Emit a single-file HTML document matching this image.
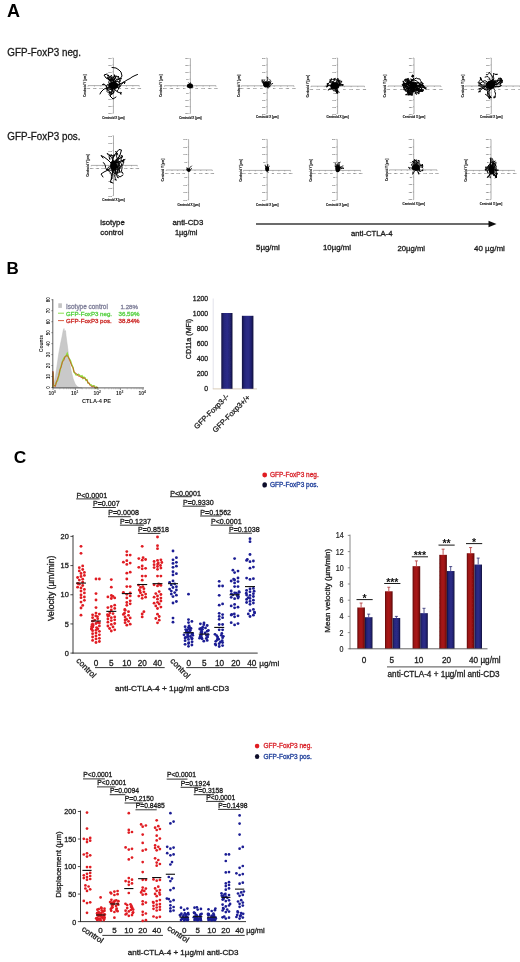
<!DOCTYPE html>
<html><head><meta charset="utf-8"><title>Figure</title>
<style>
html,body{margin:0;padding:0;background:#fff;}
body{width:520px;height:962px;overflow:hidden;font-family:"Liberation Sans",sans-serif;}
svg{display:block;font-family:"Liberation Sans",sans-serif;}
</style></head><body>
<svg width="520" height="962" viewBox="0 0 520 962">
<defs><filter id="soft" x="0" y="0" width="520" height="962" filterUnits="userSpaceOnUse"><feGaussianBlur stdDeviation="0.4"/></filter></defs>
<rect width="520" height="962" fill="#ffffff"/>
<g fill="#1a1a1a" filter="url(#soft)">
<text x="7.10" y="17.10" font-size="18" fill="#000" font-weight="bold">A</text>
<text x="6.40" y="274.20" font-size="17" fill="#000" font-weight="bold">B</text>
<text x="13.80" y="462.90" font-size="17.3" fill="#000" font-weight="bold">C</text>
<text transform="translate(7.3,56.0) scale(0.955,1)" font-size="10.3" stroke="#1a1a1a" stroke-width="0.3">GFP-FoxP3 neg.</text>
<text transform="translate(7.3,139.5) scale(0.955,1)" font-size="10.3" stroke="#1a1a1a" stroke-width="0.3">GFP-FoxP3 pos.</text>
<line x1="113.40" y1="58.00" x2="113.40" y2="113.30" stroke="#777" stroke-width="0.6"/>
<line x1="88.00" y1="85.60" x2="139.30" y2="85.60" stroke="#777" stroke-width="0.6"/>
<line x1="112.40" y1="58.00" x2="113.40" y2="58.00" stroke="#777" stroke-width="0.5"/>
<text x="111.80" y="58.80" font-size="2.2" text-anchor="end" fill="#666" font-weight="bold">200</text>
<line x1="112.40" y1="64.91" x2="113.40" y2="64.91" stroke="#777" stroke-width="0.5"/>
<text x="111.80" y="65.71" font-size="2.2" text-anchor="end" fill="#666" font-weight="bold">150</text>
<line x1="112.40" y1="71.83" x2="113.40" y2="71.83" stroke="#777" stroke-width="0.5"/>
<text x="111.80" y="72.62" font-size="2.2" text-anchor="end" fill="#666" font-weight="bold">100</text>
<line x1="112.40" y1="78.74" x2="113.40" y2="78.74" stroke="#777" stroke-width="0.5"/>
<text x="111.80" y="79.54" font-size="2.2" text-anchor="end" fill="#666" font-weight="bold">50</text>
<line x1="112.40" y1="92.56" x2="113.40" y2="92.56" stroke="#777" stroke-width="0.5"/>
<text x="111.80" y="93.36" font-size="2.2" text-anchor="end" fill="#666" font-weight="bold">-50</text>
<line x1="112.40" y1="99.47" x2="113.40" y2="99.47" stroke="#777" stroke-width="0.5"/>
<text x="111.80" y="100.27" font-size="2.2" text-anchor="end" fill="#666" font-weight="bold">-100</text>
<line x1="112.40" y1="106.39" x2="113.40" y2="106.39" stroke="#777" stroke-width="0.5"/>
<text x="111.80" y="107.19" font-size="2.2" text-anchor="end" fill="#666" font-weight="bold">-150</text>
<line x1="112.40" y1="113.30" x2="113.40" y2="113.30" stroke="#777" stroke-width="0.5"/>
<text x="111.80" y="114.10" font-size="2.2" text-anchor="end" fill="#666" font-weight="bold">-200</text>
<line x1="88.00" y1="85.60" x2="88.00" y2="86.60" stroke="#777" stroke-width="0.5"/>
<text x="88.00" y="89.20" font-size="2.2" text-anchor="middle" fill="#666" font-weight="bold">-200</text>
<line x1="94.41" y1="85.60" x2="94.41" y2="86.60" stroke="#777" stroke-width="0.5"/>
<text x="94.41" y="89.20" font-size="2.2" text-anchor="middle" fill="#666" font-weight="bold">-150</text>
<line x1="100.83" y1="85.60" x2="100.83" y2="86.60" stroke="#777" stroke-width="0.5"/>
<text x="100.83" y="89.20" font-size="2.2" text-anchor="middle" fill="#666" font-weight="bold">-100</text>
<line x1="107.24" y1="85.60" x2="107.24" y2="86.60" stroke="#777" stroke-width="0.5"/>
<text x="107.24" y="89.20" font-size="2.2" text-anchor="middle" fill="#666" font-weight="bold">-50</text>
<line x1="120.06" y1="85.60" x2="120.06" y2="86.60" stroke="#777" stroke-width="0.5"/>
<text x="120.06" y="89.20" font-size="2.2" text-anchor="middle" fill="#666" font-weight="bold">50</text>
<line x1="126.48" y1="85.60" x2="126.48" y2="86.60" stroke="#777" stroke-width="0.5"/>
<text x="126.48" y="89.20" font-size="2.2" text-anchor="middle" fill="#666" font-weight="bold">100</text>
<line x1="132.89" y1="85.60" x2="132.89" y2="86.60" stroke="#777" stroke-width="0.5"/>
<text x="132.89" y="89.20" font-size="2.2" text-anchor="middle" fill="#666" font-weight="bold">150</text>
<line x1="139.30" y1="85.60" x2="139.30" y2="86.60" stroke="#777" stroke-width="0.5"/>
<text x="139.30" y="89.20" font-size="2.2" text-anchor="middle" fill="#666" font-weight="bold">200</text>
<text x="85.70" y="85.60" font-size="3.0" text-anchor="middle" fill="#111" font-weight="bold" transform="rotate(-90 85.70 85.60)" stroke="#111" stroke-width="0.12">Centroid Y [µm]</text>
<text x="113.40" y="119.00" font-size="3.0" text-anchor="middle" fill="#111" font-weight="bold" stroke="#111" stroke-width="0.12">Centroid X [µm]</text>
<ellipse cx="113.4" cy="85.6" rx="5.2" ry="3.8" fill="#000"/>
<path d="M113.4 85.6L114.3 84.6L114.9 83.5L114.6 82.2L113.6 81.4L112.7 80.4L111.9 79.4L111.4 78.2L110.4 77.4L109.6 76.4L110.9 76.5L111.3 75.2L111.9 76.4L112.3 77.6L112.0 78.9 M113.4 85.6L113.6 86.9L114.8 87.3L116.1 87.5L117.4 87.5L118.7 87.2L119.9 87.0L120.5 85.9L121.1 84.7L121.8 83.6L123.0 83.1L123.6 81.9L124.8 82.6L124.4 83.8L124.9 82.6 M113.4 85.6L113.4 86.9L113.0 88.1L112.4 89.3L111.4 90.1L110.8 88.9L109.5 88.7L108.4 88.0L107.2 87.6L106.6 86.4L105.5 85.7L104.9 84.5L103.6 84.2L102.4 84.5L103.6 84.3 M113.4 85.6L112.2 86.1L112.9 87.2L113.7 88.2L114.9 88.8L114.8 90.1L116.1 90.4L116.8 91.5L118.0 92.1L119.2 92.6L120.5 92.4L121.7 92.9L120.4 93.2L120.9 94.4L120.3 93.3 M113.4 85.6L113.3 86.9L112.6 88.0L111.7 89.0L112.5 90.0L112.2 91.2L111.5 92.4L110.2 92.3L109.0 91.9L107.8 92.4L107.0 91.4L107.2 90.1L107.2 88.8L108.0 87.7L108.8 86.7 M113.4 85.6L113.8 86.8L114.3 88.0L114.5 89.3L113.9 90.5L113.7 91.7L113.8 93.0L112.5 93.4L111.2 93.3L110.2 94.0L109.5 92.9L109.5 91.6L108.9 90.4L107.7 90.0L106.6 89.3 M113.4 85.6L113.5 86.9L114.3 88.0L115.5 87.6L115.8 86.4L115.1 85.3L114.4 84.2L113.5 83.2L112.3 82.7L111.1 83.0L111.1 81.7L110.1 80.8L109.0 80.1L108.7 78.8L108.5 77.6 M113.4 85.6L112.2 85.2L111.0 84.6L109.7 84.3L108.5 84.1L107.3 84.7L106.6 85.8L106.2 87.0L106.6 88.3L107.4 89.3L108.7 89.1L110.0 89.3L111.2 89.4L112.3 88.6L111.4 87.6 M113.4 85.6L113.2 86.9L112.8 88.1L112.7 89.4L111.8 90.4L111.3 91.6L110.1 92.2L109.4 93.3L109.1 94.6L109.9 95.6L110.9 94.8L112.0 94.1L113.1 93.4L113.5 92.1L114.2 91.1 M113.4 85.6L112.7 84.5L112.4 83.2L113.0 82.0L113.4 80.8L113.4 79.5L113.1 78.3L113.5 77.0L114.4 76.0L114.4 74.7L114.6 76.0L115.3 77.1L115.0 78.3L114.1 79.2L113.7 80.5 M113.4 85.6L112.5 84.7L112.2 83.4L112.5 82.2L113.7 82.0L115.0 82.1L116.3 81.7L117.4 81.1L118.4 81.9L119.7 81.8L120.3 80.7L120.7 79.5L121.5 78.4L120.2 78.4L118.9 78.5 M113.4 85.6L113.0 84.4L112.0 83.6L111.3 82.5L111.0 81.2L110.4 80.0L111.7 79.6L112.9 79.3L113.4 80.5L114.6 80.3L114.4 79.0L115.1 77.9L116.1 77.1L117.0 76.2L117.8 77.2 M113.4 85.6L112.3 84.9L111.2 84.2L110.0 83.9L108.9 83.0L108.9 81.7L109.3 80.5L109.4 79.2L110.7 78.9L111.2 80.1L111.1 81.4L111.8 82.5L112.9 82.0L113.9 82.8L115.2 82.7 M113.4 85.6L114.5 84.9L115.7 84.4L117.0 84.2L118.2 84.7L119.5 84.6L120.4 83.6L119.6 82.6L119.9 81.3L119.5 80.1L118.6 79.1L117.8 78.1L118.6 77.1L117.9 76.0L118.7 77.0 M113.4 85.6L113.9 84.4L113.9 83.1L114.4 81.9L113.2 81.3L112.4 80.3L111.1 80.8L110.1 80.0L109.1 79.1L108.2 78.2L107.2 77.4L107.7 78.6L108.9 79.1L110.1 79.5L111.0 78.5 M113.4 85.6L113.8 84.4L114.6 83.4L115.6 82.4L116.6 81.7L117.8 81.2L118.6 82.3L119.6 83.2L119.7 84.4L119.3 85.7L119.3 87.0L118.5 88.0L118.5 89.3L117.5 90.2L117.2 91.5 M113.4 85.6L113.8 84.4L113.9 83.1L114.4 81.9L113.7 80.8L112.6 80.1L111.4 79.6L110.3 78.9L109.4 78.0L109.3 76.7L108.2 76.1L108.9 75.0L108.1 76.0L107.8 74.7L107.8 76.0 M113.4 85.6L114.4 84.8L115.5 84.1L115.4 82.8L115.0 81.5L115.5 80.3L116.3 79.3L115.6 78.2L115.6 76.9L116.5 75.9L115.2 76.0L114.3 77.0L113.5 78.0L112.2 78.2L111.3 77.2 M114 85L116 80L120 79L122 76L121 72L119 70L116 68L112 67.5 M114 85L120 84L124 82L127 80L130 78.5L132 77L135 75.5L137.5 74.5 M114 85L108 88L104 89L101 92L100 94 M114 85L112 92L110 96L113 99L116 97 M110 80L106 78L104 75L107 74" fill="none" stroke="#000" stroke-width="1.0" stroke-linejoin="round" stroke-linecap="round"/>
<line x1="190.40" y1="58.50" x2="190.40" y2="113.50" stroke="#777" stroke-width="0.6"/>
<line x1="164.50" y1="85.70" x2="216.00" y2="85.70" stroke="#777" stroke-width="0.6"/>
<line x1="189.40" y1="58.50" x2="190.40" y2="58.50" stroke="#777" stroke-width="0.5"/>
<text x="188.80" y="59.30" font-size="2.2" text-anchor="end" fill="#666" font-weight="bold">200</text>
<line x1="189.40" y1="65.38" x2="190.40" y2="65.38" stroke="#777" stroke-width="0.5"/>
<text x="188.80" y="66.17" font-size="2.2" text-anchor="end" fill="#666" font-weight="bold">150</text>
<line x1="189.40" y1="72.25" x2="190.40" y2="72.25" stroke="#777" stroke-width="0.5"/>
<text x="188.80" y="73.05" font-size="2.2" text-anchor="end" fill="#666" font-weight="bold">100</text>
<line x1="189.40" y1="79.12" x2="190.40" y2="79.12" stroke="#777" stroke-width="0.5"/>
<text x="188.80" y="79.92" font-size="2.2" text-anchor="end" fill="#666" font-weight="bold">50</text>
<line x1="189.40" y1="92.88" x2="190.40" y2="92.88" stroke="#777" stroke-width="0.5"/>
<text x="188.80" y="93.67" font-size="2.2" text-anchor="end" fill="#666" font-weight="bold">-50</text>
<line x1="189.40" y1="99.75" x2="190.40" y2="99.75" stroke="#777" stroke-width="0.5"/>
<text x="188.80" y="100.55" font-size="2.2" text-anchor="end" fill="#666" font-weight="bold">-100</text>
<line x1="189.40" y1="106.62" x2="190.40" y2="106.62" stroke="#777" stroke-width="0.5"/>
<text x="188.80" y="107.42" font-size="2.2" text-anchor="end" fill="#666" font-weight="bold">-150</text>
<line x1="189.40" y1="113.50" x2="190.40" y2="113.50" stroke="#777" stroke-width="0.5"/>
<text x="188.80" y="114.30" font-size="2.2" text-anchor="end" fill="#666" font-weight="bold">-200</text>
<line x1="164.50" y1="85.70" x2="164.50" y2="86.70" stroke="#777" stroke-width="0.5"/>
<text x="164.50" y="89.30" font-size="2.2" text-anchor="middle" fill="#666" font-weight="bold">-200</text>
<line x1="170.94" y1="85.70" x2="170.94" y2="86.70" stroke="#777" stroke-width="0.5"/>
<text x="170.94" y="89.30" font-size="2.2" text-anchor="middle" fill="#666" font-weight="bold">-150</text>
<line x1="177.38" y1="85.70" x2="177.38" y2="86.70" stroke="#777" stroke-width="0.5"/>
<text x="177.38" y="89.30" font-size="2.2" text-anchor="middle" fill="#666" font-weight="bold">-100</text>
<line x1="183.81" y1="85.70" x2="183.81" y2="86.70" stroke="#777" stroke-width="0.5"/>
<text x="183.81" y="89.30" font-size="2.2" text-anchor="middle" fill="#666" font-weight="bold">-50</text>
<line x1="196.69" y1="85.70" x2="196.69" y2="86.70" stroke="#777" stroke-width="0.5"/>
<text x="196.69" y="89.30" font-size="2.2" text-anchor="middle" fill="#666" font-weight="bold">50</text>
<line x1="203.12" y1="85.70" x2="203.12" y2="86.70" stroke="#777" stroke-width="0.5"/>
<text x="203.12" y="89.30" font-size="2.2" text-anchor="middle" fill="#666" font-weight="bold">100</text>
<line x1="209.56" y1="85.70" x2="209.56" y2="86.70" stroke="#777" stroke-width="0.5"/>
<text x="209.56" y="89.30" font-size="2.2" text-anchor="middle" fill="#666" font-weight="bold">150</text>
<line x1="216.00" y1="85.70" x2="216.00" y2="86.70" stroke="#777" stroke-width="0.5"/>
<text x="216.00" y="89.30" font-size="2.2" text-anchor="middle" fill="#666" font-weight="bold">200</text>
<text x="162.20" y="85.70" font-size="3.0" text-anchor="middle" fill="#111" font-weight="bold" transform="rotate(-90 162.20 85.70)" stroke="#111" stroke-width="0.12">Centroid Y [µm]</text>
<text x="190.40" y="118.70" font-size="3.0" text-anchor="middle" fill="#111" font-weight="bold" stroke="#111" stroke-width="0.12">Centroid X [µm]</text>
<ellipse cx="190.0" cy="85.7" rx="3.0" ry="2.3" fill="#000"/>
<path d="M190.0 85.7L190.6 86.0L191.1 86.5L191.4 87.2L191.6 87.8L192.3 87.8 M190.0 85.7L189.7 86.3L189.3 86.9L189.3 87.6L189.7 88.2L190.2 88.7 M190.0 85.7L189.9 86.4L189.5 87.0L188.9 86.8L188.2 87.0L187.5 86.9 M190.0 85.7L190.5 86.2L191.2 86.4L191.3 87.1L191.5 87.8L192.2 87.5 M190.0 85.7L189.8 85.0L189.9 84.4L189.8 83.7L189.2 83.3L188.7 82.8 M190.0 85.7L189.8 85.0L190.4 84.8L190.8 84.2L190.7 83.5L190.5 82.8 M190.0 85.7L189.4 85.4L188.7 85.6L188.0 85.5L187.4 85.8L187.3 86.5 M190.0 85.7L190.7 85.5L191.4 85.6L191.9 86.0L192.4 86.5L193.0 86.8 " fill="none" stroke="#000" stroke-width="0.9" stroke-linejoin="round" stroke-linecap="round"/>
<line x1="267.20" y1="58.00" x2="267.20" y2="113.70" stroke="#777" stroke-width="0.6"/>
<line x1="241.30" y1="85.80" x2="294.00" y2="85.80" stroke="#777" stroke-width="0.6"/>
<line x1="266.20" y1="58.00" x2="267.20" y2="58.00" stroke="#777" stroke-width="0.5"/>
<text x="265.60" y="58.80" font-size="2.2" text-anchor="end" fill="#666" font-weight="bold">200</text>
<line x1="266.20" y1="64.96" x2="267.20" y2="64.96" stroke="#777" stroke-width="0.5"/>
<text x="265.60" y="65.76" font-size="2.2" text-anchor="end" fill="#666" font-weight="bold">150</text>
<line x1="266.20" y1="71.92" x2="267.20" y2="71.92" stroke="#777" stroke-width="0.5"/>
<text x="265.60" y="72.72" font-size="2.2" text-anchor="end" fill="#666" font-weight="bold">100</text>
<line x1="266.20" y1="78.89" x2="267.20" y2="78.89" stroke="#777" stroke-width="0.5"/>
<text x="265.60" y="79.69" font-size="2.2" text-anchor="end" fill="#666" font-weight="bold">50</text>
<line x1="266.20" y1="92.81" x2="267.20" y2="92.81" stroke="#777" stroke-width="0.5"/>
<text x="265.60" y="93.61" font-size="2.2" text-anchor="end" fill="#666" font-weight="bold">-50</text>
<line x1="266.20" y1="99.78" x2="267.20" y2="99.78" stroke="#777" stroke-width="0.5"/>
<text x="265.60" y="100.58" font-size="2.2" text-anchor="end" fill="#666" font-weight="bold">-100</text>
<line x1="266.20" y1="106.74" x2="267.20" y2="106.74" stroke="#777" stroke-width="0.5"/>
<text x="265.60" y="107.54" font-size="2.2" text-anchor="end" fill="#666" font-weight="bold">-150</text>
<line x1="266.20" y1="113.70" x2="267.20" y2="113.70" stroke="#777" stroke-width="0.5"/>
<text x="265.60" y="114.50" font-size="2.2" text-anchor="end" fill="#666" font-weight="bold">-200</text>
<line x1="241.30" y1="85.80" x2="241.30" y2="86.80" stroke="#777" stroke-width="0.5"/>
<text x="241.30" y="89.40" font-size="2.2" text-anchor="middle" fill="#666" font-weight="bold">-200</text>
<line x1="247.89" y1="85.80" x2="247.89" y2="86.80" stroke="#777" stroke-width="0.5"/>
<text x="247.89" y="89.40" font-size="2.2" text-anchor="middle" fill="#666" font-weight="bold">-150</text>
<line x1="254.48" y1="85.80" x2="254.48" y2="86.80" stroke="#777" stroke-width="0.5"/>
<text x="254.48" y="89.40" font-size="2.2" text-anchor="middle" fill="#666" font-weight="bold">-100</text>
<line x1="261.06" y1="85.80" x2="261.06" y2="86.80" stroke="#777" stroke-width="0.5"/>
<text x="261.06" y="89.40" font-size="2.2" text-anchor="middle" fill="#666" font-weight="bold">-50</text>
<line x1="274.24" y1="85.80" x2="274.24" y2="86.80" stroke="#777" stroke-width="0.5"/>
<text x="274.24" y="89.40" font-size="2.2" text-anchor="middle" fill="#666" font-weight="bold">50</text>
<line x1="280.82" y1="85.80" x2="280.82" y2="86.80" stroke="#777" stroke-width="0.5"/>
<text x="280.82" y="89.40" font-size="2.2" text-anchor="middle" fill="#666" font-weight="bold">100</text>
<line x1="287.41" y1="85.80" x2="287.41" y2="86.80" stroke="#777" stroke-width="0.5"/>
<text x="287.41" y="89.40" font-size="2.2" text-anchor="middle" fill="#666" font-weight="bold">150</text>
<line x1="294.00" y1="85.80" x2="294.00" y2="86.80" stroke="#777" stroke-width="0.5"/>
<text x="294.00" y="89.40" font-size="2.2" text-anchor="middle" fill="#666" font-weight="bold">200</text>
<text x="239.60" y="85.80" font-size="3.0" text-anchor="middle" fill="#111" font-weight="bold" transform="rotate(-90 239.60 85.80)" stroke="#111" stroke-width="0.12">Centroid Y [µm]</text>
<text x="267.20" y="118.40" font-size="3.0" text-anchor="middle" fill="#111" font-weight="bold" stroke="#111" stroke-width="0.12">Centroid X [µm]</text>
<ellipse cx="266.4" cy="84.4" rx="3.2" ry="2.8" fill="#000"/>
<path d="M266.4 84.4L267.4 84.4L267.6 83.3L268.6 83.1L269.4 82.5L270.3 82.0L271.1 81.4L270.4 80.7L269.9 79.7 M266.4 84.4L267.0 85.2L267.7 85.8L268.7 85.9L269.7 86.1L270.4 85.4L270.9 84.4L271.8 83.9L272.7 83.5 M266.4 84.4L265.9 85.2L266.1 86.2L265.6 87.0L264.6 86.7L264.0 85.9L264.2 84.8L264.4 83.8L264.7 82.8 M266.4 84.4L266.0 85.3L265.1 85.8L264.6 84.9L264.0 84.1L263.0 83.7L263.7 82.9L263.3 81.9L262.6 81.1 M266.4 84.4L265.4 84.5L264.6 85.0L264.1 84.1L263.3 83.4L262.5 82.8L262.1 81.9L262.0 80.8L262.2 79.8 M266.4 84.4L266.1 85.3L265.1 85.4L264.5 84.5L264.0 83.6L263.3 82.9L263.0 81.9L263.1 80.9L262.4 80.1 M266.4 84.4L266.2 85.3L265.9 86.2L265.2 85.5L265.2 84.4L266.1 84.1L267.1 84.0L268.1 83.9L269.1 83.8 M266.4 84.4L265.4 84.3L264.7 83.5L264.3 82.6L263.8 81.6L264.2 80.6L265.0 81.2L265.5 82.0L264.8 82.7 M266.4 84.4L266.9 83.5L267.1 82.5L266.8 81.5L267.2 80.5L267.7 79.6L267.8 78.5L267.8 77.5L266.9 77.2 M266.4 84.4L267.2 84.9L267.7 85.7L267.7 86.7L267.2 87.5L268.0 88.1L268.9 87.6L269.0 86.5L270.0 86.6 M266.4 84.4L266.7 83.4L267.5 82.8L268.4 82.2L269.4 82.0L270.2 82.4L270.3 83.4L269.9 84.2L269.5 85.1 M266.4 84.4L267.4 84.4L268.4 84.4L269.3 83.9L270.3 83.7L270.5 82.7L269.9 81.8L268.9 81.7L267.9 81.3 " fill="none" stroke="#000" stroke-width="0.9" stroke-linejoin="round" stroke-linecap="round"/>
<line x1="337.60" y1="58.00" x2="337.60" y2="113.70" stroke="#777" stroke-width="0.6"/>
<line x1="311.00" y1="86.20" x2="364.50" y2="86.20" stroke="#777" stroke-width="0.6"/>
<line x1="336.60" y1="58.00" x2="337.60" y2="58.00" stroke="#777" stroke-width="0.5"/>
<text x="336.00" y="58.80" font-size="2.2" text-anchor="end" fill="#666" font-weight="bold">200</text>
<line x1="336.60" y1="64.96" x2="337.60" y2="64.96" stroke="#777" stroke-width="0.5"/>
<text x="336.00" y="65.76" font-size="2.2" text-anchor="end" fill="#666" font-weight="bold">150</text>
<line x1="336.60" y1="71.92" x2="337.60" y2="71.92" stroke="#777" stroke-width="0.5"/>
<text x="336.00" y="72.72" font-size="2.2" text-anchor="end" fill="#666" font-weight="bold">100</text>
<line x1="336.60" y1="78.89" x2="337.60" y2="78.89" stroke="#777" stroke-width="0.5"/>
<text x="336.00" y="79.69" font-size="2.2" text-anchor="end" fill="#666" font-weight="bold">50</text>
<line x1="336.60" y1="92.81" x2="337.60" y2="92.81" stroke="#777" stroke-width="0.5"/>
<text x="336.00" y="93.61" font-size="2.2" text-anchor="end" fill="#666" font-weight="bold">-50</text>
<line x1="336.60" y1="99.78" x2="337.60" y2="99.78" stroke="#777" stroke-width="0.5"/>
<text x="336.00" y="100.58" font-size="2.2" text-anchor="end" fill="#666" font-weight="bold">-100</text>
<line x1="336.60" y1="106.74" x2="337.60" y2="106.74" stroke="#777" stroke-width="0.5"/>
<text x="336.00" y="107.54" font-size="2.2" text-anchor="end" fill="#666" font-weight="bold">-150</text>
<line x1="336.60" y1="113.70" x2="337.60" y2="113.70" stroke="#777" stroke-width="0.5"/>
<text x="336.00" y="114.50" font-size="2.2" text-anchor="end" fill="#666" font-weight="bold">-200</text>
<line x1="311.00" y1="86.20" x2="311.00" y2="87.20" stroke="#777" stroke-width="0.5"/>
<text x="311.00" y="89.80" font-size="2.2" text-anchor="middle" fill="#666" font-weight="bold">-200</text>
<line x1="317.69" y1="86.20" x2="317.69" y2="87.20" stroke="#777" stroke-width="0.5"/>
<text x="317.69" y="89.80" font-size="2.2" text-anchor="middle" fill="#666" font-weight="bold">-150</text>
<line x1="324.38" y1="86.20" x2="324.38" y2="87.20" stroke="#777" stroke-width="0.5"/>
<text x="324.38" y="89.80" font-size="2.2" text-anchor="middle" fill="#666" font-weight="bold">-100</text>
<line x1="331.06" y1="86.20" x2="331.06" y2="87.20" stroke="#777" stroke-width="0.5"/>
<text x="331.06" y="89.80" font-size="2.2" text-anchor="middle" fill="#666" font-weight="bold">-50</text>
<line x1="344.44" y1="86.20" x2="344.44" y2="87.20" stroke="#777" stroke-width="0.5"/>
<text x="344.44" y="89.80" font-size="2.2" text-anchor="middle" fill="#666" font-weight="bold">50</text>
<line x1="351.12" y1="86.20" x2="351.12" y2="87.20" stroke="#777" stroke-width="0.5"/>
<text x="351.12" y="89.80" font-size="2.2" text-anchor="middle" fill="#666" font-weight="bold">100</text>
<line x1="357.81" y1="86.20" x2="357.81" y2="87.20" stroke="#777" stroke-width="0.5"/>
<text x="357.81" y="89.80" font-size="2.2" text-anchor="middle" fill="#666" font-weight="bold">150</text>
<line x1="364.50" y1="86.20" x2="364.50" y2="87.20" stroke="#777" stroke-width="0.5"/>
<text x="364.50" y="89.80" font-size="2.2" text-anchor="middle" fill="#666" font-weight="bold">200</text>
<text x="309.00" y="86.20" font-size="3.0" text-anchor="middle" fill="#111" font-weight="bold" transform="rotate(-90 309.00 86.20)" stroke="#111" stroke-width="0.12">Centroid Y [µm]</text>
<text x="337.60" y="118.40" font-size="3.0" text-anchor="middle" fill="#111" font-weight="bold" stroke="#111" stroke-width="0.12">Centroid X [µm]</text>
<ellipse cx="334.8" cy="85.9" rx="4.6" ry="3.6" fill="#000"/>
<path d="M334.8 85.9L335.7 86.6L336.8 86.4L337.8 86.1L338.9 85.9L339.8 85.3L339.9 84.1L340.1 83.0L339.4 82.0L338.9 81.0L337.8 80.5L337.0 79.6L335.9 80.0 M334.8 85.9L335.4 85.0L335.7 83.9L336.4 83.0L337.5 83.0L338.6 83.4L339.6 83.0L340.7 83.1L341.2 82.1L342.1 81.4L340.9 81.2L341.5 82.1L340.7 81.2 M334.8 85.9L335.9 86.1L335.3 87.1L335.2 88.3L335.4 89.4L336.0 90.3L337.1 90.6L336.7 91.7L337.1 92.8L338.2 92.8L337.1 93.4L337.5 92.3L337.9 91.2 M334.8 85.9L335.9 86.1L337.0 85.9L337.9 85.3L338.8 84.6L339.9 84.6L340.7 84.0L341.8 84.2L342.3 85.2L342.1 84.1L342.5 85.1L343.6 84.9L342.4 85.3 M334.8 85.9L335.5 86.8L335.2 87.9L335.6 88.9L336.3 89.8L336.2 91.0L336.5 92.1L336.4 93.2L336.6 92.1L335.5 91.5L335.0 90.4L334.1 91.1L333.1 90.4 M334.8 85.9L333.6 86.2L332.6 86.7L332.2 87.8L333.2 88.2L333.7 87.3L334.7 86.7L335.7 86.4L336.1 85.3L335.2 84.5L334.5 83.6L333.5 82.9L332.7 82.0 M334.8 85.9L334.5 87.0L333.4 87.5L332.2 87.8L331.3 88.6L330.2 89.0L329.1 89.4L328.4 90.3L328.7 89.2L329.7 88.8L330.8 89.0L331.9 88.9L331.9 87.8 M334.8 85.9L333.6 86.1L332.5 86.4L331.5 85.7L330.3 85.5L329.1 85.3L328.0 85.5L326.8 85.3L327.8 84.9L328.0 83.8L326.8 83.9L327.9 83.9L328.8 83.3 M334.8 85.9L334.5 87.0L335.5 87.4L336.5 88.0L337.0 89.0L337.7 89.8L337.5 91.0L337.3 92.1L336.9 93.2L337.3 92.1L337.3 91.0L337.2 89.8L336.3 89.1 M334.8 85.9L333.6 86.0L332.4 86.3L331.3 85.8L332.0 84.9L332.0 83.7L331.3 82.8L331.0 81.6L329.8 81.7L329.2 82.7L328.4 83.6L327.3 84.0L328.2 84.7 M334.8 85.9L333.9 85.2L333.6 84.0L334.3 83.2L335.2 82.5L336.2 82.1L336.9 81.2L336.8 80.1L337.6 79.4L337.8 78.2L338.1 79.4L338.1 80.5L338.5 81.6 M334.8 85.9L334.8 84.8L333.8 84.0L333.5 82.9L332.6 82.1L331.5 81.8L330.8 82.7L329.7 82.5L329.7 81.3L330.5 80.6L330.9 79.5L331.4 78.5L331.6 79.6 M334.8 85.9L334.3 84.8L334.6 83.7L333.4 84.0L332.5 84.7L332.0 83.6L332.9 83.0L334.0 83.2L335.1 83.0L334.7 84.1L335.7 84.4L336.3 85.4L336.6 86.5 M334.8 85.9L334.0 85.0L332.9 84.7L331.8 85.3L330.6 85.3L329.4 85.2L328.2 85.3L327.0 85.2L327.7 86.1L327.1 87.1L327.1 86.0L326.9 87.1L325.9 86.4 M334.8 85.9L334.3 84.9L333.9 83.8L333.3 82.7L332.7 81.7L331.7 81.1L330.6 80.5L329.5 80.0L330.6 80.0L331.7 79.7L332.7 79.4L333.8 79.7L334.0 78.6 M334.8 85.9L333.7 85.5L332.8 84.7L332.5 83.6L332.3 82.4L333.1 81.7L334.1 81.2L334.2 80.0L334.5 79.0L335.5 78.4L334.3 78.8L335.2 79.4L334.5 80.3 M334.8 85.9L334.0 85.1L332.8 85.4L332.3 86.4L333.0 87.3L334.1 87.3L334.8 88.2L335.0 89.3L335.3 90.4L336.2 91.1L337.3 91.3L338.3 91.7L339.3 92.2 M334.8 85.9L334.7 84.8L335.2 83.8L336.1 83.1L337.1 83.6L338.0 84.2L338.8 85.0L339.9 85.2L340.0 84.0L339.2 83.1L338.3 82.4L338.2 81.2L337.9 80.1 M334.8 85.9L333.6 85.7L332.4 85.8L331.3 86.2L331.0 85.1L332.0 84.8L332.2 85.9L331.7 87.0L331.2 88.0L332.0 88.8L332.9 89.5L333.9 88.9L334.7 88.1 M334.8 85.9L335.9 85.6L336.7 86.3L337.7 85.8L338.8 85.4L339.5 84.6L339.7 83.4L339.5 82.3L339.6 81.2L338.6 80.6L338.7 79.5L339.1 80.6L340.2 80.4 M334.8 85.9L335.8 85.5L336.7 84.8L337.8 84.5L338.9 84.3L339.9 84.1L339.9 85.2L340.9 85.9L341.6 85.1L342.7 84.8L341.5 84.6L340.4 84.1L339.4 83.5 M334.8 85.9L335.7 85.3L336.5 84.5L336.7 83.4L336.5 82.2L336.9 81.2L337.8 80.6L338.8 81.0L338.0 81.8L337.9 83.0L337.1 83.8L337.4 84.9L338.1 85.8 " fill="none" stroke="#000" stroke-width="0.9" stroke-linejoin="round" stroke-linecap="round"/>
<line x1="414.00" y1="58.00" x2="414.00" y2="113.70" stroke="#777" stroke-width="0.6"/>
<line x1="388.00" y1="86.00" x2="441.00" y2="86.00" stroke="#777" stroke-width="0.6"/>
<line x1="413.00" y1="58.00" x2="414.00" y2="58.00" stroke="#777" stroke-width="0.5"/>
<text x="412.40" y="58.80" font-size="2.2" text-anchor="end" fill="#666" font-weight="bold">200</text>
<line x1="413.00" y1="64.96" x2="414.00" y2="64.96" stroke="#777" stroke-width="0.5"/>
<text x="412.40" y="65.76" font-size="2.2" text-anchor="end" fill="#666" font-weight="bold">150</text>
<line x1="413.00" y1="71.92" x2="414.00" y2="71.92" stroke="#777" stroke-width="0.5"/>
<text x="412.40" y="72.72" font-size="2.2" text-anchor="end" fill="#666" font-weight="bold">100</text>
<line x1="413.00" y1="78.89" x2="414.00" y2="78.89" stroke="#777" stroke-width="0.5"/>
<text x="412.40" y="79.69" font-size="2.2" text-anchor="end" fill="#666" font-weight="bold">50</text>
<line x1="413.00" y1="92.81" x2="414.00" y2="92.81" stroke="#777" stroke-width="0.5"/>
<text x="412.40" y="93.61" font-size="2.2" text-anchor="end" fill="#666" font-weight="bold">-50</text>
<line x1="413.00" y1="99.78" x2="414.00" y2="99.78" stroke="#777" stroke-width="0.5"/>
<text x="412.40" y="100.58" font-size="2.2" text-anchor="end" fill="#666" font-weight="bold">-100</text>
<line x1="413.00" y1="106.74" x2="414.00" y2="106.74" stroke="#777" stroke-width="0.5"/>
<text x="412.40" y="107.54" font-size="2.2" text-anchor="end" fill="#666" font-weight="bold">-150</text>
<line x1="413.00" y1="113.70" x2="414.00" y2="113.70" stroke="#777" stroke-width="0.5"/>
<text x="412.40" y="114.50" font-size="2.2" text-anchor="end" fill="#666" font-weight="bold">-200</text>
<line x1="388.00" y1="86.00" x2="388.00" y2="87.00" stroke="#777" stroke-width="0.5"/>
<text x="388.00" y="89.60" font-size="2.2" text-anchor="middle" fill="#666" font-weight="bold">-200</text>
<line x1="394.62" y1="86.00" x2="394.62" y2="87.00" stroke="#777" stroke-width="0.5"/>
<text x="394.62" y="89.60" font-size="2.2" text-anchor="middle" fill="#666" font-weight="bold">-150</text>
<line x1="401.25" y1="86.00" x2="401.25" y2="87.00" stroke="#777" stroke-width="0.5"/>
<text x="401.25" y="89.60" font-size="2.2" text-anchor="middle" fill="#666" font-weight="bold">-100</text>
<line x1="407.88" y1="86.00" x2="407.88" y2="87.00" stroke="#777" stroke-width="0.5"/>
<text x="407.88" y="89.60" font-size="2.2" text-anchor="middle" fill="#666" font-weight="bold">-50</text>
<line x1="421.12" y1="86.00" x2="421.12" y2="87.00" stroke="#777" stroke-width="0.5"/>
<text x="421.12" y="89.60" font-size="2.2" text-anchor="middle" fill="#666" font-weight="bold">50</text>
<line x1="427.75" y1="86.00" x2="427.75" y2="87.00" stroke="#777" stroke-width="0.5"/>
<text x="427.75" y="89.60" font-size="2.2" text-anchor="middle" fill="#666" font-weight="bold">100</text>
<line x1="434.38" y1="86.00" x2="434.38" y2="87.00" stroke="#777" stroke-width="0.5"/>
<text x="434.38" y="89.60" font-size="2.2" text-anchor="middle" fill="#666" font-weight="bold">150</text>
<line x1="441.00" y1="86.00" x2="441.00" y2="87.00" stroke="#777" stroke-width="0.5"/>
<text x="441.00" y="89.60" font-size="2.2" text-anchor="middle" fill="#666" font-weight="bold">200</text>
<text x="386.00" y="86.00" font-size="3.0" text-anchor="middle" fill="#111" font-weight="bold" transform="rotate(-90 386.00 86.00)" stroke="#111" stroke-width="0.12">Centroid Y [µm]</text>
<text x="414.00" y="118.40" font-size="3.0" text-anchor="middle" fill="#111" font-weight="bold" stroke="#111" stroke-width="0.12">Centroid X [µm]</text>
<ellipse cx="413.7" cy="85.5" rx="3.6" ry="3.2" fill="#000"/>
<path d="M413.7 85.5L415.6 85.9L417.5 86.1L419.4 86.2L421.2 85.6L423.0 85.1L421.1 85.2L419.3 84.7L419.2 82.9L417.5 81.9L416.2 80.6L414.4 80.2L412.5 79.8L410.8 79.0 M413.7 85.5L415.5 84.9L417.3 85.5L419.0 86.3L419.8 84.6L421.7 84.4L423.4 83.7L421.7 84.4L423.0 83.2L421.2 82.5L419.7 83.5L417.8 83.0L416.1 83.7L414.7 82.4 M413.7 85.5L415.1 84.3L413.9 83.0L412.1 82.2L410.2 81.9L411.3 80.5L413.2 80.2L414.7 79.1L416.2 78.0L417.9 78.8L419.8 78.9L420.5 80.6L421.5 82.1L420.9 83.8 M413.7 85.5L413.0 87.2L411.1 87.3L410.2 85.7L410.7 84.0L410.1 82.3L408.9 83.7L407.0 84.2L406.3 85.9L405.3 87.4L403.6 88.3L404.1 86.6L402.4 85.7L404.3 85.1 M413.7 85.5L414.6 87.1L416.0 88.3L416.5 90.0L418.2 90.9L419.3 92.4L418.7 94.1L418.4 92.3L419.5 90.8L421.3 90.4L422.6 91.7L421.7 90.1L423.5 90.8L423.1 89.1 M413.7 85.5L413.9 87.3L413.9 89.1L412.4 90.2L412.4 92.0L411.7 93.7L412.3 95.4L411.9 93.6L411.9 91.8L413.4 90.7L415.3 90.6L416.3 89.1L418.2 89.4L418.8 87.7 M413.7 85.5L413.6 87.3L413.3 89.1L412.8 90.8L411.5 92.0L409.5 92.2L409.2 93.9L407.3 94.0L405.5 94.7L407.5 94.8L409.3 95.1L407.8 94.1L408.1 92.3L407.9 90.5 M413.7 85.5L413.9 87.3L413.7 89.1L415.1 90.4L417.0 90.6L418.8 90.0L420.6 89.5L422.2 90.4L420.6 89.5L419.2 88.3L417.6 89.3L415.7 89.5L413.9 90.0L413.4 91.7 M413.7 85.5L414.4 87.2L414.2 88.9L413.5 90.6L411.6 91.0L410.4 89.6L410.8 87.8L410.7 86.1L408.8 85.5L408.0 83.9L407.5 82.2L406.3 80.8L405.3 79.2L405.3 81.0 M413.7 85.5L413.6 87.3L413.2 89.0L411.4 89.6L409.6 90.1L409.7 91.9L407.9 92.6L409.2 94.0L410.9 93.3L411.0 91.5L411.3 89.7L412.8 88.6L410.9 88.4L409.3 89.4 M413.7 85.5L412.0 84.7L410.1 84.9L409.8 86.7L409.7 88.5L407.8 88.5L406.0 89.3L404.9 90.7L406.7 91.2L407.6 92.8L407.6 91.0L407.1 89.3L407.9 87.6L406.4 86.5 M413.7 85.5L414.2 87.2L412.5 88.1L411.5 89.6L409.8 90.5L410.0 92.3L411.2 93.7L411.1 95.5L410.2 93.9L411.6 95.0L412.5 93.4L413.1 91.7L415.0 91.2L416.1 92.7 M413.7 85.5L411.9 84.9L410.0 85.1L409.8 83.3L408.4 82.1L407.0 80.9L406.7 79.1L408.5 78.4L408.8 80.2L408.5 81.9L410.3 82.5L412.1 83.1L411.4 84.7L413.0 85.7 M413.7 85.5L413.5 87.3L412.8 88.9L414.6 89.6L416.2 88.6L418.0 89.0L419.4 90.3L418.6 88.7L420.1 87.6L420.5 85.8L422.1 84.9L423.9 85.5L422.0 85.6L422.5 87.4 M413.7 85.5L412.0 84.6L410.8 83.2L409.4 82.0L407.9 83.2L408.4 84.9L409.6 86.3L411.5 86.7L410.4 88.1L408.7 89.0L406.9 88.3L405.4 89.4L405.8 91.2L407.5 90.3 M413.7 85.5L413.1 87.2L413.1 89.0L411.9 90.4L411.5 92.1L410.1 93.4L409.4 95.0L409.8 93.3L408.7 91.8L408.2 90.1L408.8 88.4L408.0 86.7L408.4 85.0L409.0 83.3 M413.7 85.5L411.9 86.2L410.3 87.2L408.4 87.2L406.5 87.3L404.8 88.1L403.2 87.0L404.7 88.2L403.7 89.7L405.6 89.5L406.5 88.0L405.3 86.5L404.4 84.9L405.8 86.2 M413.7 85.5L412.0 86.3L410.1 86.1L408.6 85.0L406.7 84.6L405.0 83.7L403.4 82.8L403.9 84.5L402.0 84.2L403.2 85.6L404.5 84.2L403.5 82.7L402.9 81.0L404.2 82.3 M413.7 85.5L412.0 86.3L410.7 87.6L411.2 89.4L409.6 90.4L408.0 89.4L408.4 91.1L408.8 92.9L410.3 91.7L411.1 90.1L411.6 88.4L413.1 87.2L411.9 85.8L410.5 84.6 M413.7 85.5L412.4 84.2L410.7 83.4L408.8 83.0L407.0 82.2L406.2 83.8L404.4 83.0L405.2 84.7L406.5 86.0L408.2 86.8L410.0 87.4L412.0 87.3L413.7 88.1L413.7 89.9 M413.7 85.5L413.9 83.7L413.7 81.9L411.8 82.2L412.3 83.9L410.9 82.6L412.8 82.2L413.9 83.6L414.5 85.3L416.4 84.9L415.0 83.7L413.4 84.8L412.5 83.2L410.8 82.4 M413.7 85.5L411.8 85.2L409.9 84.8L409.1 83.2L407.5 82.2L407.0 80.4L407.1 78.7L408.1 80.2L409.4 81.5L409.2 83.2L407.4 83.8L405.5 83.3L403.6 83.7L405.5 84.2 M413.7 85.5L412.1 84.5L411.9 82.7L410.9 81.2L412.1 79.8L413.7 78.9L412.8 77.3L411.8 75.8L413.7 76.2L412.3 75.0L413.9 75.9L412.3 76.8L413.0 75.2L411.6 76.4 M413.7 85.5L412.3 84.2L411.4 82.7L409.5 82.3L408.4 80.8L407.1 79.5L405.3 79.0L404.2 80.5L405.7 81.5L407.2 82.7L409.1 82.7L410.9 82.0L412.0 80.6L413.7 79.8 M413.7 85.5L413.0 83.8L414.6 82.9L416.4 82.4L418.3 82.3L419.8 83.5L418.8 85.0L418.1 86.7L417.5 88.4L419.0 89.5L420.6 90.5L422.3 91.3L420.4 91.5L418.7 90.6 M413.7 85.5L413.9 83.7L414.8 85.3L415.8 86.9L415.0 88.5L413.4 89.5L415.3 89.4L417.2 89.9L419.0 89.4L417.2 88.7L416.5 87.1L414.9 86.0L413.8 84.6L413.4 82.8 M413.7 85.5L415.3 86.5L417.2 86.9L418.9 86.0L420.5 86.9L422.4 87.1L424.2 86.3L423.3 88.0L424.6 86.6L424.5 88.4L426.1 87.4L425.8 89.1L424.6 87.7L425.7 89.2 M413.7 85.5L412.6 84.0L412.3 82.3L410.4 81.9L409.8 80.2L407.9 80.1L407.5 81.9L407.0 83.6L407.4 85.3L405.9 86.4L404.0 86.2L404.0 84.4L405.4 85.6L406.4 84.1 M413.7 85.5L414.6 87.1L415.8 88.5L417.7 88.7L419.3 87.8L421.2 87.3L421.7 89.0L422.9 90.4L421.5 89.2L421.1 87.4L420.4 85.8L418.5 85.8L416.7 85.1L417.0 83.3 M413.7 85.5L415.6 85.0L417.0 86.2L417.7 87.9L418.4 89.5L419.0 91.3L417.4 92.3L415.7 91.6L415.1 93.3L416.7 94.4L417.1 92.6L418.5 91.4L420.4 91.5L421.5 90.0 " fill="none" stroke="#000" stroke-width="1.0" stroke-linejoin="round" stroke-linecap="round"/>
<line x1="491.30" y1="58.00" x2="491.30" y2="113.70" stroke="#777" stroke-width="0.6"/>
<line x1="465.00" y1="86.00" x2="520.00" y2="86.00" stroke="#777" stroke-width="0.6"/>
<line x1="490.30" y1="58.00" x2="491.30" y2="58.00" stroke="#777" stroke-width="0.5"/>
<text x="489.70" y="58.80" font-size="2.2" text-anchor="end" fill="#666" font-weight="bold">200</text>
<line x1="490.30" y1="64.96" x2="491.30" y2="64.96" stroke="#777" stroke-width="0.5"/>
<text x="489.70" y="65.76" font-size="2.2" text-anchor="end" fill="#666" font-weight="bold">150</text>
<line x1="490.30" y1="71.92" x2="491.30" y2="71.92" stroke="#777" stroke-width="0.5"/>
<text x="489.70" y="72.72" font-size="2.2" text-anchor="end" fill="#666" font-weight="bold">100</text>
<line x1="490.30" y1="78.89" x2="491.30" y2="78.89" stroke="#777" stroke-width="0.5"/>
<text x="489.70" y="79.69" font-size="2.2" text-anchor="end" fill="#666" font-weight="bold">50</text>
<line x1="490.30" y1="92.81" x2="491.30" y2="92.81" stroke="#777" stroke-width="0.5"/>
<text x="489.70" y="93.61" font-size="2.2" text-anchor="end" fill="#666" font-weight="bold">-50</text>
<line x1="490.30" y1="99.78" x2="491.30" y2="99.78" stroke="#777" stroke-width="0.5"/>
<text x="489.70" y="100.58" font-size="2.2" text-anchor="end" fill="#666" font-weight="bold">-100</text>
<line x1="490.30" y1="106.74" x2="491.30" y2="106.74" stroke="#777" stroke-width="0.5"/>
<text x="489.70" y="107.54" font-size="2.2" text-anchor="end" fill="#666" font-weight="bold">-150</text>
<line x1="490.30" y1="113.70" x2="491.30" y2="113.70" stroke="#777" stroke-width="0.5"/>
<text x="489.70" y="114.50" font-size="2.2" text-anchor="end" fill="#666" font-weight="bold">-200</text>
<line x1="465.00" y1="86.00" x2="465.00" y2="87.00" stroke="#777" stroke-width="0.5"/>
<text x="465.00" y="89.60" font-size="2.2" text-anchor="middle" fill="#666" font-weight="bold">-200</text>
<line x1="471.88" y1="86.00" x2="471.88" y2="87.00" stroke="#777" stroke-width="0.5"/>
<text x="471.88" y="89.60" font-size="2.2" text-anchor="middle" fill="#666" font-weight="bold">-150</text>
<line x1="478.75" y1="86.00" x2="478.75" y2="87.00" stroke="#777" stroke-width="0.5"/>
<text x="478.75" y="89.60" font-size="2.2" text-anchor="middle" fill="#666" font-weight="bold">-100</text>
<line x1="485.62" y1="86.00" x2="485.62" y2="87.00" stroke="#777" stroke-width="0.5"/>
<text x="485.62" y="89.60" font-size="2.2" text-anchor="middle" fill="#666" font-weight="bold">-50</text>
<line x1="499.38" y1="86.00" x2="499.38" y2="87.00" stroke="#777" stroke-width="0.5"/>
<text x="499.38" y="89.60" font-size="2.2" text-anchor="middle" fill="#666" font-weight="bold">50</text>
<line x1="506.25" y1="86.00" x2="506.25" y2="87.00" stroke="#777" stroke-width="0.5"/>
<text x="506.25" y="89.60" font-size="2.2" text-anchor="middle" fill="#666" font-weight="bold">100</text>
<line x1="513.12" y1="86.00" x2="513.12" y2="87.00" stroke="#777" stroke-width="0.5"/>
<text x="513.12" y="89.60" font-size="2.2" text-anchor="middle" fill="#666" font-weight="bold">150</text>
<line x1="520.00" y1="86.00" x2="520.00" y2="87.00" stroke="#777" stroke-width="0.5"/>
<text x="520.00" y="89.60" font-size="2.2" text-anchor="middle" fill="#666" font-weight="bold">200</text>
<text x="463.50" y="86.00" font-size="3.0" text-anchor="middle" fill="#111" font-weight="bold" transform="rotate(-90 463.50 86.00)" stroke="#111" stroke-width="0.12">Centroid Y [µm]</text>
<text x="491.30" y="118.40" font-size="3.0" text-anchor="middle" fill="#111" font-weight="bold" stroke="#111" stroke-width="0.12">Centroid X [µm]</text>
<ellipse cx="490.5" cy="85.0" rx="4.6" ry="4.4" fill="#000"/>
<path d="M490.5 85.0L491.9 84.6L493.4 84.6L494.8 84.6L496.3 84.6L496.6 83.2L497.0 81.8L498.1 80.9L499.5 80.4L500.8 79.8L502.0 79.1L500.7 79.7L500.5 81.2L499.8 82.5 M490.5 85.0L491.9 85.0L493.3 85.5L494.1 84.3L494.7 83.0L494.2 81.6L493.0 80.8L491.6 81.0L490.3 80.2L489.5 79.0L489.0 77.7L488.0 76.6L486.5 76.7L485.1 77.1 M490.5 85.0L491.8 85.7L492.9 86.6L493.6 87.8L494.1 89.2L495.0 90.3L494.7 91.7L495.4 93.0L495.5 94.4L495.2 95.8L495.2 97.3L493.9 96.6L493.9 98.1L495.1 97.3 M490.5 85.0L491.0 86.3L491.5 87.7L491.0 89.1L490.0 90.2L488.8 91.0L487.6 91.8L488.1 93.2L488.6 94.5L489.7 95.5L490.4 96.7L491.4 97.8L490.0 97.3L490.8 96.1 M490.5 85.0L491.9 84.8L492.8 83.6L493.3 82.2L494.1 81.1L495.4 80.3L495.4 81.7L495.5 83.2L494.7 84.4L493.3 84.8L491.9 84.7L490.4 84.8L489.0 85.0L487.6 85.4 M490.5 85.0L491.3 86.2L492.7 86.5L494.1 86.9L495.6 87.0L496.7 86.1L498.1 86.5L499.5 86.2L500.7 85.4L500.1 84.1L500.9 82.9L501.6 81.6L502.1 80.2L502.1 81.7 M490.5 85.0L490.1 86.4L489.9 87.8L489.4 89.2L489.1 90.6L489.1 92.1L489.1 93.5L489.3 94.9L489.1 96.4L490.3 97.2L488.9 97.5L489.9 98.5L488.8 97.6L489.5 98.8 M490.5 85.0L489.2 85.6L487.9 86.3L487.0 87.5L485.9 88.3L485.1 89.6L483.9 88.9L483.1 87.6L483.3 86.2L484.8 86.0L485.9 86.9L487.1 87.7L488.1 88.7L489.1 89.8 M490.5 85.0L490.7 86.4L490.2 87.8L489.0 88.6L488.0 89.6L486.6 90.0L485.2 89.6L483.9 88.9L482.8 88.0L481.4 88.2L480.1 88.9L478.7 88.8L480.1 88.8L481.0 87.7 M490.5 85.0L489.2 85.5L488.0 86.4L487.0 87.5L487.4 88.9L487.1 90.3L487.5 91.7L487.6 93.1L487.6 94.6L488.1 95.9L488.7 97.3L487.7 96.2L486.8 95.1L485.5 94.4 M490.5 85.0L489.2 85.5L487.7 85.2L486.4 85.7L485.1 86.5L483.7 86.8L482.4 86.3L481.7 85.0L480.7 83.9L479.9 82.7L479.0 81.6L479.8 80.4L480.6 79.2L480.3 77.7 M490.5 85.0L489.1 84.7L487.6 84.5L486.3 85.1L485.5 86.3L485.0 87.6L483.6 88.1L482.3 88.7L481.2 89.6L480.2 90.7L480.1 92.1L479.3 90.9L478.9 92.3L479.5 91.0 M490.5 85.0L490.5 83.6L489.4 82.6L488.0 82.8L486.8 82.0L485.8 80.9L484.4 80.7L483.1 81.4L481.9 82.2L480.7 83.0L479.3 83.3L478.0 82.5L479.0 83.6L480.3 84.2 M490.5 85.0L489.9 83.7L490.7 82.5L491.7 81.4L492.0 80.0L493.3 79.4L494.0 80.7L494.7 82.0L496.1 81.6L496.7 80.3L498.1 80.3L499.6 80.1L500.9 80.6L502.1 81.5 M490.5 85.0L490.6 83.6L490.8 82.1L491.4 80.8L492.8 80.6L493.8 81.7L494.0 83.1L494.3 84.5L494.7 85.9L495.9 86.8L497.4 86.8L498.8 86.8L500.2 86.3L501.4 85.5 M490.5 85.0L489.3 84.2L488.0 83.5L487.0 84.6L485.6 85.0L484.2 85.0L482.7 85.0L481.3 84.9L479.8 85.0L478.4 85.2L479.7 85.9L481.1 86.3L482.2 87.3L483.1 88.4 M490.5 85.0L490.8 83.6L489.4 83.3L488.1 82.5L487.1 83.5L485.7 83.0L484.3 83.2L483.8 81.9L482.5 81.2L481.6 80.1L481.1 78.7L480.6 77.4L480.9 78.8L481.2 80.2 M490.5 85.0L490.6 83.6L491.1 82.2L491.4 80.8L492.5 79.8L492.9 78.4L492.6 77.0L491.8 75.8L491.2 74.5L490.1 73.6L489.3 72.3L488.7 73.7L487.7 74.7L486.3 74.7 M490.5 85.0L491.8 84.3L493.2 84.6L494.7 84.3L496.0 84.9L497.3 84.3L498.1 83.0L499.4 82.6L500.3 81.4L501.3 80.4L502.7 80.3L501.3 80.3L500.1 81.2L499.2 82.3 M490.5 85.0L491.2 83.7L492.6 83.6L494.0 83.2L495.4 82.7L496.7 82.0L497.5 80.9L498.1 79.6L498.6 78.2L500.1 78.4L501.5 78.7L500.3 77.9L501.1 79.1L499.7 79.2 M490.5 85.0L490.7 83.6L491.8 82.6L492.6 81.4L493.4 80.2L493.8 78.8L493.6 77.4L493.2 76.0L493.6 74.6L493.6 73.2L494.6 74.2L496.0 74.4L497.5 74.3L496.0 74.5 M490.5 85.0L491.8 84.4L493.3 84.7L494.5 84.0L495.9 84.5L497.3 84.2L498.7 83.9L500.2 84.0L501.2 83.0L502.5 82.3L501.0 82.2L499.6 82.1L498.3 82.7L497.6 84.0 " fill="none" stroke="#000" stroke-width="1.0" stroke-linejoin="round" stroke-linecap="round"/>
<line x1="113.50" y1="135.70" x2="113.50" y2="195.70" stroke="#777" stroke-width="0.6"/>
<line x1="91.20" y1="165.40" x2="137.30" y2="165.40" stroke="#777" stroke-width="0.6"/>
<line x1="112.50" y1="135.70" x2="113.50" y2="135.70" stroke="#777" stroke-width="0.5"/>
<text x="111.90" y="136.50" font-size="2.2" text-anchor="end" fill="#666" font-weight="bold">200</text>
<line x1="112.50" y1="143.20" x2="113.50" y2="143.20" stroke="#777" stroke-width="0.5"/>
<text x="111.90" y="144.00" font-size="2.2" text-anchor="end" fill="#666" font-weight="bold">150</text>
<line x1="112.50" y1="150.70" x2="113.50" y2="150.70" stroke="#777" stroke-width="0.5"/>
<text x="111.90" y="151.50" font-size="2.2" text-anchor="end" fill="#666" font-weight="bold">100</text>
<line x1="112.50" y1="158.20" x2="113.50" y2="158.20" stroke="#777" stroke-width="0.5"/>
<text x="111.90" y="159.00" font-size="2.2" text-anchor="end" fill="#666" font-weight="bold">50</text>
<line x1="112.50" y1="173.20" x2="113.50" y2="173.20" stroke="#777" stroke-width="0.5"/>
<text x="111.90" y="174.00" font-size="2.2" text-anchor="end" fill="#666" font-weight="bold">-50</text>
<line x1="112.50" y1="180.70" x2="113.50" y2="180.70" stroke="#777" stroke-width="0.5"/>
<text x="111.90" y="181.50" font-size="2.2" text-anchor="end" fill="#666" font-weight="bold">-100</text>
<line x1="112.50" y1="188.20" x2="113.50" y2="188.20" stroke="#777" stroke-width="0.5"/>
<text x="111.90" y="189.00" font-size="2.2" text-anchor="end" fill="#666" font-weight="bold">-150</text>
<line x1="112.50" y1="195.70" x2="113.50" y2="195.70" stroke="#777" stroke-width="0.5"/>
<text x="111.90" y="196.50" font-size="2.2" text-anchor="end" fill="#666" font-weight="bold">-200</text>
<line x1="91.20" y1="165.40" x2="91.20" y2="166.40" stroke="#777" stroke-width="0.5"/>
<text x="91.20" y="169.00" font-size="2.2" text-anchor="middle" fill="#666" font-weight="bold">-200</text>
<line x1="96.96" y1="165.40" x2="96.96" y2="166.40" stroke="#777" stroke-width="0.5"/>
<text x="96.96" y="169.00" font-size="2.2" text-anchor="middle" fill="#666" font-weight="bold">-150</text>
<line x1="102.73" y1="165.40" x2="102.73" y2="166.40" stroke="#777" stroke-width="0.5"/>
<text x="102.73" y="169.00" font-size="2.2" text-anchor="middle" fill="#666" font-weight="bold">-100</text>
<line x1="108.49" y1="165.40" x2="108.49" y2="166.40" stroke="#777" stroke-width="0.5"/>
<text x="108.49" y="169.00" font-size="2.2" text-anchor="middle" fill="#666" font-weight="bold">-50</text>
<line x1="120.01" y1="165.40" x2="120.01" y2="166.40" stroke="#777" stroke-width="0.5"/>
<text x="120.01" y="169.00" font-size="2.2" text-anchor="middle" fill="#666" font-weight="bold">50</text>
<line x1="125.78" y1="165.40" x2="125.78" y2="166.40" stroke="#777" stroke-width="0.5"/>
<text x="125.78" y="169.00" font-size="2.2" text-anchor="middle" fill="#666" font-weight="bold">100</text>
<line x1="131.54" y1="165.40" x2="131.54" y2="166.40" stroke="#777" stroke-width="0.5"/>
<text x="131.54" y="169.00" font-size="2.2" text-anchor="middle" fill="#666" font-weight="bold">150</text>
<line x1="137.30" y1="165.40" x2="137.30" y2="166.40" stroke="#777" stroke-width="0.5"/>
<text x="137.30" y="169.00" font-size="2.2" text-anchor="middle" fill="#666" font-weight="bold">200</text>
<text x="88.70" y="165.40" font-size="3.0" text-anchor="middle" fill="#111" font-weight="bold" transform="rotate(-90 88.70 165.40)" stroke="#111" stroke-width="0.12">Centroid Y [µm]</text>
<text x="113.50" y="201.20" font-size="3.0" text-anchor="middle" fill="#111" font-weight="bold" stroke="#111" stroke-width="0.12">Centroid X [µm]</text>
<ellipse cx="113.5" cy="165.4" rx="3.4" ry="5.2" fill="#000"/>
<path d="M113.5 165.4L114.3 164.4L115.4 163.8L116.6 163.8L117.0 165.2L116.9 166.7L117.8 167.7L118.2 169.1L117.8 170.5L117.7 172.0L117.0 173.2L116.7 171.8L115.7 171.0L116.1 169.6L116.8 168.5L117.0 167.0L116.7 165.5 M113.5 165.4L114.7 165.2L115.5 164.1L115.9 162.7L115.2 161.5L115.4 160.0L116.5 159.3L116.7 160.8L117.2 162.1L117.8 163.4L118.6 164.5L119.0 165.9L119.4 167.3L119.1 168.8L119.1 170.3L120.1 171.1L119.9 172.6 M113.5 165.4L114.7 165.3L115.8 164.8L116.8 165.6L117.5 166.8L118.0 168.2L118.8 169.2L119.5 170.4L119.4 171.9L118.5 172.9L117.5 173.6L116.4 173.8L115.8 175.1L116.6 176.1L117.6 176.8L118.3 178.1L117.5 176.9 M113.5 165.4L113.5 166.9L113.5 168.4L113.8 169.8L113.4 171.2L112.3 171.4L111.3 170.6L110.2 170.1L109.0 170.2L107.9 170.0L106.7 170.0L106.1 168.8L105.5 167.4L105.4 165.9L104.8 164.6L104.3 163.3L103.2 162.7 M113.5 165.4L114.4 166.4L115.5 166.6L116.7 166.9L117.8 167.0L119.0 167.3L120.2 167.3L121.1 166.4L122.0 165.4L123.0 164.7L123.3 163.3L123.9 162.0L123.3 160.7L123.6 159.3L124.0 160.7L122.8 160.8L122.2 162.1 M113.5 165.4L113.6 166.9L114.5 167.9L115.3 168.9L116.5 169.2L117.4 170.0L118.6 169.8L119.6 169.0L120.2 167.7L120.8 166.4L119.8 165.8L119.2 164.5L118.5 163.3L117.9 162.0L118.3 160.6L118.7 159.2L119.4 158.0 M113.5 165.4L112.9 166.7L114.0 166.7L115.0 167.6L116.1 167.5L117.3 167.4L118.1 166.3L119.1 165.6L119.2 164.1L119.6 162.8L120.7 162.3L121.4 161.1L121.1 159.7L121.3 158.2L121.9 156.9L122.2 155.5L121.1 155.8 M113.5 165.4L112.7 166.5L112.7 168.0L112.2 169.4L112.6 170.8L112.2 172.2L113.3 172.5L113.9 171.3L115.0 170.5L115.8 169.5L115.1 168.3L115.9 167.3L117.0 166.8L118.2 166.7L117.8 165.2L118.1 163.8L118.3 162.3 M113.5 165.4L112.6 164.4L112.5 162.9L112.8 161.5L112.9 160.0L112.8 158.5L113.0 157.0L113.3 155.6L114.1 154.5L114.2 156.0L113.0 156.1L112.0 155.3L110.8 155.2L109.7 155.2L109.1 156.6L109.4 158.0L109.8 159.4 M113.5 165.4L112.3 165.4L111.2 165.7L110.4 166.8L109.2 166.9L108.2 167.5L107.3 168.5L107.7 170.0L108.7 170.5L109.3 171.8L110.4 172.3L111.1 173.6L111.4 175.0L111.4 176.5L111.4 178.0L111.3 179.5L112.0 178.3 M113.5 165.4L112.4 165.9L111.5 166.9L111.3 168.3L111.8 169.7L112.3 171.1L113.3 171.8L114.1 172.9L115.1 173.8L116.2 173.5L117.0 172.4L117.9 171.5L117.7 170.0L117.7 168.5L117.5 167.0L116.3 166.9L115.6 168.1 M113.5 165.4L114.2 164.2L115.4 164.6L116.5 164.8L116.7 166.3L116.3 167.7L115.8 169.0L115.4 170.4L115.3 171.9L114.7 173.2L114.1 174.4L114.5 175.8L115.1 177.1L115.2 178.6L115.1 180.1L115.8 178.9L116.1 180.4 M113.5 165.4L114.2 164.2L115.4 164.2L115.2 162.7L115.7 161.4L116.3 160.2L116.9 158.8L117.8 157.9L118.7 158.7L119.9 158.5L120.9 157.8L122.1 157.6L122.5 156.2L121.8 157.4L120.6 157.3L119.5 156.7L119.2 155.3 M113.5 165.4L114.5 164.5L114.7 163.1L115.5 162.0L116.5 161.2L117.6 160.8L117.9 159.4L117.2 158.2L116.7 156.8L116.2 155.5L116.5 154.0L116.3 152.5L115.7 151.3L116.5 152.4L117.5 153.2L117.6 154.7L116.7 155.5 M113.5 165.4L113.6 163.9L112.9 162.7L112.7 161.2L112.4 159.8L112.8 158.4L112.0 157.3L110.8 157.0L110.2 155.7L109.2 154.9L108.3 153.9L107.2 153.5L108.0 154.6L108.9 155.5L110.1 155.6L111.0 154.7L112.0 155.6 M113.5 165.4L114.4 164.4L115.2 163.3L116.0 162.3L117.2 162.1L118.4 162.2L119.5 162.6L120.6 162.9L121.6 163.8L121.6 165.3L122.0 166.8L122.0 168.2L121.7 169.7L121.5 171.2L122.0 172.5L122.9 173.5L122.2 172.3 M114 166L117 160L120 155L121.5 150L119 149.5L116 153L113 158 M114 166L108 160L104 157L101 155.5L103 158 M113 166L108 170L104 172L101 174L103 177 M114 166L116 174L120 177L123 175 M113 168L112 178L110 182L113 183 M115 163L121 161L125 159.5" fill="none" stroke="#000" stroke-width="1.0" stroke-linejoin="round" stroke-linecap="round"/>
<line x1="188.60" y1="139.50" x2="188.60" y2="200.00" stroke="#777" stroke-width="0.6"/>
<line x1="166.20" y1="170.00" x2="212.30" y2="170.00" stroke="#777" stroke-width="0.6"/>
<line x1="187.60" y1="139.50" x2="188.60" y2="139.50" stroke="#777" stroke-width="0.5"/>
<text x="187.00" y="140.30" font-size="2.2" text-anchor="end" fill="#666" font-weight="bold">200</text>
<line x1="187.60" y1="147.06" x2="188.60" y2="147.06" stroke="#777" stroke-width="0.5"/>
<text x="187.00" y="147.86" font-size="2.2" text-anchor="end" fill="#666" font-weight="bold">150</text>
<line x1="187.60" y1="154.62" x2="188.60" y2="154.62" stroke="#777" stroke-width="0.5"/>
<text x="187.00" y="155.43" font-size="2.2" text-anchor="end" fill="#666" font-weight="bold">100</text>
<line x1="187.60" y1="162.19" x2="188.60" y2="162.19" stroke="#777" stroke-width="0.5"/>
<text x="187.00" y="162.99" font-size="2.2" text-anchor="end" fill="#666" font-weight="bold">50</text>
<line x1="187.60" y1="177.31" x2="188.60" y2="177.31" stroke="#777" stroke-width="0.5"/>
<text x="187.00" y="178.11" font-size="2.2" text-anchor="end" fill="#666" font-weight="bold">-50</text>
<line x1="187.60" y1="184.88" x2="188.60" y2="184.88" stroke="#777" stroke-width="0.5"/>
<text x="187.00" y="185.68" font-size="2.2" text-anchor="end" fill="#666" font-weight="bold">-100</text>
<line x1="187.60" y1="192.44" x2="188.60" y2="192.44" stroke="#777" stroke-width="0.5"/>
<text x="187.00" y="193.24" font-size="2.2" text-anchor="end" fill="#666" font-weight="bold">-150</text>
<line x1="187.60" y1="200.00" x2="188.60" y2="200.00" stroke="#777" stroke-width="0.5"/>
<text x="187.00" y="200.80" font-size="2.2" text-anchor="end" fill="#666" font-weight="bold">-200</text>
<line x1="166.20" y1="170.00" x2="166.20" y2="171.00" stroke="#777" stroke-width="0.5"/>
<text x="166.20" y="173.60" font-size="2.2" text-anchor="middle" fill="#666" font-weight="bold">-200</text>
<line x1="171.96" y1="170.00" x2="171.96" y2="171.00" stroke="#777" stroke-width="0.5"/>
<text x="171.96" y="173.60" font-size="2.2" text-anchor="middle" fill="#666" font-weight="bold">-150</text>
<line x1="177.72" y1="170.00" x2="177.72" y2="171.00" stroke="#777" stroke-width="0.5"/>
<text x="177.72" y="173.60" font-size="2.2" text-anchor="middle" fill="#666" font-weight="bold">-100</text>
<line x1="183.49" y1="170.00" x2="183.49" y2="171.00" stroke="#777" stroke-width="0.5"/>
<text x="183.49" y="173.60" font-size="2.2" text-anchor="middle" fill="#666" font-weight="bold">-50</text>
<line x1="195.01" y1="170.00" x2="195.01" y2="171.00" stroke="#777" stroke-width="0.5"/>
<text x="195.01" y="173.60" font-size="2.2" text-anchor="middle" fill="#666" font-weight="bold">50</text>
<line x1="200.78" y1="170.00" x2="200.78" y2="171.00" stroke="#777" stroke-width="0.5"/>
<text x="200.78" y="173.60" font-size="2.2" text-anchor="middle" fill="#666" font-weight="bold">100</text>
<line x1="206.54" y1="170.00" x2="206.54" y2="171.00" stroke="#777" stroke-width="0.5"/>
<text x="206.54" y="173.60" font-size="2.2" text-anchor="middle" fill="#666" font-weight="bold">150</text>
<line x1="212.30" y1="170.00" x2="212.30" y2="171.00" stroke="#777" stroke-width="0.5"/>
<text x="212.30" y="173.60" font-size="2.2" text-anchor="middle" fill="#666" font-weight="bold">200</text>
<text x="164.00" y="170.00" font-size="3.0" text-anchor="middle" fill="#111" font-weight="bold" transform="rotate(-90 164.00 170.00)" stroke="#111" stroke-width="0.12">Centroid Y [µm]</text>
<text x="188.60" y="206.40" font-size="3.0" text-anchor="middle" fill="#111" font-weight="bold" stroke="#111" stroke-width="0.12">Centroid X [µm]</text>
<ellipse cx="188.8" cy="170.2" rx="1.7" ry="1.7" fill="#000"/>
<path d="M188.8 170.2L188.8 169.5L188.5 168.9L188.0 168.9L187.5 168.7L187.0 168.8 M188.8 170.2L189.3 170.5L190.0 170.2L190.3 169.5L190.9 169.0L191.6 168.7 M188.8 170.2L188.5 170.5L188.9 170.9L188.4 170.7L188.1 170.1L188.3 169.4 M188.8 170.2L188.3 170.1L187.8 170.0L187.3 169.9L186.8 169.9L186.4 169.9 M188.8 170.2L188.5 169.6L188.3 169.0L187.8 168.7L187.3 168.3L187.0 167.7 M188.8 170.2L188.8 169.5L188.3 169.2L187.8 168.9L187.4 169.0L186.9 169.0 M188.5 170L190 167.5L191.5 166" fill="none" stroke="#000" stroke-width="0.9" stroke-linejoin="round" stroke-linecap="round"/>
<line x1="267.20" y1="139.40" x2="267.20" y2="200.00" stroke="#777" stroke-width="0.6"/>
<line x1="243.50" y1="170.40" x2="290.60" y2="170.40" stroke="#777" stroke-width="0.6"/>
<line x1="266.20" y1="139.40" x2="267.20" y2="139.40" stroke="#777" stroke-width="0.5"/>
<text x="265.60" y="140.20" font-size="2.2" text-anchor="end" fill="#666" font-weight="bold">200</text>
<line x1="266.20" y1="146.97" x2="267.20" y2="146.97" stroke="#777" stroke-width="0.5"/>
<text x="265.60" y="147.78" font-size="2.2" text-anchor="end" fill="#666" font-weight="bold">150</text>
<line x1="266.20" y1="154.55" x2="267.20" y2="154.55" stroke="#777" stroke-width="0.5"/>
<text x="265.60" y="155.35" font-size="2.2" text-anchor="end" fill="#666" font-weight="bold">100</text>
<line x1="266.20" y1="162.12" x2="267.20" y2="162.12" stroke="#777" stroke-width="0.5"/>
<text x="265.60" y="162.93" font-size="2.2" text-anchor="end" fill="#666" font-weight="bold">50</text>
<line x1="266.20" y1="177.28" x2="267.20" y2="177.28" stroke="#777" stroke-width="0.5"/>
<text x="265.60" y="178.08" font-size="2.2" text-anchor="end" fill="#666" font-weight="bold">-50</text>
<line x1="266.20" y1="184.85" x2="267.20" y2="184.85" stroke="#777" stroke-width="0.5"/>
<text x="265.60" y="185.65" font-size="2.2" text-anchor="end" fill="#666" font-weight="bold">-100</text>
<line x1="266.20" y1="192.43" x2="267.20" y2="192.43" stroke="#777" stroke-width="0.5"/>
<text x="265.60" y="193.23" font-size="2.2" text-anchor="end" fill="#666" font-weight="bold">-150</text>
<line x1="266.20" y1="200.00" x2="267.20" y2="200.00" stroke="#777" stroke-width="0.5"/>
<text x="265.60" y="200.80" font-size="2.2" text-anchor="end" fill="#666" font-weight="bold">-200</text>
<line x1="243.50" y1="170.40" x2="243.50" y2="171.40" stroke="#777" stroke-width="0.5"/>
<text x="243.50" y="174.00" font-size="2.2" text-anchor="middle" fill="#666" font-weight="bold">-200</text>
<line x1="249.39" y1="170.40" x2="249.39" y2="171.40" stroke="#777" stroke-width="0.5"/>
<text x="249.39" y="174.00" font-size="2.2" text-anchor="middle" fill="#666" font-weight="bold">-150</text>
<line x1="255.28" y1="170.40" x2="255.28" y2="171.40" stroke="#777" stroke-width="0.5"/>
<text x="255.28" y="174.00" font-size="2.2" text-anchor="middle" fill="#666" font-weight="bold">-100</text>
<line x1="261.16" y1="170.40" x2="261.16" y2="171.40" stroke="#777" stroke-width="0.5"/>
<text x="261.16" y="174.00" font-size="2.2" text-anchor="middle" fill="#666" font-weight="bold">-50</text>
<line x1="272.94" y1="170.40" x2="272.94" y2="171.40" stroke="#777" stroke-width="0.5"/>
<text x="272.94" y="174.00" font-size="2.2" text-anchor="middle" fill="#666" font-weight="bold">50</text>
<line x1="278.83" y1="170.40" x2="278.83" y2="171.40" stroke="#777" stroke-width="0.5"/>
<text x="278.83" y="174.00" font-size="2.2" text-anchor="middle" fill="#666" font-weight="bold">100</text>
<line x1="284.71" y1="170.40" x2="284.71" y2="171.40" stroke="#777" stroke-width="0.5"/>
<text x="284.71" y="174.00" font-size="2.2" text-anchor="middle" fill="#666" font-weight="bold">150</text>
<line x1="290.60" y1="170.40" x2="290.60" y2="171.40" stroke="#777" stroke-width="0.5"/>
<text x="290.60" y="174.00" font-size="2.2" text-anchor="middle" fill="#666" font-weight="bold">200</text>
<text x="241.80" y="170.40" font-size="3.0" text-anchor="middle" fill="#111" font-weight="bold" transform="rotate(-90 241.80 170.40)" stroke="#111" stroke-width="0.12">Centroid Y [µm]</text>
<text x="267.20" y="205.90" font-size="3.0" text-anchor="middle" fill="#111" font-weight="bold" stroke="#111" stroke-width="0.12">Centroid X [µm]</text>
<ellipse cx="267.2" cy="169.0" rx="2.0" ry="2.6" fill="#000"/>
<path d="M267.2 169.0L267.8 168.5L267.7 167.7L267.8 166.9L267.8 166.1L267.6 165.3L267.7 164.5 M267.2 169.0L267.7 169.4L268.4 169.1L268.6 168.3L268.5 167.5L268.8 166.8L269.4 166.3 M267.2 169.0L267.1 169.6L267.1 170.2L267.0 170.8L267.1 171.4L267.4 171.9L268.1 172.2 M267.2 169.0L266.6 169.2L266.0 169.5L265.7 168.8L265.9 168.0L265.8 167.2L265.7 166.4 M267.2 169.0L267.0 168.2L266.7 167.5L266.2 167.0L265.8 166.3L265.2 165.9L265.2 165.1 M267.2 169.0L266.8 168.3L266.4 167.7L266.3 166.9L267.0 166.6L267.3 165.9L268.0 165.4 M267.2 169.0L267.2 168.2L267.3 167.4L268.0 167.1L268.7 167.1L268.4 167.5L268.3 168.1 " fill="none" stroke="#000" stroke-width="0.9" stroke-linejoin="round" stroke-linecap="round"/>
<line x1="337.20" y1="139.40" x2="337.20" y2="200.00" stroke="#777" stroke-width="0.6"/>
<line x1="313.50" y1="170.40" x2="360.60" y2="170.40" stroke="#777" stroke-width="0.6"/>
<line x1="336.20" y1="139.40" x2="337.20" y2="139.40" stroke="#777" stroke-width="0.5"/>
<text x="335.60" y="140.20" font-size="2.2" text-anchor="end" fill="#666" font-weight="bold">200</text>
<line x1="336.20" y1="146.97" x2="337.20" y2="146.97" stroke="#777" stroke-width="0.5"/>
<text x="335.60" y="147.78" font-size="2.2" text-anchor="end" fill="#666" font-weight="bold">150</text>
<line x1="336.20" y1="154.55" x2="337.20" y2="154.55" stroke="#777" stroke-width="0.5"/>
<text x="335.60" y="155.35" font-size="2.2" text-anchor="end" fill="#666" font-weight="bold">100</text>
<line x1="336.20" y1="162.12" x2="337.20" y2="162.12" stroke="#777" stroke-width="0.5"/>
<text x="335.60" y="162.93" font-size="2.2" text-anchor="end" fill="#666" font-weight="bold">50</text>
<line x1="336.20" y1="177.28" x2="337.20" y2="177.28" stroke="#777" stroke-width="0.5"/>
<text x="335.60" y="178.08" font-size="2.2" text-anchor="end" fill="#666" font-weight="bold">-50</text>
<line x1="336.20" y1="184.85" x2="337.20" y2="184.85" stroke="#777" stroke-width="0.5"/>
<text x="335.60" y="185.65" font-size="2.2" text-anchor="end" fill="#666" font-weight="bold">-100</text>
<line x1="336.20" y1="192.43" x2="337.20" y2="192.43" stroke="#777" stroke-width="0.5"/>
<text x="335.60" y="193.23" font-size="2.2" text-anchor="end" fill="#666" font-weight="bold">-150</text>
<line x1="336.20" y1="200.00" x2="337.20" y2="200.00" stroke="#777" stroke-width="0.5"/>
<text x="335.60" y="200.80" font-size="2.2" text-anchor="end" fill="#666" font-weight="bold">-200</text>
<line x1="313.50" y1="170.40" x2="313.50" y2="171.40" stroke="#777" stroke-width="0.5"/>
<text x="313.50" y="174.00" font-size="2.2" text-anchor="middle" fill="#666" font-weight="bold">-200</text>
<line x1="319.39" y1="170.40" x2="319.39" y2="171.40" stroke="#777" stroke-width="0.5"/>
<text x="319.39" y="174.00" font-size="2.2" text-anchor="middle" fill="#666" font-weight="bold">-150</text>
<line x1="325.27" y1="170.40" x2="325.27" y2="171.40" stroke="#777" stroke-width="0.5"/>
<text x="325.27" y="174.00" font-size="2.2" text-anchor="middle" fill="#666" font-weight="bold">-100</text>
<line x1="331.16" y1="170.40" x2="331.16" y2="171.40" stroke="#777" stroke-width="0.5"/>
<text x="331.16" y="174.00" font-size="2.2" text-anchor="middle" fill="#666" font-weight="bold">-50</text>
<line x1="342.94" y1="170.40" x2="342.94" y2="171.40" stroke="#777" stroke-width="0.5"/>
<text x="342.94" y="174.00" font-size="2.2" text-anchor="middle" fill="#666" font-weight="bold">50</text>
<line x1="348.83" y1="170.40" x2="348.83" y2="171.40" stroke="#777" stroke-width="0.5"/>
<text x="348.83" y="174.00" font-size="2.2" text-anchor="middle" fill="#666" font-weight="bold">100</text>
<line x1="354.71" y1="170.40" x2="354.71" y2="171.40" stroke="#777" stroke-width="0.5"/>
<text x="354.71" y="174.00" font-size="2.2" text-anchor="middle" fill="#666" font-weight="bold">150</text>
<line x1="360.60" y1="170.40" x2="360.60" y2="171.40" stroke="#777" stroke-width="0.5"/>
<text x="360.60" y="174.00" font-size="2.2" text-anchor="middle" fill="#666" font-weight="bold">200</text>
<text x="311.80" y="170.40" font-size="3.0" text-anchor="middle" fill="#111" font-weight="bold" transform="rotate(-90 311.80 170.40)" stroke="#111" stroke-width="0.12">Centroid Y [µm]</text>
<text x="337.20" y="205.90" font-size="3.0" text-anchor="middle" fill="#111" font-weight="bold" stroke="#111" stroke-width="0.12">Centroid X [µm]</text>
<ellipse cx="337.7" cy="168.6" rx="2.4" ry="3.6" fill="#000"/>
<path d="M337.7 168.6L338.4 168.0L338.2 167.1L338.3 166.2L338.1 165.3L337.9 164.4L338.0 163.5L338.4 162.6L339.2 162.6 M337.7 168.6L338.5 168.3L339.3 167.9L340.0 167.4L340.8 167.5L341.4 168.0L342.2 167.8L342.9 168.1L343.6 168.4 M337.7 168.6L337.4 169.2L337.9 169.7L338.1 170.4L338.9 170.3L339.7 170.2L339.4 169.3L339.3 168.4L338.7 167.8 M337.7 168.6L338.3 169.1L338.8 169.6L339.6 169.6L340.4 169.3L341.0 168.7L341.9 168.5L342.7 168.2L343.5 168.2 M337.7 168.6L337.0 168.2L337.3 168.9L337.8 169.4L338.6 169.2L339.5 169.0L340.2 168.5L340.7 167.7L340.7 166.8 M337.7 168.6L336.9 168.5L336.5 167.7L336.1 166.9L336.3 166.0L336.0 165.2L335.4 164.5L335.3 163.6L335.7 162.8 M337.7 168.6L337.0 168.1L336.6 167.3L336.1 166.7L335.7 165.9L334.9 165.8L335.1 166.5L335.8 166.7L336.2 167.3 M337.7 168.6L338.1 167.8L338.6 167.0L339.3 166.5L339.1 165.6L338.6 164.8L338.0 164.3L337.5 164.7L336.7 164.6 M337.7 168.6L338.3 167.9L338.6 167.0L339.1 166.3L339.3 165.4L339.4 164.5L339.1 163.6L339.6 162.9L340.1 162.1 M337.7 168.6L338.5 168.3L339.0 168.8L339.9 168.7L340.6 168.1L340.8 167.2L341.5 166.8L342.2 166.1L343.0 165.9 " fill="none" stroke="#000" stroke-width="0.9" stroke-linejoin="round" stroke-linecap="round"/>
<line x1="413.70" y1="139.40" x2="413.70" y2="199.60" stroke="#777" stroke-width="0.6"/>
<line x1="389.40" y1="169.90" x2="437.00" y2="169.90" stroke="#777" stroke-width="0.6"/>
<line x1="412.70" y1="139.40" x2="413.70" y2="139.40" stroke="#777" stroke-width="0.5"/>
<text x="412.10" y="140.20" font-size="2.2" text-anchor="end" fill="#666" font-weight="bold">200</text>
<line x1="412.70" y1="146.93" x2="413.70" y2="146.93" stroke="#777" stroke-width="0.5"/>
<text x="412.10" y="147.73" font-size="2.2" text-anchor="end" fill="#666" font-weight="bold">150</text>
<line x1="412.70" y1="154.45" x2="413.70" y2="154.45" stroke="#777" stroke-width="0.5"/>
<text x="412.10" y="155.25" font-size="2.2" text-anchor="end" fill="#666" font-weight="bold">100</text>
<line x1="412.70" y1="161.97" x2="413.70" y2="161.97" stroke="#777" stroke-width="0.5"/>
<text x="412.10" y="162.78" font-size="2.2" text-anchor="end" fill="#666" font-weight="bold">50</text>
<line x1="412.70" y1="177.03" x2="413.70" y2="177.03" stroke="#777" stroke-width="0.5"/>
<text x="412.10" y="177.83" font-size="2.2" text-anchor="end" fill="#666" font-weight="bold">-50</text>
<line x1="412.70" y1="184.55" x2="413.70" y2="184.55" stroke="#777" stroke-width="0.5"/>
<text x="412.10" y="185.35" font-size="2.2" text-anchor="end" fill="#666" font-weight="bold">-100</text>
<line x1="412.70" y1="192.07" x2="413.70" y2="192.07" stroke="#777" stroke-width="0.5"/>
<text x="412.10" y="192.88" font-size="2.2" text-anchor="end" fill="#666" font-weight="bold">-150</text>
<line x1="412.70" y1="199.60" x2="413.70" y2="199.60" stroke="#777" stroke-width="0.5"/>
<text x="412.10" y="200.40" font-size="2.2" text-anchor="end" fill="#666" font-weight="bold">-200</text>
<line x1="389.40" y1="169.90" x2="389.40" y2="170.90" stroke="#777" stroke-width="0.5"/>
<text x="389.40" y="173.50" font-size="2.2" text-anchor="middle" fill="#666" font-weight="bold">-200</text>
<line x1="395.35" y1="169.90" x2="395.35" y2="170.90" stroke="#777" stroke-width="0.5"/>
<text x="395.35" y="173.50" font-size="2.2" text-anchor="middle" fill="#666" font-weight="bold">-150</text>
<line x1="401.30" y1="169.90" x2="401.30" y2="170.90" stroke="#777" stroke-width="0.5"/>
<text x="401.30" y="173.50" font-size="2.2" text-anchor="middle" fill="#666" font-weight="bold">-100</text>
<line x1="407.25" y1="169.90" x2="407.25" y2="170.90" stroke="#777" stroke-width="0.5"/>
<text x="407.25" y="173.50" font-size="2.2" text-anchor="middle" fill="#666" font-weight="bold">-50</text>
<line x1="419.15" y1="169.90" x2="419.15" y2="170.90" stroke="#777" stroke-width="0.5"/>
<text x="419.15" y="173.50" font-size="2.2" text-anchor="middle" fill="#666" font-weight="bold">50</text>
<line x1="425.10" y1="169.90" x2="425.10" y2="170.90" stroke="#777" stroke-width="0.5"/>
<text x="425.10" y="173.50" font-size="2.2" text-anchor="middle" fill="#666" font-weight="bold">100</text>
<line x1="431.05" y1="169.90" x2="431.05" y2="170.90" stroke="#777" stroke-width="0.5"/>
<text x="431.05" y="173.50" font-size="2.2" text-anchor="middle" fill="#666" font-weight="bold">150</text>
<line x1="437.00" y1="169.90" x2="437.00" y2="170.90" stroke="#777" stroke-width="0.5"/>
<text x="437.00" y="173.50" font-size="2.2" text-anchor="middle" fill="#666" font-weight="bold">200</text>
<text x="388.30" y="169.90" font-size="3.0" text-anchor="middle" fill="#111" font-weight="bold" transform="rotate(-90 388.30 169.90)" stroke="#111" stroke-width="0.12">Centroid Y [µm]</text>
<text x="413.70" y="205.00" font-size="3.0" text-anchor="middle" fill="#111" font-weight="bold" stroke="#111" stroke-width="0.12">Centroid X [µm]</text>
<ellipse cx="415.7" cy="167.7" rx="4.0" ry="3.0" fill="#000"/>
<path d="M415.7 167.7L416.6 167.0L416.5 165.9L417.0 164.8L417.2 163.7L417.4 162.6L418.5 162.3L419.5 161.7L419.2 162.6L419.7 163.5L420.1 164.5L420.8 165.2 M415.7 167.7L416.6 168.3L417.6 168.6L418.7 168.7L418.7 169.7L419.1 170.6L419.7 171.4L420.8 171.2L421.8 170.6L423.0 170.7L422.7 169.6L422.3 170.5 M415.7 167.7L416.4 166.8L417.4 167.2L418.4 166.5L419.5 166.3L420.4 166.9L421.5 166.7L422.4 167.2L422.8 168.2L422.1 167.4L422.7 166.4L422.2 167.2 M415.7 167.7L416.4 168.5L416.8 169.4L415.9 169.8L415.3 170.5L414.7 171.2L414.0 171.9L413.6 172.7L413.2 173.5L412.6 174.3L412.9 173.2L412.9 172.0 M415.7 167.7L416.0 168.6L416.7 169.4L417.9 169.3L418.6 168.5L419.6 167.8L419.6 166.7L420.1 165.6L421.1 165.1L422.3 165.1L422.5 164.0L422.4 164.9 M415.7 167.7L414.8 168.0L414.2 167.1L413.7 166.1L414.1 165.0L414.1 163.9L413.6 163.0L413.9 161.9L414.7 161.0L415.3 160.1L414.6 160.6L414.5 159.5 M415.7 167.7L414.9 168.2L414.9 169.2L414.2 168.5L413.2 168.4L412.3 168.6L411.4 168.1L410.4 167.9L409.4 167.7L408.5 167.3L409.2 168.1L409.7 169.0 M415.7 167.7L415.0 166.9L414.3 166.1L414.6 165.0L415.5 164.3L416.1 163.3L416.7 162.3L416.6 161.2L415.7 160.7L414.7 160.7L415.8 160.9L416.2 159.8 M415.7 167.7L416.2 168.6L415.4 169.1L415.9 170.0L416.7 170.7L417.8 170.7L417.7 171.7L418.1 172.6L418.8 173.3L418.8 174.3L418.4 173.3L418.6 172.1 M415.7 167.7L414.7 167.6L414.5 166.5L414.6 165.4L415.2 164.4L414.8 163.3L414.8 162.2L414.0 161.7L413.9 160.6L413.4 161.4L413.2 162.3L412.9 163.2 M415.7 167.7L415.1 166.8L415.6 165.7L416.6 165.2L417.6 165.5L418.5 166.1L418.4 167.0L418.7 168.0L419.5 168.6L419.3 169.6L419.6 170.5L420.2 171.4 M415.7 167.7L414.9 167.1L414.0 166.6L413.9 165.4L414.9 165.0L415.6 164.1L416.7 164.1L417.7 164.6L417.8 165.6L418.4 166.4L417.7 167.1L416.7 166.8 M415.7 167.7L416.7 167.1L417.5 166.3L418.7 166.4L418.8 165.2L419.9 165.0L421.0 165.3L422.1 165.5L423.0 166.0L422.4 165.1L422.6 166.1L421.9 165.4 M415.7 167.7L415.1 166.9L416.1 166.5L417.2 166.1L417.9 166.9L418.7 167.6L419.4 168.4L419.6 169.3L419.8 170.3L418.8 170.1L417.8 169.9L417.6 168.8 M415.7 167.7L415.0 166.9L414.0 166.8L413.1 166.4L412.3 165.8L411.4 165.3L411.6 164.2L412.7 164.2L413.7 164.7L414.6 163.9L415.7 164.2L416.8 164.2 M415.7 167.7L415.0 166.9L414.9 165.8L415.5 164.8L416.4 164.1L416.2 163.0L415.4 162.4L414.5 162.8L413.6 162.6L413.0 161.8L412.3 161.0L413.0 161.8 M415.7 167.7L416.2 166.6L416.7 165.6L416.9 164.5L417.1 163.4L417.3 162.3L418.1 161.4L418.8 160.5L417.8 160.3L418.5 161.1L418.7 160.0L419.0 161.0 M415.7 167.7L416.6 167.0L417.7 166.5L418.7 166.0L418.8 164.9L418.8 163.8L418.3 162.8L417.3 162.6L416.8 161.7L415.9 161.4L415.3 160.5L416.4 160.7 " fill="none" stroke="#000" stroke-width="0.9" stroke-linejoin="round" stroke-linecap="round"/>
<line x1="491.00" y1="139.40" x2="491.00" y2="199.60" stroke="#777" stroke-width="0.6"/>
<line x1="467.50" y1="170.40" x2="514.60" y2="170.40" stroke="#777" stroke-width="0.6"/>
<line x1="490.00" y1="139.40" x2="491.00" y2="139.40" stroke="#777" stroke-width="0.5"/>
<text x="489.40" y="140.20" font-size="2.2" text-anchor="end" fill="#666" font-weight="bold">200</text>
<line x1="490.00" y1="146.93" x2="491.00" y2="146.93" stroke="#777" stroke-width="0.5"/>
<text x="489.40" y="147.73" font-size="2.2" text-anchor="end" fill="#666" font-weight="bold">150</text>
<line x1="490.00" y1="154.45" x2="491.00" y2="154.45" stroke="#777" stroke-width="0.5"/>
<text x="489.40" y="155.25" font-size="2.2" text-anchor="end" fill="#666" font-weight="bold">100</text>
<line x1="490.00" y1="161.97" x2="491.00" y2="161.97" stroke="#777" stroke-width="0.5"/>
<text x="489.40" y="162.78" font-size="2.2" text-anchor="end" fill="#666" font-weight="bold">50</text>
<line x1="490.00" y1="177.03" x2="491.00" y2="177.03" stroke="#777" stroke-width="0.5"/>
<text x="489.40" y="177.83" font-size="2.2" text-anchor="end" fill="#666" font-weight="bold">-50</text>
<line x1="490.00" y1="184.55" x2="491.00" y2="184.55" stroke="#777" stroke-width="0.5"/>
<text x="489.40" y="185.35" font-size="2.2" text-anchor="end" fill="#666" font-weight="bold">-100</text>
<line x1="490.00" y1="192.07" x2="491.00" y2="192.07" stroke="#777" stroke-width="0.5"/>
<text x="489.40" y="192.88" font-size="2.2" text-anchor="end" fill="#666" font-weight="bold">-150</text>
<line x1="490.00" y1="199.60" x2="491.00" y2="199.60" stroke="#777" stroke-width="0.5"/>
<text x="489.40" y="200.40" font-size="2.2" text-anchor="end" fill="#666" font-weight="bold">-200</text>
<line x1="467.50" y1="170.40" x2="467.50" y2="171.40" stroke="#777" stroke-width="0.5"/>
<text x="467.50" y="174.00" font-size="2.2" text-anchor="middle" fill="#666" font-weight="bold">-200</text>
<line x1="473.39" y1="170.40" x2="473.39" y2="171.40" stroke="#777" stroke-width="0.5"/>
<text x="473.39" y="174.00" font-size="2.2" text-anchor="middle" fill="#666" font-weight="bold">-150</text>
<line x1="479.27" y1="170.40" x2="479.27" y2="171.40" stroke="#777" stroke-width="0.5"/>
<text x="479.27" y="174.00" font-size="2.2" text-anchor="middle" fill="#666" font-weight="bold">-100</text>
<line x1="485.16" y1="170.40" x2="485.16" y2="171.40" stroke="#777" stroke-width="0.5"/>
<text x="485.16" y="174.00" font-size="2.2" text-anchor="middle" fill="#666" font-weight="bold">-50</text>
<line x1="496.94" y1="170.40" x2="496.94" y2="171.40" stroke="#777" stroke-width="0.5"/>
<text x="496.94" y="174.00" font-size="2.2" text-anchor="middle" fill="#666" font-weight="bold">50</text>
<line x1="502.83" y1="170.40" x2="502.83" y2="171.40" stroke="#777" stroke-width="0.5"/>
<text x="502.83" y="174.00" font-size="2.2" text-anchor="middle" fill="#666" font-weight="bold">100</text>
<line x1="508.71" y1="170.40" x2="508.71" y2="171.40" stroke="#777" stroke-width="0.5"/>
<text x="508.71" y="174.00" font-size="2.2" text-anchor="middle" fill="#666" font-weight="bold">150</text>
<line x1="514.60" y1="170.40" x2="514.60" y2="171.40" stroke="#777" stroke-width="0.5"/>
<text x="514.60" y="174.00" font-size="2.2" text-anchor="middle" fill="#666" font-weight="bold">200</text>
<text x="466.60" y="170.40" font-size="3.0" text-anchor="middle" fill="#111" font-weight="bold" transform="rotate(-90 466.60 170.40)" stroke="#111" stroke-width="0.12">Centroid Y [µm]</text>
<text x="491.00" y="205.00" font-size="3.0" text-anchor="middle" fill="#111" font-weight="bold" stroke="#111" stroke-width="0.12">Centroid X [µm]</text>
<ellipse cx="491.6" cy="169.9" rx="2.8" ry="4.5" fill="#000"/>
<path d="M491.6 169.9L491.5 171.5L491.4 173.0L490.6 173.2L490.8 171.6L491.5 172.2L492.2 173.0L493.0 172.8L493.0 171.3L493.5 170.0L493.9 168.7L493.9 167.1L494.6 166.3L495.2 165.3 M491.6 169.9L492.2 170.9L492.1 172.5L492.8 173.2L493.4 174.1L494.2 174.3L494.7 175.5L495.3 176.3L496.0 177.2L495.5 176.0L495.1 174.6L494.3 174.1L493.5 174.1L493.6 175.6 M491.6 169.9L492.4 169.8L492.6 168.3L493.3 167.6L494.0 168.3L494.7 169.0L495.3 169.8L496.0 170.6L496.5 171.8L496.8 173.3L496.2 174.4L496.0 175.9L495.8 177.5L495.1 177.9 M491.6 169.9L492.2 170.9L492.7 172.1L493.1 173.4L493.8 172.7L494.6 172.4L495.1 171.2L495.4 169.7L495.2 168.1L495.1 166.6L495.5 165.2L495.8 163.7L496.1 162.3L495.4 162.9 M491.6 169.9L492.1 171.2L492.7 172.0L493.0 173.5L492.2 174.0L491.5 173.3L490.9 172.2L490.2 172.5L489.5 171.7L489.2 170.2L488.4 170.1L488.1 168.7L488.6 167.5L488.7 166.0 M491.6 169.9L490.8 170.1L490.1 169.5L489.5 168.4L488.9 167.5L488.1 168.0L487.4 168.5L486.6 168.6L485.8 168.7L485.9 170.3L485.3 169.6L486.0 168.9L485.6 170.3L486.0 168.9 M491.6 169.9L491.8 171.4L492.4 172.4L493.2 172.4L493.7 173.7L494.3 174.6L495.1 174.0L495.5 172.7L496.2 173.3L496.7 174.6L497.3 173.6L496.7 174.6L496.3 176.0L496.4 177.5 M491.6 169.9L491.0 170.8L490.3 171.7L490.4 170.1L489.9 168.9L490.5 167.9L491.0 166.6L490.9 165.0L490.5 163.6L490.9 162.2L491.1 160.7L490.8 159.3L490.8 157.7L490.1 158.6 M491.6 169.9L490.9 170.5L490.7 172.0L491.1 173.3L490.5 174.4L489.8 175.1L489.0 175.4L488.6 176.6L487.8 176.4L487.2 177.4L488.0 177.1L488.6 176.1L489.2 175.2L489.8 174.1 M491.6 169.9L490.9 169.1L490.9 167.5L491.3 166.2L491.0 164.7L490.3 164.3L489.5 164.6L488.7 165.0L488.3 166.3L487.8 167.5L487.0 167.2L486.2 167.6L485.5 168.1L485.9 166.7 M491.6 169.9L491.4 168.4L490.6 167.8L490.8 166.2L491.6 165.9L492.3 165.5L492.9 164.3L493.6 163.6L494.4 163.6L495.1 164.2L495.7 165.3L496.3 166.3L496.1 167.8L496.4 169.3 M491.6 169.9L491.5 168.3L492.0 167.0L492.6 166.1L493.3 166.8L493.8 168.0L494.5 167.4L494.2 166.0L493.6 164.9L493.1 163.7L492.9 162.2L492.8 160.6L492.6 159.1L491.9 158.3 M491.6 169.9L490.8 169.6L490.4 168.3L489.6 168.2L488.8 168.2L488.3 169.4L487.7 170.4L487.5 171.9L487.8 173.4L488.5 172.9L489.2 173.6L489.6 175.0L490.0 176.3L490.3 177.8 M491.6 169.9L491.0 168.8L490.7 167.4L490.2 166.2L489.5 166.8L490.1 167.6L490.9 167.3L491.5 166.3L492.3 166.4L493.0 166.9L493.4 165.5L494.0 164.4L493.7 162.9L494.2 161.6 M491.6 169.9L490.8 169.4L490.3 170.5L489.5 170.1L489.8 168.6L489.5 167.2L489.3 165.7L489.9 164.6L490.4 163.4L490.5 161.8L490.6 160.3L490.8 158.8L490.8 160.3L490.9 161.9 M491.6 169.9L491.5 168.3L490.9 167.2L490.8 165.7L490.2 164.7L490.1 163.1L490.8 162.7L491.6 162.7L492.4 162.4L493.0 163.5L493.7 163.4L494.5 163.0L495.0 164.2L495.3 165.7 M491.6 169.9L491.8 168.4L492.0 166.8L492.5 165.6L492.4 167.2L493.0 168.4L493.8 168.4L494.1 167.0L493.9 165.5L494.1 163.9L493.5 162.9L492.8 163.2L492.1 164.0L491.9 165.5 M491.6 169.9L491.2 168.5L491.5 167.0L492.3 166.6L492.5 165.1L492.5 163.5L493.0 162.3L493.8 162.1L494.5 161.7L495.3 161.1L494.5 161.4L493.7 161.1L492.9 161.2L492.3 162.1 M491.6 169.9L492.3 170.8L492.6 172.2L493.0 173.5L493.8 174.1L494.5 174.7L494.9 176.0L495.6 176.8L496.3 177.6L496.6 176.2L496.2 177.5L496.0 176.0L496.5 174.8L496.7 173.3 M491.6 169.9L492.4 169.7L492.4 168.2L492.3 166.6L491.5 166.2L490.8 165.6L490.0 165.3L489.3 164.9L488.5 165.5L488.0 166.6L487.2 166.9L487.0 168.4L486.8 169.9L487.1 171.4 M491 170L495 169.6L498.5 170.2L495 170.8Z" fill="none" stroke="#000" stroke-width="0.9" stroke-linejoin="round" stroke-linecap="round"/>
<text x="100.30" y="225.20" font-size="7.7" stroke="#1a1a1a" stroke-width="0.3">isotype</text>
<text x="100.30" y="234.70" font-size="7.7" stroke="#1a1a1a" stroke-width="0.3">control</text>
<text x="172.50" y="225.20" font-size="7.8" stroke="#1a1a1a" stroke-width="0.3">anti-CD3</text>
<text x="175.00" y="234.70" font-size="7.4" stroke="#1a1a1a" stroke-width="0.3">1µg/ml</text>
<line x1="256.00" y1="224.00" x2="490.00" y2="224.00" stroke="#3a3a3a" stroke-width="1.4"/>
<path d="M488.5 220.8L496.5 224L488.5 227.2Z" fill="#111"/>
<text x="351.00" y="236.00" font-size="7.7" stroke="#1a1a1a" stroke-width="0.3">anti-CTLA-4</text>
<text x="256.00" y="250.00" font-size="7.9" stroke="#1a1a1a" stroke-width="0.3">5µg/ml</text>
<text x="323.00" y="249.70" font-size="7.8" stroke="#1a1a1a" stroke-width="0.3">10µg/ml</text>
<text x="397.50" y="251.00" font-size="7.7" stroke="#1a1a1a" stroke-width="0.3">20µg/ml</text>
<text x="474.00" y="251.00" font-size="8.0" stroke="#1a1a1a" stroke-width="0.3">40 µg/ml</text>
<polygon points="53,388 53,373 53.4,372 54.0,384 55.2,378 56.7,368 58.7,354 60.7,343 62.2,336 63.2,330.5 64.0,328.5 64.7,332 65.5,330.5 66.2,337 67.4,346 69.2,360 71.2,371 73.2,379 75.2,384 77.2,386.5 79.2,387.5 82.2,388" fill="#c9c9c9" stroke="#bdbdbd" stroke-width="0.5"/>
<polyline points="52.9,387.2 52.9,372.5 53.4,385.8 55.3,385.4 56.4,382.1 57.5,380.7 58.8,375.7 60.0,370.0 61.2,366.0 62.5,361.4 63.8,358.3 65.0,356.7 66.1,356.0 67.2,353.5 68.8,358.2 70.3,360.4 72.0,365.4 73.0,367.4 74.0,372.2 75.0,373.1 76.0,374.9 77.2,375.0 78.5,374.4 79.8,375.6 81.0,376.5 82.0,375.9 83.0,378.3 84.0,377.2 85.0,377.7 86.0,380.3 87.0,379.8 88.0,383.0 89.0,383.1 90.0,384.6 91.2,385.0 92.5,386.3 93.5,385.9 94.5,386.0 95.5,388.0 96.8,387.1 98.0,388.0" fill="none" stroke="#8fd93a" stroke-width="1.5"/>
<polyline points="52.9,388.0 52.9,371.1 53.4,384.4 55.3,386.7 56.4,382.0 57.5,379.1 58.8,375.4 60.0,369.6 61.2,366.9 62.5,361.4 63.8,360.6 65.0,356.6 66.1,356.0 67.2,355.5 68.8,357.9 70.3,362.0 72.0,366.5 73.0,367.4 74.0,371.9 75.0,372.7 76.0,373.5 77.2,374.0 78.5,376.3 79.8,376.2 81.0,377.6 82.0,377.5 83.0,378.3 84.0,377.7 85.0,379.0 86.0,379.8 87.0,380.2 88.0,383.1 89.0,382.8 90.0,385.2 91.2,386.5 92.5,386.7 93.5,385.8 94.5,387.9 95.5,387.9 96.8,387.0 98.0,388.0" fill="none" stroke="#d4492a" stroke-width="0.8"/>
<line x1="52.80" y1="299.20" x2="52.80" y2="388.20" stroke="#333" stroke-width="0.8"/>
<line x1="52.40" y1="387.90" x2="144.00" y2="387.90" stroke="#333" stroke-width="0.8"/>
<line x1="51.30" y1="387.50" x2="52.80" y2="387.50" stroke="#333" stroke-width="0.5"/>
<text x="50.30" y="387.50" font-size="4.6" text-anchor="middle" fill="#222" font-weight="bold" transform="rotate(-90 50.30 387.50)">0</text>
<line x1="51.30" y1="376.53" x2="52.80" y2="376.53" stroke="#333" stroke-width="0.5"/>
<text x="50.30" y="376.53" font-size="4.6" text-anchor="middle" fill="#222" font-weight="bold" transform="rotate(-90 50.30 376.53)">10</text>
<line x1="51.30" y1="365.56" x2="52.80" y2="365.56" stroke="#333" stroke-width="0.5"/>
<text x="50.30" y="365.56" font-size="4.6" text-anchor="middle" fill="#222" font-weight="bold" transform="rotate(-90 50.30 365.56)">20</text>
<line x1="51.30" y1="354.59" x2="52.80" y2="354.59" stroke="#333" stroke-width="0.5"/>
<text x="50.30" y="354.59" font-size="4.6" text-anchor="middle" fill="#222" font-weight="bold" transform="rotate(-90 50.30 354.59)">30</text>
<line x1="51.30" y1="343.62" x2="52.80" y2="343.62" stroke="#333" stroke-width="0.5"/>
<text x="50.30" y="343.62" font-size="4.6" text-anchor="middle" fill="#222" font-weight="bold" transform="rotate(-90 50.30 343.62)">40</text>
<line x1="51.30" y1="332.65" x2="52.80" y2="332.65" stroke="#333" stroke-width="0.5"/>
<text x="50.30" y="332.65" font-size="4.6" text-anchor="middle" fill="#222" font-weight="bold" transform="rotate(-90 50.30 332.65)">50</text>
<line x1="51.30" y1="321.68" x2="52.80" y2="321.68" stroke="#333" stroke-width="0.5"/>
<text x="50.30" y="321.68" font-size="4.6" text-anchor="middle" fill="#222" font-weight="bold" transform="rotate(-90 50.30 321.68)">60</text>
<line x1="51.30" y1="310.71" x2="52.80" y2="310.71" stroke="#333" stroke-width="0.5"/>
<text x="50.30" y="310.71" font-size="4.6" text-anchor="middle" fill="#222" font-weight="bold" transform="rotate(-90 50.30 310.71)">70</text>
<line x1="51.30" y1="299.74" x2="52.80" y2="299.74" stroke="#333" stroke-width="0.5"/>
<text x="50.30" y="299.74" font-size="4.6" text-anchor="middle" fill="#222" font-weight="bold" transform="rotate(-90 50.30 299.74)">80</text>
<text x="42.70" y="343.60" font-size="5.0" text-anchor="middle" fill="#222" font-weight="bold" transform="rotate(-90 42.70 343.60)">Counts</text>
<line x1="53.00" y1="388.30" x2="53.00" y2="390.00" stroke="#333" stroke-width="0.5"/>
<text x="48.4" y="394.6" font-size="5" font-weight="bold" fill="#222">10<tspan dy="-2" font-size="3.4">0</tspan></text>
<line x1="75.50" y1="388.30" x2="75.50" y2="390.00" stroke="#333" stroke-width="0.5"/>
<text x="70.9" y="394.6" font-size="5" font-weight="bold" fill="#222">10<tspan dy="-2" font-size="3.4">1</tspan></text>
<line x1="98.00" y1="388.30" x2="98.00" y2="390.00" stroke="#333" stroke-width="0.5"/>
<text x="93.4" y="394.6" font-size="5" font-weight="bold" fill="#222">10<tspan dy="-2" font-size="3.4">2</tspan></text>
<line x1="120.50" y1="388.30" x2="120.50" y2="390.00" stroke="#333" stroke-width="0.5"/>
<text x="115.9" y="394.6" font-size="5" font-weight="bold" fill="#222">10<tspan dy="-2" font-size="3.4">3</tspan></text>
<line x1="143.00" y1="388.30" x2="143.00" y2="390.00" stroke="#333" stroke-width="0.5"/>
<text x="138.4" y="394.6" font-size="5" font-weight="bold" fill="#222">10<tspan dy="-2" font-size="3.4">4</tspan></text>
<line x1="59.77" y1="388.30" x2="59.77" y2="389.30" stroke="#555" stroke-width="0.3"/>
<line x1="63.74" y1="388.30" x2="63.74" y2="389.30" stroke="#555" stroke-width="0.3"/>
<line x1="66.55" y1="388.30" x2="66.55" y2="389.30" stroke="#555" stroke-width="0.3"/>
<line x1="68.73" y1="388.30" x2="68.73" y2="389.30" stroke="#555" stroke-width="0.3"/>
<line x1="70.51" y1="388.30" x2="70.51" y2="389.30" stroke="#555" stroke-width="0.3"/>
<line x1="72.01" y1="388.30" x2="72.01" y2="389.30" stroke="#555" stroke-width="0.3"/>
<line x1="73.32" y1="388.30" x2="73.32" y2="389.30" stroke="#555" stroke-width="0.3"/>
<line x1="74.47" y1="388.30" x2="74.47" y2="389.30" stroke="#555" stroke-width="0.3"/>
<line x1="82.27" y1="388.30" x2="82.27" y2="389.30" stroke="#555" stroke-width="0.3"/>
<line x1="86.24" y1="388.30" x2="86.24" y2="389.30" stroke="#555" stroke-width="0.3"/>
<line x1="89.05" y1="388.30" x2="89.05" y2="389.30" stroke="#555" stroke-width="0.3"/>
<line x1="91.23" y1="388.30" x2="91.23" y2="389.30" stroke="#555" stroke-width="0.3"/>
<line x1="93.01" y1="388.30" x2="93.01" y2="389.30" stroke="#555" stroke-width="0.3"/>
<line x1="94.51" y1="388.30" x2="94.51" y2="389.30" stroke="#555" stroke-width="0.3"/>
<line x1="95.82" y1="388.30" x2="95.82" y2="389.30" stroke="#555" stroke-width="0.3"/>
<line x1="96.97" y1="388.30" x2="96.97" y2="389.30" stroke="#555" stroke-width="0.3"/>
<line x1="104.77" y1="388.30" x2="104.77" y2="389.30" stroke="#555" stroke-width="0.3"/>
<line x1="108.74" y1="388.30" x2="108.74" y2="389.30" stroke="#555" stroke-width="0.3"/>
<line x1="111.55" y1="388.30" x2="111.55" y2="389.30" stroke="#555" stroke-width="0.3"/>
<line x1="113.73" y1="388.30" x2="113.73" y2="389.30" stroke="#555" stroke-width="0.3"/>
<line x1="115.51" y1="388.30" x2="115.51" y2="389.30" stroke="#555" stroke-width="0.3"/>
<line x1="117.01" y1="388.30" x2="117.01" y2="389.30" stroke="#555" stroke-width="0.3"/>
<line x1="118.32" y1="388.30" x2="118.32" y2="389.30" stroke="#555" stroke-width="0.3"/>
<line x1="119.47" y1="388.30" x2="119.47" y2="389.30" stroke="#555" stroke-width="0.3"/>
<line x1="127.27" y1="388.30" x2="127.27" y2="389.30" stroke="#555" stroke-width="0.3"/>
<line x1="131.24" y1="388.30" x2="131.24" y2="389.30" stroke="#555" stroke-width="0.3"/>
<line x1="134.05" y1="388.30" x2="134.05" y2="389.30" stroke="#555" stroke-width="0.3"/>
<line x1="136.23" y1="388.30" x2="136.23" y2="389.30" stroke="#555" stroke-width="0.3"/>
<line x1="138.01" y1="388.30" x2="138.01" y2="389.30" stroke="#555" stroke-width="0.3"/>
<line x1="139.51" y1="388.30" x2="139.51" y2="389.30" stroke="#555" stroke-width="0.3"/>
<line x1="140.82" y1="388.30" x2="140.82" y2="389.30" stroke="#555" stroke-width="0.3"/>
<line x1="141.97" y1="388.30" x2="141.97" y2="389.30" stroke="#555" stroke-width="0.3"/>
<text x="96.50" y="403.00" font-size="5.6" text-anchor="middle" fill="#222" font-weight="bold">CTLA-4 PE</text>
<rect x="58.30" y="303.30" width="3.60" height="4.60" fill="#c4c4c4"/>
<text x="66.00" y="308.60" font-size="6.45" fill="#80809a" stroke="#80809a" stroke-width="0.3">Isotype control</text>
<text x="120.50" y="308.60" font-size="6.2" fill="#80809a" stroke="#80809a" stroke-width="0.3">1.28%</text>
<line x1="58.00" y1="313.20" x2="64.00" y2="313.20" stroke="#7edb3a" stroke-width="0.9"/>
<text x="66.00" y="315.70" font-size="6.15" fill="#55d040" stroke="#55d040" stroke-width="0.3">GFP-FoxP3 neg.</text>
<text x="118.50" y="315.70" font-size="6.2" fill="#55d040" stroke="#55d040" stroke-width="0.3">36.59%</text>
<line x1="58.00" y1="320.60" x2="64.00" y2="320.60" stroke="#d4492a" stroke-width="0.9"/>
<text x="66.00" y="323.10" font-size="6.15" fill="#cc2a26" stroke="#cc2a26" stroke-width="0.3">GFP-FoxP3 pos.</text>
<text x="118.50" y="323.10" font-size="6.2" fill="#cc2a26" stroke="#cc2a26" stroke-width="0.3">38.84%</text>
<text x="208.20" y="301.10" font-size="6.9" text-anchor="end" fill="#222" stroke="#222" stroke-width="0.3">1200</text>
<text x="208.20" y="316.05" font-size="6.9" text-anchor="end" fill="#222" stroke="#222" stroke-width="0.3">1000</text>
<text x="208.20" y="331.00" font-size="6.9" text-anchor="end" fill="#222" stroke="#222" stroke-width="0.3">800</text>
<text x="208.20" y="345.95" font-size="6.9" text-anchor="end" fill="#222" stroke="#222" stroke-width="0.3">600</text>
<text x="208.20" y="360.90" font-size="6.9" text-anchor="end" fill="#222" stroke="#222" stroke-width="0.3">400</text>
<text x="208.20" y="375.85" font-size="6.9" text-anchor="end" fill="#222" stroke="#222" stroke-width="0.3">200</text>
<text x="208.20" y="390.80" font-size="6.9" text-anchor="end" fill="#222" stroke="#222" stroke-width="0.3">0</text>
<line x1="213.20" y1="298.50" x2="213.20" y2="389.00" stroke="#dcdce6" stroke-width="0.8"/>
<line x1="212.80" y1="388.90" x2="257.00" y2="388.90" stroke="#d9cdb8" stroke-width="1.0"/>
<rect x="221.30" y="313.00" width="11.20" height="75.80" fill="url(#gb)"/>
<rect x="241.90" y="315.80" width="11.50" height="73.00" fill="url(#gb)"/>
<text x="191.20" y="339.00" font-size="7.1" text-anchor="middle" fill="#222" stroke="#222" stroke-width="0.3" transform="rotate(-90 191.20 339.00)">CD11a (MFI)</text>
<text x="229.50" y="397.00" font-size="7.5" text-anchor="end" fill="#222" stroke="#222" stroke-width="0.3" transform="rotate(-45 229.50 397.00)">GFP-Foxp3-/-</text>
<text x="250.60" y="397.80" font-size="7.5" text-anchor="end" fill="#222" stroke="#222" stroke-width="0.3" transform="rotate(-45 250.60 397.80)">GFP-Foxp3+/+</text>
<line x1="73.00" y1="535.00" x2="73.00" y2="653.50" stroke="#222" stroke-width="0.9"/>
<line x1="72.60" y1="653.10" x2="257.70" y2="653.10" stroke="#222" stroke-width="0.9"/>
<line x1="70.40" y1="653.10" x2="73.00" y2="653.10" stroke="#222" stroke-width="0.8"/>
<text x="68.80" y="655.80" font-size="7.4" text-anchor="end" fill="#222" stroke="#222" stroke-width="0.3">0</text>
<line x1="70.40" y1="623.93" x2="73.00" y2="623.93" stroke="#222" stroke-width="0.8"/>
<text x="68.80" y="626.63" font-size="7.4" text-anchor="end" fill="#222" stroke="#222" stroke-width="0.3">5</text>
<line x1="70.40" y1="594.75" x2="73.00" y2="594.75" stroke="#222" stroke-width="0.8"/>
<text x="68.80" y="597.45" font-size="7.4" text-anchor="end" fill="#222" stroke="#222" stroke-width="0.3">10</text>
<line x1="70.40" y1="565.58" x2="73.00" y2="565.58" stroke="#222" stroke-width="0.8"/>
<text x="68.80" y="568.28" font-size="7.4" text-anchor="end" fill="#222" stroke="#222" stroke-width="0.3">15</text>
<line x1="70.40" y1="536.40" x2="73.00" y2="536.40" stroke="#222" stroke-width="0.8"/>
<text x="68.80" y="539.10" font-size="7.4" text-anchor="end" fill="#222" stroke="#222" stroke-width="0.3">20</text>
<text x="54.50" y="588.40" font-size="8.5" text-anchor="middle" fill="#222" stroke="#222" stroke-width="0.3" transform="rotate(-90 54.50 588.40)">Velocity (µm/min)</text>
<circle cx="81.0" cy="615.2" r="1.42" fill="#e01b22"/>
<circle cx="81.0" cy="608.0" r="1.42" fill="#e01b22"/>
<circle cx="82.7" cy="605.4" r="1.42" fill="#e01b22"/>
<circle cx="81.0" cy="602.1" r="1.42" fill="#e01b22"/>
<circle cx="84.4" cy="600.3" r="1.42" fill="#e01b22"/>
<circle cx="81.0" cy="597.7" r="1.42" fill="#e01b22"/>
<circle cx="84.4" cy="597.0" r="1.42" fill="#e01b22"/>
<circle cx="81.0" cy="594.9" r="1.42" fill="#e01b22"/>
<circle cx="84.4" cy="592.9" r="1.42" fill="#e01b22"/>
<circle cx="81.0" cy="591.1" r="1.42" fill="#e01b22"/>
<circle cx="84.4" cy="589.4" r="1.42" fill="#e01b22"/>
<circle cx="81.0" cy="588.0" r="1.42" fill="#e01b22"/>
<circle cx="77.6" cy="587.2" r="1.42" fill="#e01b22"/>
<circle cx="82.7" cy="585.5" r="1.42" fill="#e01b22"/>
<circle cx="79.3" cy="584.2" r="1.42" fill="#e01b22"/>
<circle cx="77.9" cy="583.5" r="1.42" fill="#e01b22"/>
<circle cx="82.7" cy="582.2" r="1.42" fill="#e01b22"/>
<circle cx="79.3" cy="580.1" r="1.42" fill="#e01b22"/>
<circle cx="82.7" cy="579.2" r="1.42" fill="#e01b22"/>
<circle cx="77.6" cy="577.5" r="1.42" fill="#e01b22"/>
<circle cx="81.0" cy="576.5" r="1.42" fill="#e01b22"/>
<circle cx="84.4" cy="575.4" r="1.42" fill="#e01b22"/>
<circle cx="81.0" cy="573.5" r="1.42" fill="#e01b22"/>
<circle cx="84.4" cy="572.4" r="1.42" fill="#e01b22"/>
<circle cx="79.3" cy="570.9" r="1.42" fill="#e01b22"/>
<circle cx="82.7" cy="569.5" r="1.42" fill="#e01b22"/>
<circle cx="79.3" cy="567.7" r="1.42" fill="#e01b22"/>
<circle cx="82.7" cy="565.9" r="1.42" fill="#e01b22"/>
<circle cx="81.0" cy="553.3" r="1.42" fill="#e01b22"/>
<circle cx="81.0" cy="546.3" r="1.42" fill="#e01b22"/>
<line x1="76.00" y1="583.08" x2="86.00" y2="583.08" stroke="#111" stroke-width="1.1"/>
<circle cx="96.0" cy="642.5" r="1.42" fill="#e01b22"/>
<circle cx="99.4" cy="641.5" r="1.42" fill="#e01b22"/>
<circle cx="92.6" cy="640.4" r="1.42" fill="#e01b22"/>
<circle cx="96.0" cy="638.9" r="1.42" fill="#e01b22"/>
<circle cx="99.4" cy="638.3" r="1.42" fill="#e01b22"/>
<circle cx="92.6" cy="637.0" r="1.42" fill="#e01b22"/>
<circle cx="96.0" cy="635.9" r="1.42" fill="#e01b22"/>
<circle cx="99.4" cy="634.8" r="1.42" fill="#e01b22"/>
<circle cx="92.6" cy="633.7" r="1.42" fill="#e01b22"/>
<circle cx="96.0" cy="632.9" r="1.42" fill="#e01b22"/>
<circle cx="99.4" cy="631.3" r="1.42" fill="#e01b22"/>
<circle cx="92.6" cy="630.7" r="1.42" fill="#e01b22"/>
<circle cx="96.0" cy="630.2" r="1.42" fill="#e01b22"/>
<circle cx="91.6" cy="629.3" r="1.42" fill="#e01b22"/>
<circle cx="97.9" cy="628.8" r="1.42" fill="#e01b22"/>
<circle cx="91.5" cy="628.3" r="1.42" fill="#e01b22"/>
<circle cx="96.6" cy="627.6" r="1.42" fill="#e01b22"/>
<circle cx="92.8" cy="627.1" r="1.42" fill="#e01b22"/>
<circle cx="91.7" cy="626.6" r="1.42" fill="#e01b22"/>
<circle cx="99.4" cy="625.9" r="1.42" fill="#e01b22"/>
<circle cx="93.1" cy="625.4" r="1.42" fill="#e01b22"/>
<circle cx="92.0" cy="624.7" r="1.42" fill="#e01b22"/>
<circle cx="92.8" cy="624.3" r="1.42" fill="#e01b22"/>
<circle cx="96.0" cy="623.5" r="1.42" fill="#e01b22"/>
<circle cx="99.4" cy="622.9" r="1.42" fill="#e01b22"/>
<circle cx="97.7" cy="622.3" r="1.42" fill="#e01b22"/>
<circle cx="98.1" cy="622.1" r="1.42" fill="#e01b22"/>
<circle cx="92.6" cy="621.2" r="1.42" fill="#e01b22"/>
<circle cx="94.7" cy="620.1" r="1.42" fill="#e01b22"/>
<circle cx="97.7" cy="618.7" r="1.42" fill="#e01b22"/>
<circle cx="92.6" cy="617.7" r="1.42" fill="#e01b22"/>
<circle cx="97.4" cy="616.6" r="1.42" fill="#e01b22"/>
<circle cx="95.8" cy="615.9" r="1.42" fill="#e01b22"/>
<circle cx="92.6" cy="614.8" r="1.42" fill="#e01b22"/>
<circle cx="99.4" cy="614.1" r="1.42" fill="#e01b22"/>
<circle cx="96.0" cy="613.1" r="1.42" fill="#e01b22"/>
<circle cx="96.0" cy="607.6" r="1.42" fill="#e01b22"/>
<circle cx="96.0" cy="600.0" r="1.42" fill="#e01b22"/>
<circle cx="96.0" cy="593.6" r="1.42" fill="#e01b22"/>
<circle cx="96.0" cy="579.0" r="1.42" fill="#e01b22"/>
<circle cx="99.4" cy="579.0" r="1.42" fill="#e01b22"/>
<line x1="91.00" y1="621.01" x2="101.00" y2="621.01" stroke="#111" stroke-width="1.1"/>
<circle cx="111.3" cy="631.0" r="1.42" fill="#e01b22"/>
<circle cx="114.7" cy="629.8" r="1.42" fill="#e01b22"/>
<circle cx="109.6" cy="628.5" r="1.42" fill="#e01b22"/>
<circle cx="113.0" cy="626.9" r="1.42" fill="#e01b22"/>
<circle cx="107.9" cy="626.0" r="1.42" fill="#e01b22"/>
<circle cx="111.3" cy="624.4" r="1.42" fill="#e01b22"/>
<circle cx="114.7" cy="623.5" r="1.42" fill="#e01b22"/>
<circle cx="107.9" cy="622.2" r="1.42" fill="#e01b22"/>
<circle cx="111.3" cy="620.6" r="1.42" fill="#e01b22"/>
<circle cx="114.7" cy="619.8" r="1.42" fill="#e01b22"/>
<circle cx="107.9" cy="619.0" r="1.42" fill="#e01b22"/>
<circle cx="111.3" cy="617.7" r="1.42" fill="#e01b22"/>
<circle cx="114.7" cy="616.9" r="1.42" fill="#e01b22"/>
<circle cx="107.9" cy="616.1" r="1.42" fill="#e01b22"/>
<circle cx="109.0" cy="615.5" r="1.42" fill="#e01b22"/>
<circle cx="107.5" cy="614.7" r="1.42" fill="#e01b22"/>
<circle cx="113.0" cy="613.6" r="1.42" fill="#e01b22"/>
<circle cx="109.8" cy="612.8" r="1.42" fill="#e01b22"/>
<circle cx="111.3" cy="609.9" r="1.42" fill="#e01b22"/>
<circle cx="114.7" cy="608.4" r="1.42" fill="#e01b22"/>
<circle cx="107.9" cy="607.6" r="1.42" fill="#e01b22"/>
<circle cx="111.3" cy="606.5" r="1.42" fill="#e01b22"/>
<circle cx="114.7" cy="605.2" r="1.42" fill="#e01b22"/>
<circle cx="111.3" cy="598.5" r="1.42" fill="#e01b22"/>
<circle cx="114.7" cy="597.9" r="1.42" fill="#e01b22"/>
<circle cx="107.9" cy="596.9" r="1.42" fill="#e01b22"/>
<circle cx="113.0" cy="596.4" r="1.42" fill="#e01b22"/>
<circle cx="111.4" cy="595.5" r="1.42" fill="#e01b22"/>
<circle cx="111.3" cy="587.2" r="1.42" fill="#e01b22"/>
<circle cx="111.3" cy="579.6" r="1.42" fill="#e01b22"/>
<line x1="106.30" y1="611.38" x2="116.30" y2="611.38" stroke="#111" stroke-width="1.1"/>
<circle cx="126.8" cy="625.2" r="1.42" fill="#e01b22"/>
<circle cx="130.2" cy="624.2" r="1.42" fill="#e01b22"/>
<circle cx="125.1" cy="622.7" r="1.42" fill="#e01b22"/>
<circle cx="128.5" cy="621.3" r="1.42" fill="#e01b22"/>
<circle cx="125.1" cy="620.0" r="1.42" fill="#e01b22"/>
<circle cx="126.6" cy="619.3" r="1.42" fill="#e01b22"/>
<circle cx="130.2" cy="617.9" r="1.42" fill="#e01b22"/>
<circle cx="125.1" cy="616.9" r="1.42" fill="#e01b22"/>
<circle cx="128.5" cy="615.3" r="1.42" fill="#e01b22"/>
<circle cx="123.4" cy="614.4" r="1.42" fill="#e01b22"/>
<circle cx="124.5" cy="613.2" r="1.42" fill="#e01b22"/>
<circle cx="128.5" cy="611.7" r="1.42" fill="#e01b22"/>
<circle cx="125.1" cy="610.3" r="1.42" fill="#e01b22"/>
<circle cx="124.8" cy="609.4" r="1.42" fill="#e01b22"/>
<circle cx="126.8" cy="605.3" r="1.42" fill="#e01b22"/>
<circle cx="130.2" cy="603.8" r="1.42" fill="#e01b22"/>
<circle cx="126.8" cy="602.5" r="1.42" fill="#e01b22"/>
<circle cx="130.2" cy="600.8" r="1.42" fill="#e01b22"/>
<circle cx="126.8" cy="597.9" r="1.42" fill="#e01b22"/>
<circle cx="130.2" cy="595.9" r="1.42" fill="#e01b22"/>
<circle cx="126.8" cy="594.3" r="1.42" fill="#e01b22"/>
<circle cx="130.2" cy="593.0" r="1.42" fill="#e01b22"/>
<circle cx="123.4" cy="592.3" r="1.42" fill="#e01b22"/>
<circle cx="126.8" cy="586.6" r="1.42" fill="#e01b22"/>
<circle cx="130.2" cy="586.6" r="1.42" fill="#e01b22"/>
<circle cx="126.8" cy="579.0" r="1.42" fill="#e01b22"/>
<circle cx="126.8" cy="573.2" r="1.42" fill="#e01b22"/>
<circle cx="130.2" cy="572.2" r="1.42" fill="#e01b22"/>
<circle cx="126.8" cy="564.4" r="1.42" fill="#e01b22"/>
<circle cx="130.2" cy="563.1" r="1.42" fill="#e01b22"/>
<circle cx="123.4" cy="562.2" r="1.42" fill="#e01b22"/>
<circle cx="126.8" cy="560.7" r="1.42" fill="#e01b22"/>
<circle cx="126.8" cy="555.1" r="1.42" fill="#e01b22"/>
<circle cx="130.2" cy="555.1" r="1.42" fill="#e01b22"/>
<circle cx="126.8" cy="551.6" r="1.42" fill="#e01b22"/>
<line x1="121.80" y1="593.58" x2="131.80" y2="593.58" stroke="#111" stroke-width="1.1"/>
<circle cx="142.2" cy="616.9" r="1.42" fill="#e01b22"/>
<circle cx="142.2" cy="614.0" r="1.42" fill="#e01b22"/>
<circle cx="143.9" cy="611.7" r="1.42" fill="#e01b22"/>
<circle cx="142.2" cy="598.3" r="1.42" fill="#e01b22"/>
<circle cx="145.6" cy="597.2" r="1.42" fill="#e01b22"/>
<circle cx="138.8" cy="596.1" r="1.42" fill="#e01b22"/>
<circle cx="142.2" cy="595.2" r="1.42" fill="#e01b22"/>
<circle cx="145.6" cy="594.1" r="1.42" fill="#e01b22"/>
<circle cx="140.5" cy="592.8" r="1.42" fill="#e01b22"/>
<circle cx="143.9" cy="591.8" r="1.42" fill="#e01b22"/>
<circle cx="140.0" cy="590.8" r="1.42" fill="#e01b22"/>
<circle cx="139.3" cy="590.0" r="1.42" fill="#e01b22"/>
<circle cx="143.9" cy="588.7" r="1.42" fill="#e01b22"/>
<circle cx="140.5" cy="587.4" r="1.42" fill="#e01b22"/>
<circle cx="142.8" cy="586.6" r="1.42" fill="#e01b22"/>
<circle cx="138.5" cy="585.1" r="1.42" fill="#e01b22"/>
<circle cx="142.2" cy="580.2" r="1.42" fill="#e01b22"/>
<circle cx="142.2" cy="576.1" r="1.42" fill="#e01b22"/>
<circle cx="145.6" cy="576.1" r="1.42" fill="#e01b22"/>
<circle cx="142.2" cy="568.8" r="1.42" fill="#e01b22"/>
<circle cx="145.6" cy="568.3" r="1.42" fill="#e01b22"/>
<circle cx="138.8" cy="567.3" r="1.42" fill="#e01b22"/>
<circle cx="142.2" cy="566.0" r="1.42" fill="#e01b22"/>
<circle cx="142.2" cy="560.2" r="1.42" fill="#e01b22"/>
<circle cx="145.6" cy="559.5" r="1.42" fill="#e01b22"/>
<circle cx="138.8" cy="558.6" r="1.42" fill="#e01b22"/>
<circle cx="143.1" cy="557.7" r="1.42" fill="#e01b22"/>
<circle cx="142.2" cy="546.3" r="1.42" fill="#e01b22"/>
<line x1="137.20" y1="584.54" x2="147.20" y2="584.54" stroke="#111" stroke-width="1.1"/>
<circle cx="157.5" cy="622.8" r="1.42" fill="#e01b22"/>
<circle cx="159.2" cy="620.2" r="1.42" fill="#e01b22"/>
<circle cx="155.8" cy="618.5" r="1.42" fill="#e01b22"/>
<circle cx="159.2" cy="616.5" r="1.42" fill="#e01b22"/>
<circle cx="157.5" cy="614.2" r="1.42" fill="#e01b22"/>
<circle cx="157.5" cy="608.5" r="1.42" fill="#e01b22"/>
<circle cx="160.9" cy="607.1" r="1.42" fill="#e01b22"/>
<circle cx="155.8" cy="605.9" r="1.42" fill="#e01b22"/>
<circle cx="159.2" cy="604.0" r="1.42" fill="#e01b22"/>
<circle cx="154.1" cy="603.2" r="1.42" fill="#e01b22"/>
<circle cx="157.5" cy="602.3" r="1.42" fill="#e01b22"/>
<circle cx="160.9" cy="601.0" r="1.42" fill="#e01b22"/>
<circle cx="157.5" cy="599.2" r="1.42" fill="#e01b22"/>
<circle cx="160.9" cy="598.1" r="1.42" fill="#e01b22"/>
<circle cx="154.1" cy="597.2" r="1.42" fill="#e01b22"/>
<circle cx="157.5" cy="596.0" r="1.42" fill="#e01b22"/>
<circle cx="160.9" cy="594.5" r="1.42" fill="#e01b22"/>
<circle cx="155.8" cy="593.6" r="1.42" fill="#e01b22"/>
<circle cx="159.2" cy="591.6" r="1.42" fill="#e01b22"/>
<circle cx="157.5" cy="585.9" r="1.42" fill="#e01b22"/>
<circle cx="160.9" cy="585.4" r="1.42" fill="#e01b22"/>
<circle cx="154.1" cy="584.8" r="1.42" fill="#e01b22"/>
<circle cx="159.9" cy="584.3" r="1.42" fill="#e01b22"/>
<circle cx="158.7" cy="583.9" r="1.42" fill="#e01b22"/>
<circle cx="157.5" cy="576.1" r="1.42" fill="#e01b22"/>
<circle cx="160.9" cy="576.1" r="1.42" fill="#e01b22"/>
<circle cx="157.5" cy="569.3" r="1.42" fill="#e01b22"/>
<circle cx="160.9" cy="568.1" r="1.42" fill="#e01b22"/>
<circle cx="154.1" cy="567.6" r="1.42" fill="#e01b22"/>
<circle cx="157.5" cy="566.5" r="1.42" fill="#e01b22"/>
<circle cx="160.5" cy="565.5" r="1.42" fill="#e01b22"/>
<circle cx="154.1" cy="564.7" r="1.42" fill="#e01b22"/>
<circle cx="157.6" cy="564.1" r="1.42" fill="#e01b22"/>
<circle cx="158.3" cy="563.0" r="1.42" fill="#e01b22"/>
<circle cx="161.8" cy="562.5" r="1.42" fill="#e01b22"/>
<circle cx="154.1" cy="561.5" r="1.42" fill="#e01b22"/>
<circle cx="157.5" cy="560.4" r="1.42" fill="#e01b22"/>
<circle cx="160.9" cy="559.8" r="1.42" fill="#e01b22"/>
<circle cx="157.5" cy="548.7" r="1.42" fill="#e01b22"/>
<circle cx="157.5" cy="545.7" r="1.42" fill="#e01b22"/>
<circle cx="157.5" cy="537.0" r="1.42" fill="#e01b22"/>
<line x1="152.50" y1="583.66" x2="162.50" y2="583.66" stroke="#111" stroke-width="1.1"/>
<circle cx="173.0" cy="622.2" r="1.42" fill="#1b1f94"/>
<circle cx="173.0" cy="618.1" r="1.42" fill="#1b1f94"/>
<circle cx="173.0" cy="603.0" r="1.42" fill="#1b1f94"/>
<circle cx="176.4" cy="601.5" r="1.42" fill="#1b1f94"/>
<circle cx="173.0" cy="596.6" r="1.42" fill="#1b1f94"/>
<circle cx="176.4" cy="595.2" r="1.42" fill="#1b1f94"/>
<circle cx="171.3" cy="594.1" r="1.42" fill="#1b1f94"/>
<circle cx="174.7" cy="592.6" r="1.42" fill="#1b1f94"/>
<circle cx="171.3" cy="591.1" r="1.42" fill="#1b1f94"/>
<circle cx="176.4" cy="590.0" r="1.42" fill="#1b1f94"/>
<circle cx="169.6" cy="589.1" r="1.42" fill="#1b1f94"/>
<circle cx="173.0" cy="587.5" r="1.42" fill="#1b1f94"/>
<circle cx="176.4" cy="586.7" r="1.42" fill="#1b1f94"/>
<circle cx="171.3" cy="584.9" r="1.42" fill="#1b1f94"/>
<circle cx="174.7" cy="583.9" r="1.42" fill="#1b1f94"/>
<circle cx="169.6" cy="582.4" r="1.42" fill="#1b1f94"/>
<circle cx="173.0" cy="580.9" r="1.42" fill="#1b1f94"/>
<circle cx="173.0" cy="574.9" r="1.42" fill="#1b1f94"/>
<circle cx="176.4" cy="573.7" r="1.42" fill="#1b1f94"/>
<circle cx="173.0" cy="571.7" r="1.42" fill="#1b1f94"/>
<circle cx="173.0" cy="567.3" r="1.42" fill="#1b1f94"/>
<circle cx="176.4" cy="566.2" r="1.42" fill="#1b1f94"/>
<circle cx="173.0" cy="563.4" r="1.42" fill="#1b1f94"/>
<circle cx="176.4" cy="562.3" r="1.42" fill="#1b1f94"/>
<circle cx="173.0" cy="559.8" r="1.42" fill="#1b1f94"/>
<circle cx="176.4" cy="557.7" r="1.42" fill="#1b1f94"/>
<circle cx="173.0" cy="551.0" r="1.42" fill="#1b1f94"/>
<line x1="168.00" y1="583.66" x2="178.00" y2="583.66" stroke="#111" stroke-width="1.1"/>
<circle cx="188.5" cy="646.3" r="1.42" fill="#1b1f94"/>
<circle cx="191.9" cy="645.0" r="1.42" fill="#1b1f94"/>
<circle cx="185.1" cy="644.3" r="1.42" fill="#1b1f94"/>
<circle cx="188.5" cy="643.6" r="1.42" fill="#1b1f94"/>
<circle cx="188.8" cy="642.7" r="1.42" fill="#1b1f94"/>
<circle cx="192.1" cy="641.8" r="1.42" fill="#1b1f94"/>
<circle cx="185.1" cy="640.7" r="1.42" fill="#1b1f94"/>
<circle cx="188.5" cy="639.4" r="1.42" fill="#1b1f94"/>
<circle cx="191.9" cy="639.0" r="1.42" fill="#1b1f94"/>
<circle cx="192.0" cy="638.3" r="1.42" fill="#1b1f94"/>
<circle cx="185.1" cy="638.0" r="1.42" fill="#1b1f94"/>
<circle cx="185.6" cy="637.3" r="1.42" fill="#1b1f94"/>
<circle cx="187.7" cy="637.0" r="1.42" fill="#1b1f94"/>
<circle cx="190.4" cy="636.5" r="1.42" fill="#1b1f94"/>
<circle cx="187.8" cy="635.8" r="1.42" fill="#1b1f94"/>
<circle cx="192.8" cy="635.3" r="1.42" fill="#1b1f94"/>
<circle cx="184.0" cy="634.8" r="1.42" fill="#1b1f94"/>
<circle cx="187.7" cy="634.4" r="1.42" fill="#1b1f94"/>
<circle cx="191.7" cy="633.8" r="1.42" fill="#1b1f94"/>
<circle cx="192.6" cy="633.5" r="1.42" fill="#1b1f94"/>
<circle cx="188.6" cy="632.8" r="1.42" fill="#1b1f94"/>
<circle cx="186.2" cy="632.4" r="1.42" fill="#1b1f94"/>
<circle cx="189.3" cy="631.8" r="1.42" fill="#1b1f94"/>
<circle cx="186.8" cy="631.2" r="1.42" fill="#1b1f94"/>
<circle cx="190.3" cy="630.5" r="1.42" fill="#1b1f94"/>
<circle cx="187.0" cy="630.1" r="1.42" fill="#1b1f94"/>
<circle cx="185.7" cy="629.6" r="1.42" fill="#1b1f94"/>
<circle cx="189.3" cy="628.9" r="1.42" fill="#1b1f94"/>
<circle cx="191.0" cy="628.4" r="1.42" fill="#1b1f94"/>
<circle cx="188.4" cy="627.7" r="1.42" fill="#1b1f94"/>
<circle cx="189.4" cy="627.2" r="1.42" fill="#1b1f94"/>
<circle cx="185.1" cy="626.7" r="1.42" fill="#1b1f94"/>
<circle cx="189.1" cy="625.9" r="1.42" fill="#1b1f94"/>
<circle cx="188.5" cy="622.6" r="1.42" fill="#1b1f94"/>
<circle cx="191.9" cy="621.4" r="1.42" fill="#1b1f94"/>
<circle cx="188.5" cy="619.6" r="1.42" fill="#1b1f94"/>
<circle cx="188.5" cy="594.2" r="1.42" fill="#1b1f94"/>
<line x1="183.50" y1="632.68" x2="193.50" y2="632.68" stroke="#111" stroke-width="1.1"/>
<circle cx="203.8" cy="641.2" r="1.42" fill="#1b1f94"/>
<circle cx="207.2" cy="640.4" r="1.42" fill="#1b1f94"/>
<circle cx="202.1" cy="638.8" r="1.42" fill="#1b1f94"/>
<circle cx="206.3" cy="638.5" r="1.42" fill="#1b1f94"/>
<circle cx="199.6" cy="638.2" r="1.42" fill="#1b1f94"/>
<circle cx="201.6" cy="637.7" r="1.42" fill="#1b1f94"/>
<circle cx="200.8" cy="637.3" r="1.42" fill="#1b1f94"/>
<circle cx="207.6" cy="636.9" r="1.42" fill="#1b1f94"/>
<circle cx="200.3" cy="636.4" r="1.42" fill="#1b1f94"/>
<circle cx="200.4" cy="636.2" r="1.42" fill="#1b1f94"/>
<circle cx="201.2" cy="635.8" r="1.42" fill="#1b1f94"/>
<circle cx="206.5" cy="635.4" r="1.42" fill="#1b1f94"/>
<circle cx="201.0" cy="634.9" r="1.42" fill="#1b1f94"/>
<circle cx="208.2" cy="634.6" r="1.42" fill="#1b1f94"/>
<circle cx="202.0" cy="633.7" r="1.42" fill="#1b1f94"/>
<circle cx="205.2" cy="633.0" r="1.42" fill="#1b1f94"/>
<circle cx="201.0" cy="632.5" r="1.42" fill="#1b1f94"/>
<circle cx="201.9" cy="631.8" r="1.42" fill="#1b1f94"/>
<circle cx="207.2" cy="631.2" r="1.42" fill="#1b1f94"/>
<circle cx="208.4" cy="630.5" r="1.42" fill="#1b1f94"/>
<circle cx="201.4" cy="630.1" r="1.42" fill="#1b1f94"/>
<circle cx="202.4" cy="629.3" r="1.42" fill="#1b1f94"/>
<circle cx="199.7" cy="629.0" r="1.42" fill="#1b1f94"/>
<circle cx="201.0" cy="628.3" r="1.42" fill="#1b1f94"/>
<circle cx="205.5" cy="627.9" r="1.42" fill="#1b1f94"/>
<circle cx="202.7" cy="627.2" r="1.42" fill="#1b1f94"/>
<circle cx="207.2" cy="625.5" r="1.42" fill="#1b1f94"/>
<circle cx="203.8" cy="624.7" r="1.42" fill="#1b1f94"/>
<circle cx="200.4" cy="623.8" r="1.42" fill="#1b1f94"/>
<circle cx="204.0" cy="622.9" r="1.42" fill="#1b1f94"/>
<line x1="198.80" y1="634.14" x2="208.80" y2="634.14" stroke="#111" stroke-width="1.1"/>
<circle cx="219.2" cy="646.5" r="1.42" fill="#1b1f94"/>
<circle cx="222.6" cy="645.6" r="1.42" fill="#1b1f94"/>
<circle cx="215.8" cy="645.0" r="1.42" fill="#1b1f94"/>
<circle cx="215.2" cy="644.1" r="1.42" fill="#1b1f94"/>
<circle cx="219.2" cy="643.7" r="1.42" fill="#1b1f94"/>
<circle cx="222.6" cy="642.6" r="1.42" fill="#1b1f94"/>
<circle cx="220.4" cy="641.9" r="1.42" fill="#1b1f94"/>
<circle cx="215.8" cy="641.3" r="1.42" fill="#1b1f94"/>
<circle cx="222.2" cy="640.7" r="1.42" fill="#1b1f94"/>
<circle cx="217.2" cy="639.8" r="1.42" fill="#1b1f94"/>
<circle cx="218.6" cy="639.2" r="1.42" fill="#1b1f94"/>
<circle cx="217.7" cy="638.7" r="1.42" fill="#1b1f94"/>
<circle cx="222.6" cy="637.7" r="1.42" fill="#1b1f94"/>
<circle cx="217.6" cy="637.1" r="1.42" fill="#1b1f94"/>
<circle cx="223.3" cy="636.3" r="1.42" fill="#1b1f94"/>
<circle cx="216.7" cy="635.7" r="1.42" fill="#1b1f94"/>
<circle cx="221.4" cy="635.3" r="1.42" fill="#1b1f94"/>
<circle cx="215.0" cy="634.3" r="1.42" fill="#1b1f94"/>
<circle cx="221.8" cy="633.4" r="1.42" fill="#1b1f94"/>
<circle cx="219.2" cy="629.8" r="1.42" fill="#1b1f94"/>
<circle cx="222.6" cy="629.8" r="1.42" fill="#1b1f94"/>
<circle cx="219.2" cy="624.5" r="1.42" fill="#1b1f94"/>
<circle cx="222.6" cy="624.5" r="1.42" fill="#1b1f94"/>
<circle cx="219.2" cy="619.3" r="1.42" fill="#1b1f94"/>
<circle cx="222.6" cy="617.7" r="1.42" fill="#1b1f94"/>
<circle cx="219.2" cy="616.4" r="1.42" fill="#1b1f94"/>
<circle cx="222.6" cy="614.6" r="1.42" fill="#1b1f94"/>
<circle cx="219.2" cy="613.3" r="1.42" fill="#1b1f94"/>
<circle cx="219.2" cy="605.2" r="1.42" fill="#1b1f94"/>
<circle cx="222.6" cy="603.9" r="1.42" fill="#1b1f94"/>
<circle cx="219.2" cy="595.3" r="1.42" fill="#1b1f94"/>
<circle cx="219.2" cy="586.0" r="1.42" fill="#1b1f94"/>
<circle cx="222.6" cy="586.0" r="1.42" fill="#1b1f94"/>
<circle cx="219.2" cy="581.3" r="1.42" fill="#1b1f94"/>
<line x1="214.20" y1="627.43" x2="224.20" y2="627.43" stroke="#111" stroke-width="1.1"/>
<circle cx="234.6" cy="624.9" r="1.42" fill="#1b1f94"/>
<circle cx="238.0" cy="623.6" r="1.42" fill="#1b1f94"/>
<circle cx="231.2" cy="622.7" r="1.42" fill="#1b1f94"/>
<circle cx="234.6" cy="616.8" r="1.42" fill="#1b1f94"/>
<circle cx="238.0" cy="615.8" r="1.42" fill="#1b1f94"/>
<circle cx="231.2" cy="615.1" r="1.42" fill="#1b1f94"/>
<circle cx="231.7" cy="614.5" r="1.42" fill="#1b1f94"/>
<circle cx="234.3" cy="614.0" r="1.42" fill="#1b1f94"/>
<circle cx="234.6" cy="607.8" r="1.42" fill="#1b1f94"/>
<circle cx="238.0" cy="607.2" r="1.42" fill="#1b1f94"/>
<circle cx="231.2" cy="605.9" r="1.42" fill="#1b1f94"/>
<circle cx="234.6" cy="604.4" r="1.42" fill="#1b1f94"/>
<circle cx="234.6" cy="598.7" r="1.42" fill="#1b1f94"/>
<circle cx="238.0" cy="598.1" r="1.42" fill="#1b1f94"/>
<circle cx="231.2" cy="597.3" r="1.42" fill="#1b1f94"/>
<circle cx="238.5" cy="596.7" r="1.42" fill="#1b1f94"/>
<circle cx="237.7" cy="596.1" r="1.42" fill="#1b1f94"/>
<circle cx="237.2" cy="595.5" r="1.42" fill="#1b1f94"/>
<circle cx="232.9" cy="594.9" r="1.42" fill="#1b1f94"/>
<circle cx="237.8" cy="594.4" r="1.42" fill="#1b1f94"/>
<circle cx="231.4" cy="593.8" r="1.42" fill="#1b1f94"/>
<circle cx="236.2" cy="593.1" r="1.42" fill="#1b1f94"/>
<circle cx="234.7" cy="592.8" r="1.42" fill="#1b1f94"/>
<circle cx="239.2" cy="592.3" r="1.42" fill="#1b1f94"/>
<circle cx="239.0" cy="591.7" r="1.42" fill="#1b1f94"/>
<circle cx="231.2" cy="591.0" r="1.42" fill="#1b1f94"/>
<circle cx="234.6" cy="586.6" r="1.42" fill="#1b1f94"/>
<circle cx="238.0" cy="586.6" r="1.42" fill="#1b1f94"/>
<circle cx="234.6" cy="582.9" r="1.42" fill="#1b1f94"/>
<circle cx="238.0" cy="581.6" r="1.42" fill="#1b1f94"/>
<circle cx="231.2" cy="581.0" r="1.42" fill="#1b1f94"/>
<circle cx="234.6" cy="579.9" r="1.42" fill="#1b1f94"/>
<circle cx="233.6" cy="579.1" r="1.42" fill="#1b1f94"/>
<circle cx="238.0" cy="578.0" r="1.42" fill="#1b1f94"/>
<circle cx="234.6" cy="572.6" r="1.42" fill="#1b1f94"/>
<circle cx="238.0" cy="571.1" r="1.42" fill="#1b1f94"/>
<circle cx="232.9" cy="570.2" r="1.42" fill="#1b1f94"/>
<circle cx="234.6" cy="558.6" r="1.42" fill="#1b1f94"/>
<line x1="229.60" y1="594.75" x2="239.60" y2="594.75" stroke="#111" stroke-width="1.1"/>
<circle cx="250.0" cy="616.5" r="1.42" fill="#1b1f94"/>
<circle cx="253.4" cy="615.2" r="1.42" fill="#1b1f94"/>
<circle cx="248.3" cy="613.9" r="1.42" fill="#1b1f94"/>
<circle cx="254.6" cy="612.9" r="1.42" fill="#1b1f94"/>
<circle cx="254.4" cy="612.1" r="1.42" fill="#1b1f94"/>
<circle cx="250.0" cy="610.7" r="1.42" fill="#1b1f94"/>
<circle cx="253.4" cy="609.4" r="1.42" fill="#1b1f94"/>
<circle cx="250.0" cy="604.3" r="1.42" fill="#1b1f94"/>
<circle cx="253.4" cy="603.1" r="1.42" fill="#1b1f94"/>
<circle cx="246.6" cy="602.5" r="1.42" fill="#1b1f94"/>
<circle cx="250.0" cy="601.4" r="1.42" fill="#1b1f94"/>
<circle cx="253.4" cy="600.2" r="1.42" fill="#1b1f94"/>
<circle cx="246.6" cy="599.4" r="1.42" fill="#1b1f94"/>
<circle cx="250.0" cy="598.4" r="1.42" fill="#1b1f94"/>
<circle cx="248.2" cy="597.7" r="1.42" fill="#1b1f94"/>
<circle cx="253.4" cy="596.5" r="1.42" fill="#1b1f94"/>
<circle cx="250.0" cy="595.4" r="1.42" fill="#1b1f94"/>
<circle cx="246.6" cy="595.1" r="1.42" fill="#1b1f94"/>
<circle cx="253.4" cy="593.7" r="1.42" fill="#1b1f94"/>
<circle cx="246.3" cy="593.2" r="1.42" fill="#1b1f94"/>
<circle cx="250.0" cy="591.8" r="1.42" fill="#1b1f94"/>
<circle cx="254.1" cy="591.2" r="1.42" fill="#1b1f94"/>
<circle cx="246.6" cy="590.4" r="1.42" fill="#1b1f94"/>
<circle cx="250.0" cy="589.0" r="1.42" fill="#1b1f94"/>
<circle cx="253.4" cy="588.4" r="1.42" fill="#1b1f94"/>
<circle cx="250.0" cy="579.4" r="1.42" fill="#1b1f94"/>
<circle cx="253.4" cy="578.7" r="1.42" fill="#1b1f94"/>
<circle cx="246.6" cy="578.1" r="1.42" fill="#1b1f94"/>
<circle cx="250.0" cy="568.2" r="1.42" fill="#1b1f94"/>
<circle cx="253.4" cy="567.1" r="1.42" fill="#1b1f94"/>
<circle cx="250.0" cy="561.7" r="1.42" fill="#1b1f94"/>
<circle cx="253.4" cy="561.0" r="1.42" fill="#1b1f94"/>
<circle cx="246.6" cy="560.4" r="1.42" fill="#1b1f94"/>
<circle cx="247.3" cy="559.5" r="1.42" fill="#1b1f94"/>
<circle cx="250.0" cy="554.5" r="1.42" fill="#1b1f94"/>
<circle cx="250.0" cy="541.7" r="1.42" fill="#1b1f94"/>
<circle cx="250.0" cy="538.7" r="1.42" fill="#1b1f94"/>
<line x1="245.00" y1="586.58" x2="255.00" y2="586.58" stroke="#111" stroke-width="1.1"/>
<text x="76.40" y="497.80" font-size="7.15" fill="#1c1c1c" stroke="#1c1c1c" stroke-width="0.3">P&lt;0.0001</text>
<line x1="76.20" y1="498.90" x2="99.70" y2="498.90" stroke="#1c1c1c" stroke-width="0.9"/>
<text x="92.90" y="506.00" font-size="7.15" fill="#1c1c1c" stroke="#1c1c1c" stroke-width="0.3">P=0.007</text>
<line x1="92.70" y1="507.50" x2="115.80" y2="507.50" stroke="#1c1c1c" stroke-width="0.9"/>
<text x="108.20" y="515.20" font-size="7.15" fill="#1c1c1c" stroke="#1c1c1c" stroke-width="0.3">P=0.0008</text>
<line x1="108.00" y1="516.70" x2="130.80" y2="516.70" stroke="#1c1c1c" stroke-width="0.9"/>
<text x="120.10" y="523.70" font-size="7.15" fill="#1c1c1c" stroke="#1c1c1c" stroke-width="0.3">P=0.1237</text>
<line x1="119.90" y1="525.20" x2="144.00" y2="525.20" stroke="#1c1c1c" stroke-width="0.9"/>
<text x="138.10" y="531.90" font-size="7.15" fill="#1c1c1c" stroke="#1c1c1c" stroke-width="0.3">P=0.8518</text>
<line x1="137.90" y1="533.40" x2="160.50" y2="533.40" stroke="#1c1c1c" stroke-width="0.9"/>
<text x="170.20" y="495.60" font-size="7.15" fill="#1c1c1c" stroke="#1c1c1c" stroke-width="0.3">P&lt;0.0001</text>
<line x1="170.00" y1="496.70" x2="191.70" y2="496.70" stroke="#1c1c1c" stroke-width="0.9"/>
<text x="182.90" y="504.70" font-size="7.15" fill="#1c1c1c" stroke="#1c1c1c" stroke-width="0.3">P=0.9330</text>
<line x1="182.70" y1="506.20" x2="205.50" y2="506.20" stroke="#1c1c1c" stroke-width="0.9"/>
<text x="200.30" y="514.50" font-size="7.15" fill="#1c1c1c" stroke="#1c1c1c" stroke-width="0.3">P=0.1562</text>
<line x1="200.10" y1="516.00" x2="221.30" y2="516.00" stroke="#1c1c1c" stroke-width="0.9"/>
<text x="210.90" y="523.70" font-size="7.15" fill="#1c1c1c" stroke="#1c1c1c" stroke-width="0.3">P&lt;0.0001</text>
<line x1="210.70" y1="525.20" x2="233.00" y2="525.20" stroke="#1c1c1c" stroke-width="0.9"/>
<text x="228.90" y="531.70" font-size="7.15" fill="#1c1c1c" stroke="#1c1c1c" stroke-width="0.3">P=0.1038</text>
<line x1="228.70" y1="533.20" x2="252.00" y2="533.20" stroke="#1c1c1c" stroke-width="0.9"/>
<text x="96.00" y="665.70" font-size="8.2" text-anchor="middle" fill="#222" stroke="#222" stroke-width="0.3">0</text>
<text x="111.30" y="665.70" font-size="8.2" text-anchor="middle" fill="#222" stroke="#222" stroke-width="0.3">5</text>
<text x="126.80" y="665.70" font-size="8.2" text-anchor="middle" fill="#222" stroke="#222" stroke-width="0.3">10</text>
<text x="142.20" y="665.70" font-size="8.2" text-anchor="middle" fill="#222" stroke="#222" stroke-width="0.3">20</text>
<text x="157.50" y="665.70" font-size="8.2" text-anchor="middle" fill="#222" stroke="#222" stroke-width="0.3">40</text>
<text x="188.70" y="665.70" font-size="8.2" text-anchor="middle" fill="#222" stroke="#222" stroke-width="0.3">0</text>
<text x="204.20" y="665.70" font-size="8.2" text-anchor="middle" fill="#222" stroke="#222" stroke-width="0.3">5</text>
<text x="219.60" y="665.70" font-size="8.2" text-anchor="middle" fill="#222" stroke="#222" stroke-width="0.3">10</text>
<text x="235.80" y="665.70" font-size="8.2" text-anchor="middle" fill="#222" stroke="#222" stroke-width="0.3">20</text>
<text x="251.80" y="665.70" font-size="8.2" text-anchor="middle" fill="#222" stroke="#222" stroke-width="0.3">40</text>
<text x="259.30" y="666.00" font-size="8.1" fill="#222" stroke="#222" stroke-width="0.3">µg/ml</text>
<line x1="95.00" y1="667.60" x2="164.70" y2="667.60" stroke="#222" stroke-width="0.9"/>
<line x1="186.20" y1="667.60" x2="257.20" y2="667.60" stroke="#222" stroke-width="0.9"/>
<text x="75.80" y="661.00" font-size="8.2" fill="#222" stroke="#222" stroke-width="0.3" transform="rotate(46 75.80 661.00)">control</text>
<text x="169.80" y="661.30" font-size="8.2" fill="#222" stroke="#222" stroke-width="0.3" transform="rotate(46 169.80 661.30)">control</text>
<text transform="translate(115,691) scale(1.085,1)" font-size="7.65" fill="#222" stroke="#222" stroke-width="0.3">anti-CTLA-4 + 1µg/ml anti-CD3</text>
<circle cx="264.7" cy="475" r="2.4" fill="#e01b22"/>
<text x="270.00" y="477.00" font-size="6.5" fill="#d8232a" stroke="#d8232a" stroke-width="0.3">GFP-FoxP3 neg.</text>
<ellipse cx="264.7" cy="484.9" rx="2.3" ry="2.6" fill="#0b0b2a"/>
<text x="270.00" y="487.20" font-size="6.5" fill="#1f3f9a" stroke="#1f3f9a" stroke-width="0.3">GFP-FoxP3 pos.</text>
<line x1="347.80" y1="648.80" x2="350.00" y2="648.80" stroke="#666" stroke-width="0.7"/>
<text transform="translate(343.6,651.70) scale(0.86,1)" font-size="8.3" text-anchor="end" fill="#222" stroke="#222" stroke-width="0.2">0</text>
<line x1="347.80" y1="632.60" x2="350.00" y2="632.60" stroke="#666" stroke-width="0.7"/>
<text transform="translate(343.6,635.50) scale(0.86,1)" font-size="8.3" text-anchor="end" fill="#222" stroke="#222" stroke-width="0.2">2</text>
<line x1="347.80" y1="616.40" x2="350.00" y2="616.40" stroke="#666" stroke-width="0.7"/>
<text transform="translate(343.6,619.30) scale(0.86,1)" font-size="8.3" text-anchor="end" fill="#222" stroke="#222" stroke-width="0.2">4</text>
<line x1="347.80" y1="600.20" x2="350.00" y2="600.20" stroke="#666" stroke-width="0.7"/>
<text transform="translate(343.6,603.10) scale(0.86,1)" font-size="8.3" text-anchor="end" fill="#222" stroke="#222" stroke-width="0.2">6</text>
<line x1="347.80" y1="584.00" x2="350.00" y2="584.00" stroke="#666" stroke-width="0.7"/>
<text transform="translate(343.6,586.90) scale(0.86,1)" font-size="8.3" text-anchor="end" fill="#222" stroke="#222" stroke-width="0.2">8</text>
<line x1="347.80" y1="567.80" x2="350.00" y2="567.80" stroke="#666" stroke-width="0.7"/>
<text transform="translate(343.6,570.70) scale(0.86,1)" font-size="8.3" text-anchor="end" fill="#222" stroke="#222" stroke-width="0.2">10</text>
<line x1="347.80" y1="551.60" x2="350.00" y2="551.60" stroke="#666" stroke-width="0.7"/>
<text transform="translate(343.6,554.50) scale(0.86,1)" font-size="8.3" text-anchor="end" fill="#222" stroke="#222" stroke-width="0.2">12</text>
<line x1="347.80" y1="535.40" x2="350.00" y2="535.40" stroke="#666" stroke-width="0.7"/>
<text transform="translate(343.6,538.30) scale(0.86,1)" font-size="8.3" text-anchor="end" fill="#222" stroke="#222" stroke-width="0.2">14</text>
<text x="330.30" y="590.80" font-size="8.1" text-anchor="middle" fill="#222" stroke="#222" stroke-width="0.3" transform="rotate(-90 330.30 590.80)">Mean velocity (µm/min)</text>
<defs><linearGradient id="gr" x1="0" x2="1" y1="0" y2="0"><stop offset="0" stop-color="#5e0808"/><stop offset="0.22" stop-color="#9a1414"/><stop offset="0.5" stop-color="#ab1818"/><stop offset="0.8" stop-color="#8a1010"/><stop offset="1" stop-color="#4e0606"/></linearGradient><linearGradient id="gb" x1="0" x2="1" y1="0" y2="0"><stop offset="0" stop-color="#121240"/><stop offset="0.25" stop-color="#26267c"/><stop offset="0.55" stop-color="#2c2c88"/><stop offset="0.8" stop-color="#222270"/><stop offset="1" stop-color="#0e0e38"/></linearGradient></defs>
<line x1="361.10" y1="607.49" x2="361.10" y2="603.03" stroke="#b03030" stroke-width="0.8"/>
<line x1="359.60" y1="603.03" x2="362.60" y2="603.03" stroke="#b03030" stroke-width="0.8"/>
<line x1="368.70" y1="617.21" x2="368.70" y2="614.13" stroke="#2a2a70" stroke-width="0.8"/>
<line x1="367.20" y1="614.13" x2="370.20" y2="614.13" stroke="#2a2a70" stroke-width="0.8"/>
<rect x="357.30" y="607.49" width="7.60" height="41.31" fill="url(#gr)"/>
<rect x="364.90" y="617.21" width="7.60" height="31.59" fill="url(#gb)"/>
<line x1="356.50" y1="599.60" x2="372.70" y2="599.60" stroke="#1a1a1a" stroke-width="1.0"/>
<text x="364.60" y="601.70" font-size="10.5" text-anchor="middle" fill="#111" font-weight="bold">*</text>
<line x1="388.80" y1="591.29" x2="388.80" y2="587.24" stroke="#b03030" stroke-width="0.8"/>
<line x1="387.30" y1="587.24" x2="390.30" y2="587.24" stroke="#b03030" stroke-width="0.8"/>
<line x1="396.40" y1="618.02" x2="396.40" y2="616.40" stroke="#2a2a70" stroke-width="0.8"/>
<line x1="394.90" y1="616.40" x2="397.90" y2="616.40" stroke="#2a2a70" stroke-width="0.8"/>
<rect x="385.00" y="591.29" width="7.60" height="57.51" fill="url(#gr)"/>
<rect x="392.60" y="618.02" width="7.60" height="30.78" fill="url(#gb)"/>
<line x1="384.20" y1="583.50" x2="400.40" y2="583.50" stroke="#1a1a1a" stroke-width="1.0"/>
<text x="392.30" y="585.60" font-size="10.5" text-anchor="middle" fill="#111" font-weight="bold">***</text>
<line x1="416.40" y1="566.18" x2="416.40" y2="560.91" stroke="#b03030" stroke-width="0.8"/>
<line x1="414.90" y1="560.91" x2="417.90" y2="560.91" stroke="#b03030" stroke-width="0.8"/>
<line x1="424.00" y1="613.16" x2="424.00" y2="608.30" stroke="#2a2a70" stroke-width="0.8"/>
<line x1="422.50" y1="608.30" x2="425.50" y2="608.30" stroke="#2a2a70" stroke-width="0.8"/>
<rect x="412.60" y="566.18" width="7.60" height="82.62" fill="url(#gr)"/>
<rect x="420.20" y="613.16" width="7.60" height="35.64" fill="url(#gb)"/>
<line x1="411.80" y1="556.80" x2="428.00" y2="556.80" stroke="#1a1a1a" stroke-width="1.0"/>
<text x="419.90" y="558.90" font-size="10.5" text-anchor="middle" fill="#111" font-weight="bold">***</text>
<line x1="443.10" y1="554.84" x2="443.10" y2="549.17" stroke="#b03030" stroke-width="0.8"/>
<line x1="441.60" y1="549.17" x2="444.60" y2="549.17" stroke="#b03030" stroke-width="0.8"/>
<line x1="450.70" y1="571.04" x2="450.70" y2="566.58" stroke="#2a2a70" stroke-width="0.8"/>
<line x1="449.20" y1="566.58" x2="452.20" y2="566.58" stroke="#2a2a70" stroke-width="0.8"/>
<rect x="439.30" y="554.84" width="7.60" height="93.96" fill="url(#gr)"/>
<rect x="446.90" y="571.04" width="7.60" height="77.76" fill="url(#gb)"/>
<line x1="438.50" y1="545.10" x2="454.70" y2="545.10" stroke="#1a1a1a" stroke-width="1.0"/>
<text x="446.60" y="547.20" font-size="10.5" text-anchor="middle" fill="#111" font-weight="bold">**</text>
<line x1="470.60" y1="553.22" x2="470.60" y2="547.55" stroke="#b03030" stroke-width="0.8"/>
<line x1="469.10" y1="547.55" x2="472.10" y2="547.55" stroke="#b03030" stroke-width="0.8"/>
<line x1="478.20" y1="564.56" x2="478.20" y2="558.08" stroke="#2a2a70" stroke-width="0.8"/>
<line x1="476.70" y1="558.08" x2="479.70" y2="558.08" stroke="#2a2a70" stroke-width="0.8"/>
<rect x="466.80" y="553.22" width="7.60" height="95.58" fill="url(#gr)"/>
<rect x="474.40" y="564.56" width="7.60" height="84.24" fill="url(#gb)"/>
<line x1="466.00" y1="543.60" x2="482.20" y2="543.60" stroke="#1a1a1a" stroke-width="1.0"/>
<text x="474.10" y="545.70" font-size="10.5" text-anchor="middle" fill="#111" font-weight="bold">*</text>
<line x1="350.00" y1="534.60" x2="350.00" y2="649.20" stroke="#6a6a6a" stroke-width="0.8"/>
<line x1="349.60" y1="648.80" x2="487.50" y2="648.80" stroke="#555" stroke-width="0.9"/>
<text x="364.00" y="663.30" font-size="8.2" text-anchor="middle" fill="#222" stroke="#222" stroke-width="0.3">0</text>
<text x="391.80" y="663.30" font-size="8.2" text-anchor="middle" fill="#222" stroke="#222" stroke-width="0.3">5</text>
<text x="418.80" y="663.30" font-size="8.2" text-anchor="middle" fill="#222" stroke="#222" stroke-width="0.3">10</text>
<text x="446.50" y="663.30" font-size="8.2" text-anchor="middle" fill="#222" stroke="#222" stroke-width="0.3">20</text>
<text x="469.00" y="663.30" font-size="8.2" fill="#222" stroke="#222" stroke-width="0.3">40 µg/ml</text>
<line x1="387.00" y1="666.90" x2="481.00" y2="666.90" stroke="#222" stroke-width="0.8"/>
<text x="387.60" y="676.80" font-size="8.15" fill="#222" stroke="#222" stroke-width="0.3">anti-CTLA-4 + 1µg/ml anti-CD3</text>
<line x1="80.50" y1="810.50" x2="80.50" y2="922.00" stroke="#222" stroke-width="0.9"/>
<line x1="80.10" y1="921.60" x2="246.00" y2="921.60" stroke="#222" stroke-width="0.9"/>
<line x1="77.90" y1="921.60" x2="80.50" y2="921.60" stroke="#222" stroke-width="0.8"/>
<text x="76.20" y="924.50" font-size="7.1" text-anchor="end" fill="#222" stroke="#222" stroke-width="0.3">0</text>
<line x1="77.90" y1="894.08" x2="80.50" y2="894.08" stroke="#222" stroke-width="0.8"/>
<text x="76.20" y="896.98" font-size="7.1" text-anchor="end" fill="#222" stroke="#222" stroke-width="0.3">50</text>
<line x1="77.90" y1="866.55" x2="80.50" y2="866.55" stroke="#222" stroke-width="0.8"/>
<text x="76.20" y="869.45" font-size="7.1" text-anchor="end" fill="#222" stroke="#222" stroke-width="0.3">100</text>
<line x1="77.90" y1="839.02" x2="80.50" y2="839.02" stroke="#222" stroke-width="0.8"/>
<text x="76.20" y="841.92" font-size="7.1" text-anchor="end" fill="#222" stroke="#222" stroke-width="0.3">150</text>
<line x1="77.90" y1="811.50" x2="80.50" y2="811.50" stroke="#222" stroke-width="0.8"/>
<text x="76.20" y="814.40" font-size="7.1" text-anchor="end" fill="#222" stroke="#222" stroke-width="0.3">200</text>
<text x="61.00" y="864.60" font-size="7.9" text-anchor="middle" fill="#222" stroke="#222" stroke-width="0.3" transform="rotate(-90 61.00 864.60)">Displacement (µm)</text>
<circle cx="87.0" cy="912.8" r="1.35" fill="#e01b22"/>
<circle cx="87.0" cy="903.1" r="1.35" fill="#e01b22"/>
<circle cx="90.2" cy="902.3" r="1.35" fill="#e01b22"/>
<circle cx="83.8" cy="900.9" r="1.35" fill="#e01b22"/>
<circle cx="87.0" cy="890.9" r="1.35" fill="#e01b22"/>
<circle cx="90.2" cy="889.3" r="1.35" fill="#e01b22"/>
<circle cx="85.4" cy="888.5" r="1.35" fill="#e01b22"/>
<circle cx="88.6" cy="886.5" r="1.35" fill="#e01b22"/>
<circle cx="85.4" cy="885.4" r="1.35" fill="#e01b22"/>
<circle cx="87.0" cy="879.7" r="1.35" fill="#e01b22"/>
<circle cx="90.2" cy="879.0" r="1.35" fill="#e01b22"/>
<circle cx="83.8" cy="878.1" r="1.35" fill="#e01b22"/>
<circle cx="87.0" cy="877.0" r="1.35" fill="#e01b22"/>
<circle cx="90.2" cy="876.0" r="1.35" fill="#e01b22"/>
<circle cx="83.8" cy="875.3" r="1.35" fill="#e01b22"/>
<circle cx="87.0" cy="873.8" r="1.35" fill="#e01b22"/>
<circle cx="90.2" cy="872.9" r="1.35" fill="#e01b22"/>
<circle cx="87.0" cy="867.1" r="1.35" fill="#e01b22"/>
<circle cx="90.2" cy="867.1" r="1.35" fill="#e01b22"/>
<circle cx="87.0" cy="856.6" r="1.35" fill="#e01b22"/>
<circle cx="90.2" cy="855.3" r="1.35" fill="#e01b22"/>
<circle cx="83.8" cy="854.5" r="1.35" fill="#e01b22"/>
<circle cx="87.0" cy="853.3" r="1.35" fill="#e01b22"/>
<circle cx="87.0" cy="842.1" r="1.35" fill="#e01b22"/>
<circle cx="90.2" cy="840.7" r="1.35" fill="#e01b22"/>
<circle cx="87.0" cy="839.5" r="1.35" fill="#e01b22"/>
<circle cx="83.8" cy="838.8" r="1.35" fill="#e01b22"/>
<circle cx="90.2" cy="837.9" r="1.35" fill="#e01b22"/>
<circle cx="87.0" cy="828.6" r="1.35" fill="#e01b22"/>
<circle cx="87.0" cy="812.6" r="1.35" fill="#e01b22"/>
<line x1="82.40" y1="870.40" x2="91.60" y2="870.40" stroke="#111" stroke-width="1.1"/>
<circle cx="100.6" cy="920.3" r="1.35" fill="#e01b22"/>
<circle cx="103.8" cy="920.1" r="1.35" fill="#e01b22"/>
<circle cx="97.4" cy="920.0" r="1.35" fill="#e01b22"/>
<circle cx="97.7" cy="919.7" r="1.35" fill="#e01b22"/>
<circle cx="97.0" cy="919.5" r="1.35" fill="#e01b22"/>
<circle cx="100.2" cy="919.4" r="1.35" fill="#e01b22"/>
<circle cx="98.7" cy="919.0" r="1.35" fill="#e01b22"/>
<circle cx="104.3" cy="918.9" r="1.35" fill="#e01b22"/>
<circle cx="99.6" cy="918.6" r="1.35" fill="#e01b22"/>
<circle cx="97.1" cy="918.5" r="1.35" fill="#e01b22"/>
<circle cx="96.2" cy="918.3" r="1.35" fill="#e01b22"/>
<circle cx="102.4" cy="917.9" r="1.35" fill="#e01b22"/>
<circle cx="97.2" cy="917.8" r="1.35" fill="#e01b22"/>
<circle cx="104.6" cy="917.6" r="1.35" fill="#e01b22"/>
<circle cx="102.8" cy="917.3" r="1.35" fill="#e01b22"/>
<circle cx="101.2" cy="916.6" r="1.35" fill="#e01b22"/>
<circle cx="101.2" cy="916.2" r="1.35" fill="#e01b22"/>
<circle cx="98.7" cy="916.0" r="1.35" fill="#e01b22"/>
<circle cx="104.2" cy="915.7" r="1.35" fill="#e01b22"/>
<circle cx="98.9" cy="915.5" r="1.35" fill="#e01b22"/>
<circle cx="97.5" cy="915.1" r="1.35" fill="#e01b22"/>
<circle cx="101.3" cy="914.9" r="1.35" fill="#e01b22"/>
<circle cx="103.8" cy="914.6" r="1.35" fill="#e01b22"/>
<circle cx="104.7" cy="914.3" r="1.35" fill="#e01b22"/>
<circle cx="99.5" cy="914.1" r="1.35" fill="#e01b22"/>
<circle cx="98.3" cy="913.8" r="1.35" fill="#e01b22"/>
<circle cx="100.3" cy="913.5" r="1.35" fill="#e01b22"/>
<circle cx="97.1" cy="913.2" r="1.35" fill="#e01b22"/>
<circle cx="101.5" cy="912.9" r="1.35" fill="#e01b22"/>
<circle cx="98.1" cy="912.7" r="1.35" fill="#e01b22"/>
<circle cx="98.8" cy="912.3" r="1.35" fill="#e01b22"/>
<circle cx="103.1" cy="911.6" r="1.35" fill="#e01b22"/>
<circle cx="104.5" cy="910.8" r="1.35" fill="#e01b22"/>
<circle cx="101.7" cy="910.4" r="1.35" fill="#e01b22"/>
<circle cx="97.4" cy="909.7" r="1.35" fill="#e01b22"/>
<circle cx="98.7" cy="909.2" r="1.35" fill="#e01b22"/>
<circle cx="104.5" cy="908.7" r="1.35" fill="#e01b22"/>
<circle cx="101.4" cy="908.2" r="1.35" fill="#e01b22"/>
<circle cx="101.1" cy="907.5" r="1.35" fill="#e01b22"/>
<circle cx="100.6" cy="897.4" r="1.35" fill="#e01b22"/>
<line x1="96.00" y1="914.99" x2="105.20" y2="914.99" stroke="#111" stroke-width="1.1"/>
<circle cx="114.4" cy="917.7" r="1.35" fill="#e01b22"/>
<circle cx="114.4" cy="912.0" r="1.35" fill="#e01b22"/>
<circle cx="117.6" cy="911.2" r="1.35" fill="#e01b22"/>
<circle cx="111.2" cy="910.7" r="1.35" fill="#e01b22"/>
<circle cx="116.4" cy="909.9" r="1.35" fill="#e01b22"/>
<circle cx="110.8" cy="909.0" r="1.35" fill="#e01b22"/>
<circle cx="116.7" cy="908.6" r="1.35" fill="#e01b22"/>
<circle cx="111.7" cy="907.7" r="1.35" fill="#e01b22"/>
<circle cx="112.6" cy="907.3" r="1.35" fill="#e01b22"/>
<circle cx="116.0" cy="906.1" r="1.35" fill="#e01b22"/>
<circle cx="112.1" cy="905.5" r="1.35" fill="#e01b22"/>
<circle cx="112.5" cy="905.1" r="1.35" fill="#e01b22"/>
<circle cx="118.3" cy="904.7" r="1.35" fill="#e01b22"/>
<circle cx="113.8" cy="903.9" r="1.35" fill="#e01b22"/>
<circle cx="117.5" cy="903.5" r="1.35" fill="#e01b22"/>
<circle cx="111.2" cy="903.0" r="1.35" fill="#e01b22"/>
<circle cx="112.2" cy="902.7" r="1.35" fill="#e01b22"/>
<circle cx="110.1" cy="902.0" r="1.35" fill="#e01b22"/>
<circle cx="114.2" cy="901.9" r="1.35" fill="#e01b22"/>
<circle cx="118.4" cy="901.2" r="1.35" fill="#e01b22"/>
<circle cx="114.6" cy="900.9" r="1.35" fill="#e01b22"/>
<circle cx="116.3" cy="900.3" r="1.35" fill="#e01b22"/>
<circle cx="111.4" cy="899.8" r="1.35" fill="#e01b22"/>
<circle cx="114.4" cy="895.0" r="1.35" fill="#e01b22"/>
<circle cx="117.6" cy="894.2" r="1.35" fill="#e01b22"/>
<circle cx="111.2" cy="893.4" r="1.35" fill="#e01b22"/>
<circle cx="110.5" cy="892.5" r="1.35" fill="#e01b22"/>
<circle cx="114.4" cy="891.6" r="1.35" fill="#e01b22"/>
<circle cx="117.6" cy="891.0" r="1.35" fill="#e01b22"/>
<line x1="109.80" y1="903.98" x2="119.00" y2="903.98" stroke="#111" stroke-width="1.1"/>
<circle cx="128.8" cy="915.8" r="1.35" fill="#e01b22"/>
<circle cx="132.0" cy="915.1" r="1.35" fill="#e01b22"/>
<circle cx="125.6" cy="914.5" r="1.35" fill="#e01b22"/>
<circle cx="126.6" cy="913.7" r="1.35" fill="#e01b22"/>
<circle cx="132.8" cy="913.1" r="1.35" fill="#e01b22"/>
<circle cx="133.1" cy="912.3" r="1.35" fill="#e01b22"/>
<circle cx="128.8" cy="911.4" r="1.35" fill="#e01b22"/>
<circle cx="125.6" cy="910.7" r="1.35" fill="#e01b22"/>
<circle cx="130.8" cy="910.0" r="1.35" fill="#e01b22"/>
<circle cx="133.2" cy="909.6" r="1.35" fill="#e01b22"/>
<circle cx="132.2" cy="908.6" r="1.35" fill="#e01b22"/>
<circle cx="127.2" cy="908.1" r="1.35" fill="#e01b22"/>
<circle cx="132.1" cy="907.5" r="1.35" fill="#e01b22"/>
<circle cx="131.1" cy="906.8" r="1.35" fill="#e01b22"/>
<circle cx="131.5" cy="905.9" r="1.35" fill="#e01b22"/>
<circle cx="127.2" cy="905.1" r="1.35" fill="#e01b22"/>
<circle cx="130.5" cy="904.3" r="1.35" fill="#e01b22"/>
<circle cx="125.5" cy="903.8" r="1.35" fill="#e01b22"/>
<circle cx="128.8" cy="893.0" r="1.35" fill="#e01b22"/>
<circle cx="128.8" cy="884.8" r="1.35" fill="#e01b22"/>
<circle cx="132.0" cy="883.4" r="1.35" fill="#e01b22"/>
<circle cx="128.8" cy="881.8" r="1.35" fill="#e01b22"/>
<circle cx="125.6" cy="881.1" r="1.35" fill="#e01b22"/>
<circle cx="132.0" cy="879.7" r="1.35" fill="#e01b22"/>
<circle cx="128.8" cy="878.1" r="1.35" fill="#e01b22"/>
<circle cx="128.8" cy="859.4" r="1.35" fill="#e01b22"/>
<circle cx="132.0" cy="857.6" r="1.35" fill="#e01b22"/>
<circle cx="128.8" cy="849.6" r="1.35" fill="#e01b22"/>
<circle cx="132.0" cy="848.8" r="1.35" fill="#e01b22"/>
<circle cx="125.6" cy="847.4" r="1.35" fill="#e01b22"/>
<circle cx="128.8" cy="832.6" r="1.35" fill="#e01b22"/>
<circle cx="132.0" cy="832.0" r="1.35" fill="#e01b22"/>
<circle cx="128.8" cy="829.9" r="1.35" fill="#e01b22"/>
<circle cx="128.8" cy="813.2" r="1.35" fill="#e01b22"/>
<line x1="124.20" y1="888.57" x2="133.40" y2="888.57" stroke="#111" stroke-width="1.1"/>
<circle cx="142.7" cy="920.9" r="1.35" fill="#e01b22"/>
<circle cx="145.9" cy="920.2" r="1.35" fill="#e01b22"/>
<circle cx="142.7" cy="914.8" r="1.35" fill="#e01b22"/>
<circle cx="145.9" cy="913.5" r="1.35" fill="#e01b22"/>
<circle cx="142.7" cy="911.8" r="1.35" fill="#e01b22"/>
<circle cx="142.7" cy="904.2" r="1.35" fill="#e01b22"/>
<circle cx="145.9" cy="902.6" r="1.35" fill="#e01b22"/>
<circle cx="142.7" cy="901.3" r="1.35" fill="#e01b22"/>
<circle cx="142.7" cy="894.7" r="1.35" fill="#e01b22"/>
<circle cx="145.9" cy="894.2" r="1.35" fill="#e01b22"/>
<circle cx="141.1" cy="892.4" r="1.35" fill="#e01b22"/>
<circle cx="144.3" cy="890.9" r="1.35" fill="#e01b22"/>
<circle cx="142.3" cy="890.3" r="1.35" fill="#e01b22"/>
<circle cx="145.9" cy="888.6" r="1.35" fill="#e01b22"/>
<circle cx="142.7" cy="887.6" r="1.35" fill="#e01b22"/>
<circle cx="142.7" cy="879.8" r="1.35" fill="#e01b22"/>
<circle cx="145.9" cy="879.8" r="1.35" fill="#e01b22"/>
<circle cx="142.7" cy="872.1" r="1.35" fill="#e01b22"/>
<circle cx="142.7" cy="862.1" r="1.35" fill="#e01b22"/>
<circle cx="142.7" cy="850.7" r="1.35" fill="#e01b22"/>
<circle cx="145.9" cy="849.6" r="1.35" fill="#e01b22"/>
<circle cx="142.7" cy="842.9" r="1.35" fill="#e01b22"/>
<circle cx="142.7" cy="834.6" r="1.35" fill="#e01b22"/>
<circle cx="142.7" cy="826.7" r="1.35" fill="#e01b22"/>
<circle cx="145.9" cy="825.5" r="1.35" fill="#e01b22"/>
<circle cx="141.1" cy="824.4" r="1.35" fill="#e01b22"/>
<line x1="138.10" y1="878.66" x2="147.30" y2="878.66" stroke="#111" stroke-width="1.1"/>
<circle cx="156.7" cy="917.6" r="1.35" fill="#e01b22"/>
<circle cx="159.9" cy="916.8" r="1.35" fill="#e01b22"/>
<circle cx="153.5" cy="916.5" r="1.35" fill="#e01b22"/>
<circle cx="156.7" cy="910.5" r="1.35" fill="#e01b22"/>
<circle cx="159.9" cy="909.7" r="1.35" fill="#e01b22"/>
<circle cx="153.5" cy="908.8" r="1.35" fill="#e01b22"/>
<circle cx="156.7" cy="907.5" r="1.35" fill="#e01b22"/>
<circle cx="159.9" cy="906.8" r="1.35" fill="#e01b22"/>
<circle cx="153.5" cy="905.8" r="1.35" fill="#e01b22"/>
<circle cx="156.7" cy="904.7" r="1.35" fill="#e01b22"/>
<circle cx="159.9" cy="904.0" r="1.35" fill="#e01b22"/>
<circle cx="153.5" cy="902.7" r="1.35" fill="#e01b22"/>
<circle cx="153.0" cy="902.1" r="1.35" fill="#e01b22"/>
<circle cx="156.7" cy="901.1" r="1.35" fill="#e01b22"/>
<circle cx="159.9" cy="900.1" r="1.35" fill="#e01b22"/>
<circle cx="156.7" cy="896.2" r="1.35" fill="#e01b22"/>
<circle cx="159.9" cy="894.6" r="1.35" fill="#e01b22"/>
<circle cx="155.1" cy="893.9" r="1.35" fill="#e01b22"/>
<circle cx="159.4" cy="892.7" r="1.35" fill="#e01b22"/>
<circle cx="156.7" cy="890.8" r="1.35" fill="#e01b22"/>
<circle cx="159.9" cy="890.0" r="1.35" fill="#e01b22"/>
<circle cx="155.1" cy="888.4" r="1.35" fill="#e01b22"/>
<circle cx="158.3" cy="886.7" r="1.35" fill="#e01b22"/>
<circle cx="156.7" cy="880.7" r="1.35" fill="#e01b22"/>
<circle cx="159.9" cy="879.9" r="1.35" fill="#e01b22"/>
<circle cx="153.5" cy="879.4" r="1.35" fill="#e01b22"/>
<circle cx="156.7" cy="865.7" r="1.35" fill="#e01b22"/>
<circle cx="159.9" cy="864.0" r="1.35" fill="#e01b22"/>
<circle cx="156.7" cy="862.6" r="1.35" fill="#e01b22"/>
<circle cx="158.3" cy="860.0" r="1.35" fill="#e01b22"/>
<circle cx="155.1" cy="858.3" r="1.35" fill="#e01b22"/>
<circle cx="156.7" cy="850.3" r="1.35" fill="#e01b22"/>
<circle cx="159.9" cy="849.1" r="1.35" fill="#e01b22"/>
<circle cx="155.1" cy="848.0" r="1.35" fill="#e01b22"/>
<circle cx="158.3" cy="846.8" r="1.35" fill="#e01b22"/>
<circle cx="155.1" cy="845.4" r="1.35" fill="#e01b22"/>
<circle cx="156.7" cy="840.4" r="1.35" fill="#e01b22"/>
<circle cx="159.9" cy="838.6" r="1.35" fill="#e01b22"/>
<circle cx="156.7" cy="835.7" r="1.35" fill="#e01b22"/>
<circle cx="156.7" cy="830.0" r="1.35" fill="#e01b22"/>
<circle cx="159.9" cy="829.0" r="1.35" fill="#e01b22"/>
<circle cx="155.1" cy="827.7" r="1.35" fill="#e01b22"/>
<circle cx="158.3" cy="826.2" r="1.35" fill="#e01b22"/>
<circle cx="156.7" cy="820.3" r="1.35" fill="#e01b22"/>
<line x1="152.10" y1="877.56" x2="161.30" y2="877.56" stroke="#111" stroke-width="1.1"/>
<circle cx="170.4" cy="911.2" r="1.35" fill="#1b1f94"/>
<circle cx="173.6" cy="910.5" r="1.35" fill="#1b1f94"/>
<circle cx="170.4" cy="908.4" r="1.35" fill="#1b1f94"/>
<circle cx="173.6" cy="907.0" r="1.35" fill="#1b1f94"/>
<circle cx="170.4" cy="905.3" r="1.35" fill="#1b1f94"/>
<circle cx="170.4" cy="901.5" r="1.35" fill="#1b1f94"/>
<circle cx="173.6" cy="900.2" r="1.35" fill="#1b1f94"/>
<circle cx="168.8" cy="899.1" r="1.35" fill="#1b1f94"/>
<circle cx="166.9" cy="898.6" r="1.35" fill="#1b1f94"/>
<circle cx="170.4" cy="890.1" r="1.35" fill="#1b1f94"/>
<circle cx="173.6" cy="888.2" r="1.35" fill="#1b1f94"/>
<circle cx="170.4" cy="881.1" r="1.35" fill="#1b1f94"/>
<circle cx="172.0" cy="878.6" r="1.35" fill="#1b1f94"/>
<circle cx="168.8" cy="877.0" r="1.35" fill="#1b1f94"/>
<circle cx="170.4" cy="864.5" r="1.35" fill="#1b1f94"/>
<circle cx="172.0" cy="862.1" r="1.35" fill="#1b1f94"/>
<circle cx="170.4" cy="855.3" r="1.35" fill="#1b1f94"/>
<circle cx="173.6" cy="854.4" r="1.35" fill="#1b1f94"/>
<circle cx="167.2" cy="853.2" r="1.35" fill="#1b1f94"/>
<circle cx="170.4" cy="848.7" r="1.35" fill="#1b1f94"/>
<circle cx="173.6" cy="847.6" r="1.35" fill="#1b1f94"/>
<circle cx="167.2" cy="846.8" r="1.35" fill="#1b1f94"/>
<circle cx="170.4" cy="823.4" r="1.35" fill="#1b1f94"/>
<circle cx="173.6" cy="821.6" r="1.35" fill="#1b1f94"/>
<circle cx="170.4" cy="813.2" r="1.35" fill="#1b1f94"/>
<line x1="165.80" y1="874.26" x2="175.00" y2="874.26" stroke="#111" stroke-width="1.1"/>
<circle cx="184.2" cy="920.4" r="1.35" fill="#1b1f94"/>
<circle cx="187.4" cy="920.2" r="1.35" fill="#1b1f94"/>
<circle cx="181.0" cy="920.0" r="1.35" fill="#1b1f94"/>
<circle cx="187.5" cy="919.8" r="1.35" fill="#1b1f94"/>
<circle cx="188.0" cy="919.7" r="1.35" fill="#1b1f94"/>
<circle cx="185.0" cy="919.5" r="1.35" fill="#1b1f94"/>
<circle cx="186.8" cy="919.3" r="1.35" fill="#1b1f94"/>
<circle cx="185.2" cy="919.1" r="1.35" fill="#1b1f94"/>
<circle cx="186.5" cy="919.0" r="1.35" fill="#1b1f94"/>
<circle cx="182.0" cy="918.7" r="1.35" fill="#1b1f94"/>
<circle cx="182.2" cy="918.6" r="1.35" fill="#1b1f94"/>
<circle cx="182.5" cy="918.4" r="1.35" fill="#1b1f94"/>
<circle cx="184.3" cy="918.2" r="1.35" fill="#1b1f94"/>
<circle cx="184.3" cy="918.0" r="1.35" fill="#1b1f94"/>
<circle cx="187.8" cy="917.8" r="1.35" fill="#1b1f94"/>
<circle cx="186.9" cy="917.7" r="1.35" fill="#1b1f94"/>
<circle cx="182.8" cy="917.5" r="1.35" fill="#1b1f94"/>
<circle cx="183.1" cy="917.2" r="1.35" fill="#1b1f94"/>
<circle cx="186.0" cy="916.5" r="1.35" fill="#1b1f94"/>
<circle cx="186.3" cy="916.2" r="1.35" fill="#1b1f94"/>
<circle cx="180.3" cy="915.6" r="1.35" fill="#1b1f94"/>
<circle cx="183.5" cy="915.3" r="1.35" fill="#1b1f94"/>
<circle cx="179.9" cy="915.0" r="1.35" fill="#1b1f94"/>
<circle cx="185.9" cy="914.4" r="1.35" fill="#1b1f94"/>
<circle cx="188.4" cy="914.3" r="1.35" fill="#1b1f94"/>
<circle cx="181.4" cy="913.7" r="1.35" fill="#1b1f94"/>
<circle cx="184.8" cy="913.4" r="1.35" fill="#1b1f94"/>
<circle cx="188.1" cy="913.1" r="1.35" fill="#1b1f94"/>
<circle cx="184.2" cy="909.8" r="1.35" fill="#1b1f94"/>
<circle cx="187.4" cy="908.6" r="1.35" fill="#1b1f94"/>
<circle cx="181.0" cy="907.7" r="1.35" fill="#1b1f94"/>
<line x1="179.60" y1="917.20" x2="188.80" y2="917.20" stroke="#111" stroke-width="1.1"/>
<circle cx="197.7" cy="920.4" r="1.35" fill="#1b1f94"/>
<circle cx="200.9" cy="920.2" r="1.35" fill="#1b1f94"/>
<circle cx="194.5" cy="920.0" r="1.35" fill="#1b1f94"/>
<circle cx="196.5" cy="919.8" r="1.35" fill="#1b1f94"/>
<circle cx="195.3" cy="919.5" r="1.35" fill="#1b1f94"/>
<circle cx="199.0" cy="919.4" r="1.35" fill="#1b1f94"/>
<circle cx="199.2" cy="919.1" r="1.35" fill="#1b1f94"/>
<circle cx="200.1" cy="918.9" r="1.35" fill="#1b1f94"/>
<circle cx="197.0" cy="918.7" r="1.35" fill="#1b1f94"/>
<circle cx="198.3" cy="918.5" r="1.35" fill="#1b1f94"/>
<circle cx="200.5" cy="918.3" r="1.35" fill="#1b1f94"/>
<circle cx="200.5" cy="918.2" r="1.35" fill="#1b1f94"/>
<circle cx="195.3" cy="918.0" r="1.35" fill="#1b1f94"/>
<circle cx="197.3" cy="917.7" r="1.35" fill="#1b1f94"/>
<circle cx="195.1" cy="917.5" r="1.35" fill="#1b1f94"/>
<circle cx="193.8" cy="917.3" r="1.35" fill="#1b1f94"/>
<circle cx="194.5" cy="916.5" r="1.35" fill="#1b1f94"/>
<circle cx="199.8" cy="916.0" r="1.35" fill="#1b1f94"/>
<circle cx="196.7" cy="915.6" r="1.35" fill="#1b1f94"/>
<circle cx="196.2" cy="915.2" r="1.35" fill="#1b1f94"/>
<circle cx="200.7" cy="914.6" r="1.35" fill="#1b1f94"/>
<circle cx="200.7" cy="914.3" r="1.35" fill="#1b1f94"/>
<circle cx="201.6" cy="913.8" r="1.35" fill="#1b1f94"/>
<circle cx="194.9" cy="913.3" r="1.35" fill="#1b1f94"/>
<circle cx="194.2" cy="912.9" r="1.35" fill="#1b1f94"/>
<circle cx="194.0" cy="912.5" r="1.35" fill="#1b1f94"/>
<circle cx="197.7" cy="909.6" r="1.35" fill="#1b1f94"/>
<circle cx="200.9" cy="908.9" r="1.35" fill="#1b1f94"/>
<circle cx="194.5" cy="907.7" r="1.35" fill="#1b1f94"/>
<circle cx="196.9" cy="907.3" r="1.35" fill="#1b1f94"/>
<line x1="193.10" y1="916.65" x2="202.30" y2="916.65" stroke="#111" stroke-width="1.1"/>
<circle cx="211.7" cy="920.4" r="1.35" fill="#1b1f94"/>
<circle cx="214.9" cy="920.2" r="1.35" fill="#1b1f94"/>
<circle cx="208.5" cy="920.1" r="1.35" fill="#1b1f94"/>
<circle cx="214.3" cy="919.9" r="1.35" fill="#1b1f94"/>
<circle cx="213.7" cy="919.7" r="1.35" fill="#1b1f94"/>
<circle cx="209.9" cy="919.5" r="1.35" fill="#1b1f94"/>
<circle cx="210.4" cy="919.3" r="1.35" fill="#1b1f94"/>
<circle cx="210.5" cy="919.2" r="1.35" fill="#1b1f94"/>
<circle cx="215.0" cy="919.0" r="1.35" fill="#1b1f94"/>
<circle cx="213.1" cy="918.8" r="1.35" fill="#1b1f94"/>
<circle cx="215.9" cy="918.6" r="1.35" fill="#1b1f94"/>
<circle cx="208.3" cy="918.4" r="1.35" fill="#1b1f94"/>
<circle cx="211.8" cy="918.2" r="1.35" fill="#1b1f94"/>
<circle cx="214.8" cy="918.0" r="1.35" fill="#1b1f94"/>
<circle cx="210.9" cy="917.9" r="1.35" fill="#1b1f94"/>
<circle cx="215.6" cy="917.7" r="1.35" fill="#1b1f94"/>
<circle cx="212.2" cy="917.5" r="1.35" fill="#1b1f94"/>
<circle cx="212.1" cy="917.3" r="1.35" fill="#1b1f94"/>
<circle cx="213.4" cy="916.5" r="1.35" fill="#1b1f94"/>
<circle cx="211.5" cy="916.1" r="1.35" fill="#1b1f94"/>
<circle cx="214.0" cy="915.9" r="1.35" fill="#1b1f94"/>
<circle cx="212.3" cy="915.5" r="1.35" fill="#1b1f94"/>
<circle cx="208.5" cy="915.2" r="1.35" fill="#1b1f94"/>
<circle cx="213.9" cy="914.9" r="1.35" fill="#1b1f94"/>
<circle cx="208.2" cy="914.6" r="1.35" fill="#1b1f94"/>
<circle cx="208.8" cy="914.2" r="1.35" fill="#1b1f94"/>
<circle cx="208.0" cy="913.9" r="1.35" fill="#1b1f94"/>
<circle cx="213.4" cy="913.6" r="1.35" fill="#1b1f94"/>
<circle cx="211.7" cy="911.0" r="1.35" fill="#1b1f94"/>
<circle cx="214.9" cy="910.2" r="1.35" fill="#1b1f94"/>
<circle cx="208.5" cy="909.3" r="1.35" fill="#1b1f94"/>
<circle cx="215.4" cy="908.6" r="1.35" fill="#1b1f94"/>
<line x1="207.10" y1="917.20" x2="216.30" y2="917.20" stroke="#111" stroke-width="1.1"/>
<circle cx="225.8" cy="918.6" r="1.35" fill="#1b1f94"/>
<circle cx="229.0" cy="917.7" r="1.35" fill="#1b1f94"/>
<circle cx="222.6" cy="917.3" r="1.35" fill="#1b1f94"/>
<circle cx="224.2" cy="916.6" r="1.35" fill="#1b1f94"/>
<circle cx="225.8" cy="912.1" r="1.35" fill="#1b1f94"/>
<circle cx="229.0" cy="911.6" r="1.35" fill="#1b1f94"/>
<circle cx="222.6" cy="910.5" r="1.35" fill="#1b1f94"/>
<circle cx="227.2" cy="909.6" r="1.35" fill="#1b1f94"/>
<circle cx="223.6" cy="908.8" r="1.35" fill="#1b1f94"/>
<circle cx="223.1" cy="908.0" r="1.35" fill="#1b1f94"/>
<circle cx="225.8" cy="906.4" r="1.35" fill="#1b1f94"/>
<circle cx="229.0" cy="905.5" r="1.35" fill="#1b1f94"/>
<circle cx="222.6" cy="904.6" r="1.35" fill="#1b1f94"/>
<circle cx="230.1" cy="903.9" r="1.35" fill="#1b1f94"/>
<circle cx="225.8" cy="901.1" r="1.35" fill="#1b1f94"/>
<circle cx="229.0" cy="900.3" r="1.35" fill="#1b1f94"/>
<circle cx="222.6" cy="899.6" r="1.35" fill="#1b1f94"/>
<circle cx="223.3" cy="899.1" r="1.35" fill="#1b1f94"/>
<circle cx="223.5" cy="898.5" r="1.35" fill="#1b1f94"/>
<circle cx="227.4" cy="897.8" r="1.35" fill="#1b1f94"/>
<circle cx="223.7" cy="897.4" r="1.35" fill="#1b1f94"/>
<circle cx="225.9" cy="896.7" r="1.35" fill="#1b1f94"/>
<circle cx="223.1" cy="896.1" r="1.35" fill="#1b1f94"/>
<circle cx="221.8" cy="895.7" r="1.35" fill="#1b1f94"/>
<circle cx="229.0" cy="895.1" r="1.35" fill="#1b1f94"/>
<circle cx="224.5" cy="894.3" r="1.35" fill="#1b1f94"/>
<circle cx="225.4" cy="893.9" r="1.35" fill="#1b1f94"/>
<circle cx="221.5" cy="893.3" r="1.35" fill="#1b1f94"/>
<circle cx="225.8" cy="889.7" r="1.35" fill="#1b1f94"/>
<circle cx="229.0" cy="888.4" r="1.35" fill="#1b1f94"/>
<circle cx="225.8" cy="886.1" r="1.35" fill="#1b1f94"/>
<circle cx="229.0" cy="885.0" r="1.35" fill="#1b1f94"/>
<circle cx="225.8" cy="883.4" r="1.35" fill="#1b1f94"/>
<circle cx="229.0" cy="882.2" r="1.35" fill="#1b1f94"/>
<circle cx="225.8" cy="872.4" r="1.35" fill="#1b1f94"/>
<circle cx="229.0" cy="872.1" r="1.35" fill="#1b1f94"/>
<circle cx="225.8" cy="861.0" r="1.35" fill="#1b1f94"/>
<circle cx="225.8" cy="854.4" r="1.35" fill="#1b1f94"/>
<circle cx="229.0" cy="854.4" r="1.35" fill="#1b1f94"/>
<line x1="221.20" y1="897.38" x2="230.40" y2="897.38" stroke="#111" stroke-width="1.1"/>
<circle cx="239.6" cy="918.6" r="1.35" fill="#1b1f94"/>
<circle cx="242.8" cy="917.6" r="1.35" fill="#1b1f94"/>
<circle cx="236.4" cy="917.0" r="1.35" fill="#1b1f94"/>
<circle cx="240.3" cy="916.2" r="1.35" fill="#1b1f94"/>
<circle cx="240.7" cy="915.3" r="1.35" fill="#1b1f94"/>
<circle cx="237.2" cy="914.9" r="1.35" fill="#1b1f94"/>
<circle cx="243.2" cy="913.8" r="1.35" fill="#1b1f94"/>
<circle cx="241.2" cy="913.1" r="1.35" fill="#1b1f94"/>
<circle cx="238.0" cy="912.3" r="1.35" fill="#1b1f94"/>
<circle cx="237.6" cy="911.4" r="1.35" fill="#1b1f94"/>
<circle cx="239.6" cy="906.8" r="1.35" fill="#1b1f94"/>
<circle cx="242.8" cy="905.6" r="1.35" fill="#1b1f94"/>
<circle cx="239.6" cy="903.8" r="1.35" fill="#1b1f94"/>
<circle cx="242.8" cy="902.6" r="1.35" fill="#1b1f94"/>
<circle cx="238.0" cy="901.5" r="1.35" fill="#1b1f94"/>
<circle cx="241.2" cy="900.2" r="1.35" fill="#1b1f94"/>
<circle cx="239.6" cy="895.8" r="1.35" fill="#1b1f94"/>
<circle cx="242.8" cy="894.9" r="1.35" fill="#1b1f94"/>
<circle cx="238.0" cy="893.5" r="1.35" fill="#1b1f94"/>
<circle cx="241.2" cy="892.4" r="1.35" fill="#1b1f94"/>
<circle cx="243.9" cy="891.5" r="1.35" fill="#1b1f94"/>
<circle cx="239.6" cy="883.7" r="1.35" fill="#1b1f94"/>
<circle cx="242.8" cy="882.7" r="1.35" fill="#1b1f94"/>
<circle cx="239.6" cy="875.0" r="1.35" fill="#1b1f94"/>
<circle cx="242.8" cy="874.1" r="1.35" fill="#1b1f94"/>
<circle cx="236.4" cy="873.3" r="1.35" fill="#1b1f94"/>
<circle cx="239.6" cy="867.8" r="1.35" fill="#1b1f94"/>
<circle cx="242.8" cy="866.0" r="1.35" fill="#1b1f94"/>
<circle cx="239.6" cy="848.7" r="1.35" fill="#1b1f94"/>
<circle cx="242.8" cy="846.9" r="1.35" fill="#1b1f94"/>
<circle cx="239.6" cy="834.6" r="1.35" fill="#1b1f94"/>
<circle cx="239.6" cy="823.6" r="1.35" fill="#1b1f94"/>
<circle cx="239.6" cy="815.4" r="1.35" fill="#1b1f94"/>
<line x1="235.00" y1="889.12" x2="244.20" y2="889.12" stroke="#111" stroke-width="1.1"/>
<text x="83.20" y="777.30" font-size="6.75" fill="#1c1c1c" stroke="#1c1c1c" stroke-width="0.3">P&lt;0.0001</text>
<line x1="83.00" y1="778.90" x2="104.90" y2="778.90" stroke="#1c1c1c" stroke-width="0.9"/>
<text x="97.20" y="785.30" font-size="6.75" fill="#1c1c1c" stroke="#1c1c1c" stroke-width="0.3">P&lt;0.0001</text>
<line x1="97.00" y1="786.90" x2="115.50" y2="786.90" stroke="#1c1c1c" stroke-width="0.9"/>
<text x="109.90" y="793.10" font-size="6.75" fill="#1c1c1c" stroke="#1c1c1c" stroke-width="0.3">P=0.0094</text>
<line x1="109.70" y1="794.70" x2="125.40" y2="794.70" stroke="#1c1c1c" stroke-width="0.9"/>
<text x="124.70" y="801.40" font-size="6.75" fill="#1c1c1c" stroke="#1c1c1c" stroke-width="0.3">P=0.2150</text>
<line x1="124.50" y1="803.00" x2="143.00" y2="803.00" stroke="#1c1c1c" stroke-width="0.9"/>
<text x="135.70" y="808.40" font-size="6.75" fill="#1c1c1c" stroke="#1c1c1c" stroke-width="0.3">P=0.8485</text>
<line x1="135.50" y1="809.80" x2="156.70" y2="809.80" stroke="#1c1c1c" stroke-width="0.9"/>
<text x="166.90" y="777.20" font-size="6.75" fill="#1c1c1c" stroke="#1c1c1c" stroke-width="0.3">P&lt;0.0001</text>
<line x1="166.70" y1="779.10" x2="187.50" y2="779.10" stroke="#1c1c1c" stroke-width="0.9"/>
<text x="180.80" y="786.10" font-size="6.75" fill="#1c1c1c" stroke="#1c1c1c" stroke-width="0.3">P=0.1924</text>
<line x1="180.60" y1="787.30" x2="201.30" y2="787.30" stroke="#1c1c1c" stroke-width="0.9"/>
<text x="193.90" y="793.10" font-size="6.75" fill="#1c1c1c" stroke="#1c1c1c" stroke-width="0.3">P=0.3158</text>
<line x1="193.70" y1="794.70" x2="214.00" y2="794.70" stroke="#1c1c1c" stroke-width="0.9"/>
<text x="206.20" y="799.80" font-size="6.75" fill="#1c1c1c" stroke="#1c1c1c" stroke-width="0.3">P&lt;0.0001</text>
<line x1="206.00" y1="801.40" x2="224.50" y2="801.40" stroke="#1c1c1c" stroke-width="0.9"/>
<text x="218.30" y="807.50" font-size="6.75" fill="#1c1c1c" stroke="#1c1c1c" stroke-width="0.3">P=0.1498</text>
<line x1="218.10" y1="809.40" x2="240.40" y2="809.40" stroke="#1c1c1c" stroke-width="0.9"/>
<text x="100.60" y="933.30" font-size="8.0" text-anchor="middle" fill="#222" stroke="#222" stroke-width="0.3">0</text>
<text x="114.40" y="933.30" font-size="8.0" text-anchor="middle" fill="#222" stroke="#222" stroke-width="0.3">5</text>
<text x="128.80" y="933.30" font-size="8.0" text-anchor="middle" fill="#222" stroke="#222" stroke-width="0.3">10</text>
<text x="142.70" y="933.30" font-size="8.0" text-anchor="middle" fill="#222" stroke="#222" stroke-width="0.3">20</text>
<text x="156.70" y="933.30" font-size="8.0" text-anchor="middle" fill="#222" stroke="#222" stroke-width="0.3">40</text>
<text x="184.20" y="933.30" font-size="8.0" text-anchor="middle" fill="#222" stroke="#222" stroke-width="0.3">0</text>
<text x="197.70" y="933.30" font-size="8.0" text-anchor="middle" fill="#222" stroke="#222" stroke-width="0.3">5</text>
<text x="211.70" y="933.30" font-size="8.0" text-anchor="middle" fill="#222" stroke="#222" stroke-width="0.3">10</text>
<text x="225.80" y="933.30" font-size="8.0" text-anchor="middle" fill="#222" stroke="#222" stroke-width="0.3">20</text>
<text x="239.60" y="933.30" font-size="8.0" text-anchor="middle" fill="#222" stroke="#222" stroke-width="0.3">40</text>
<text x="246.30" y="933.30" font-size="7.5" fill="#222" stroke="#222" stroke-width="0.3">µg/ml</text>
<line x1="102.30" y1="935.40" x2="163.00" y2="935.40" stroke="#222" stroke-width="0.9"/>
<line x1="183.00" y1="935.40" x2="244.80" y2="935.40" stroke="#222" stroke-width="0.9"/>
<text x="81.20" y="930.20" font-size="8.0" fill="#222" stroke="#222" stroke-width="0.3" transform="rotate(34 81.20 930.20)">control</text>
<text x="166.80" y="929.60" font-size="8.0" fill="#222" stroke="#222" stroke-width="0.3" transform="rotate(34 166.80 929.60)">control</text>
<text transform="translate(127.8,954.7) scale(1.075,1)" font-size="7.5" fill="#222" stroke="#222" stroke-width="0.3">anti-CTLA-4 + 1µg/ml anti-CD3</text>
<circle cx="257.1" cy="746.1" r="2.3" fill="#e01b22"/>
<text x="263.40" y="748.30" font-size="6.5" fill="#d8232a" stroke="#d8232a" stroke-width="0.3">GFP-FoxP3 neg.</text>
<ellipse cx="257.1" cy="756.5" rx="2.2" ry="2.6" fill="#0b0b2a"/>
<text x="263.40" y="759.40" font-size="6.5" fill="#1f3f9a" stroke="#1f3f9a" stroke-width="0.3">GFP-FoxP3 pos.</text>
</g>
</svg>
</body></html>
